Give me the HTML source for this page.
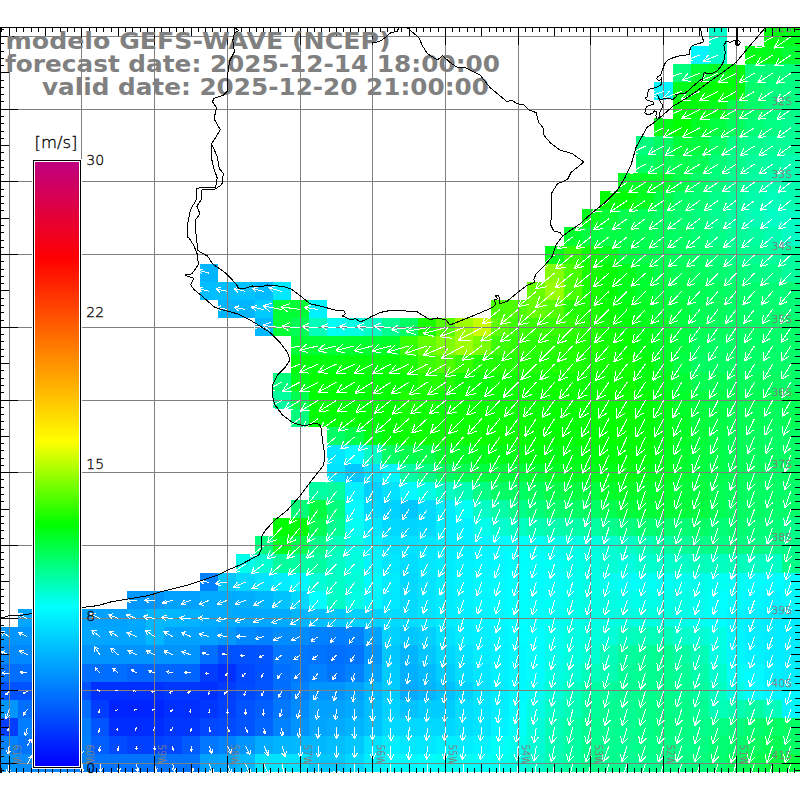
<!DOCTYPE html><html><head><meta charset="utf-8"><title>GEFS-WAVE</title><style>html,body{margin:0;padding:0;background:#fff}svg{display:block}</style></head><body><svg width="800" height="800" viewBox="0 0 800 800">
<rect width="800" height="800" fill="#fff"/>
<defs><clipPath id="fr"><rect x="0" y="28" width="800" height="744"/></clipPath>
<linearGradient id="cb" x1="0" y1="1" x2="0" y2="0">
<stop offset="0.0000" stop-color="rgb(0,0,255)"/>
<stop offset="0.2633" stop-color="rgb(0,255,255)"/>
<stop offset="0.4000" stop-color="rgb(0,255,0)"/>
<stop offset="0.5367" stop-color="rgb(255,255,0)"/>
<stop offset="0.8400" stop-color="rgb(255,0,0)"/>
<stop offset="1.0000" stop-color="rgb(192,0,128)"/>
</linearGradient></defs>
<g clip-path="url(#fr)" shape-rendering="crispEdges">
<rect x="709" y="27" width="18" height="19" fill="rgb(0,255,203)"/>
<rect x="764" y="27" width="18" height="19" fill="rgb(0,255,13)"/>
<rect x="782" y="27" width="18" height="19" fill="rgb(0,255,26)"/>
<rect x="691" y="46" width="18" height="18" fill="rgb(0,245,255)"/>
<rect x="709" y="46" width="18" height="18" fill="rgb(0,255,203)"/>
<rect x="745" y="46" width="19" height="18" fill="rgb(0,255,20)"/>
<rect x="764" y="46" width="18" height="18" fill="rgb(0,255,26)"/>
<rect x="782" y="46" width="18" height="18" fill="rgb(0,255,52)"/>
<rect x="673" y="64" width="18" height="18" fill="rgb(0,255,124)"/>
<rect x="691" y="64" width="18" height="18" fill="rgb(0,255,52)"/>
<rect x="709" y="64" width="18" height="18" fill="rgb(0,255,39)"/>
<rect x="727" y="64" width="18" height="18" fill="rgb(0,255,13)"/>
<rect x="745" y="64" width="19" height="18" fill="rgb(0,255,118)"/>
<rect x="764" y="64" width="18" height="18" fill="rgb(0,255,118)"/>
<rect x="782" y="64" width="18" height="18" fill="rgb(0,255,124)"/>
<rect x="654" y="82" width="19" height="18" fill="rgb(0,245,255)"/>
<rect x="673" y="82" width="18" height="18" fill="rgb(0,255,26)"/>
<rect x="691" y="82" width="18" height="18" fill="rgb(0,255,0)"/>
<rect x="709" y="82" width="18" height="18" fill="rgb(0,255,0)"/>
<rect x="727" y="82" width="18" height="18" fill="rgb(0,255,13)"/>
<rect x="745" y="82" width="19" height="18" fill="rgb(0,255,105)"/>
<rect x="764" y="82" width="18" height="18" fill="rgb(0,255,124)"/>
<rect x="782" y="82" width="18" height="18" fill="rgb(0,255,131)"/>
<rect x="673" y="100" width="18" height="18" fill="rgb(0,255,7)"/>
<rect x="691" y="100" width="18" height="18" fill="rgb(0,255,13)"/>
<rect x="709" y="100" width="18" height="18" fill="rgb(0,255,26)"/>
<rect x="727" y="100" width="18" height="18" fill="rgb(0,255,78)"/>
<rect x="745" y="100" width="19" height="18" fill="rgb(0,255,105)"/>
<rect x="764" y="100" width="18" height="18" fill="rgb(0,255,124)"/>
<rect x="782" y="100" width="18" height="18" fill="rgb(0,255,137)"/>
<rect x="654" y="118" width="19" height="18" fill="rgb(0,255,20)"/>
<rect x="673" y="118" width="18" height="18" fill="rgb(0,255,0)"/>
<rect x="691" y="118" width="18" height="18" fill="rgb(0,255,39)"/>
<rect x="709" y="118" width="18" height="18" fill="rgb(0,255,65)"/>
<rect x="727" y="118" width="18" height="18" fill="rgb(0,255,92)"/>
<rect x="745" y="118" width="19" height="18" fill="rgb(0,255,118)"/>
<rect x="764" y="118" width="18" height="18" fill="rgb(0,255,131)"/>
<rect x="782" y="118" width="18" height="18" fill="rgb(0,255,144)"/>
<rect x="636" y="136" width="18" height="19" fill="rgb(0,255,124)"/>
<rect x="654" y="136" width="19" height="19" fill="rgb(0,255,98)"/>
<rect x="673" y="136" width="18" height="19" fill="rgb(0,255,59)"/>
<rect x="691" y="136" width="18" height="19" fill="rgb(0,255,65)"/>
<rect x="709" y="136" width="18" height="19" fill="rgb(0,255,98)"/>
<rect x="727" y="136" width="18" height="19" fill="rgb(0,255,131)"/>
<rect x="745" y="136" width="19" height="19" fill="rgb(0,255,141)"/>
<rect x="764" y="136" width="18" height="19" fill="rgb(0,255,150)"/>
<rect x="782" y="136" width="18" height="19" fill="rgb(0,255,150)"/>
<rect x="636" y="155" width="18" height="18" fill="rgb(0,255,98)"/>
<rect x="654" y="155" width="19" height="18" fill="rgb(0,255,85)"/>
<rect x="673" y="155" width="18" height="18" fill="rgb(0,255,78)"/>
<rect x="691" y="155" width="18" height="18" fill="rgb(0,255,85)"/>
<rect x="709" y="155" width="18" height="18" fill="rgb(0,255,118)"/>
<rect x="727" y="155" width="18" height="18" fill="rgb(0,255,137)"/>
<rect x="745" y="155" width="19" height="18" fill="rgb(0,255,154)"/>
<rect x="764" y="155" width="18" height="18" fill="rgb(0,255,163)"/>
<rect x="782" y="155" width="18" height="18" fill="rgb(0,255,177)"/>
<rect x="618" y="173" width="18" height="18" fill="rgb(0,255,39)"/>
<rect x="636" y="173" width="18" height="18" fill="rgb(0,255,39)"/>
<rect x="654" y="173" width="19" height="18" fill="rgb(0,255,46)"/>
<rect x="673" y="173" width="18" height="18" fill="rgb(0,255,75)"/>
<rect x="691" y="173" width="18" height="18" fill="rgb(0,255,105)"/>
<rect x="709" y="173" width="18" height="18" fill="rgb(0,255,124)"/>
<rect x="727" y="173" width="18" height="18" fill="rgb(0,255,144)"/>
<rect x="745" y="173" width="19" height="18" fill="rgb(0,255,160)"/>
<rect x="764" y="173" width="18" height="18" fill="rgb(0,255,177)"/>
<rect x="782" y="173" width="18" height="18" fill="rgb(0,255,177)"/>
<rect x="600" y="191" width="18" height="18" fill="rgb(0,255,7)"/>
<rect x="618" y="191" width="18" height="18" fill="rgb(0,255,0)"/>
<rect x="636" y="191" width="18" height="18" fill="rgb(0,255,33)"/>
<rect x="654" y="191" width="19" height="18" fill="rgb(0,255,72)"/>
<rect x="673" y="191" width="18" height="18" fill="rgb(0,255,101)"/>
<rect x="691" y="191" width="18" height="18" fill="rgb(0,255,114)"/>
<rect x="709" y="191" width="18" height="18" fill="rgb(0,255,134)"/>
<rect x="727" y="191" width="18" height="18" fill="rgb(0,255,154)"/>
<rect x="745" y="191" width="19" height="18" fill="rgb(0,255,170)"/>
<rect x="764" y="191" width="18" height="18" fill="rgb(0,255,186)"/>
<rect x="782" y="191" width="18" height="18" fill="rgb(0,255,177)"/>
<rect x="582" y="209" width="18" height="18" fill="rgb(0,255,26)"/>
<rect x="600" y="209" width="18" height="18" fill="rgb(0,255,52)"/>
<rect x="618" y="209" width="18" height="18" fill="rgb(0,255,78)"/>
<rect x="636" y="209" width="18" height="18" fill="rgb(0,255,88)"/>
<rect x="654" y="209" width="19" height="18" fill="rgb(0,255,98)"/>
<rect x="673" y="209" width="18" height="18" fill="rgb(0,255,111)"/>
<rect x="691" y="209" width="18" height="18" fill="rgb(0,255,124)"/>
<rect x="709" y="209" width="18" height="18" fill="rgb(0,255,144)"/>
<rect x="727" y="209" width="18" height="18" fill="rgb(0,255,163)"/>
<rect x="745" y="209" width="19" height="18" fill="rgb(0,255,180)"/>
<rect x="764" y="209" width="18" height="18" fill="rgb(0,255,196)"/>
<rect x="782" y="209" width="18" height="18" fill="rgb(0,255,196)"/>
<rect x="564" y="227" width="18" height="19" fill="rgb(0,255,46)"/>
<rect x="582" y="227" width="18" height="19" fill="rgb(0,255,65)"/>
<rect x="600" y="227" width="18" height="19" fill="rgb(0,255,69)"/>
<rect x="618" y="227" width="18" height="19" fill="rgb(0,255,72)"/>
<rect x="636" y="227" width="18" height="19" fill="rgb(0,255,82)"/>
<rect x="654" y="227" width="19" height="19" fill="rgb(0,255,92)"/>
<rect x="673" y="227" width="18" height="19" fill="rgb(0,255,101)"/>
<rect x="691" y="227" width="18" height="19" fill="rgb(0,255,114)"/>
<rect x="709" y="227" width="18" height="19" fill="rgb(0,255,134)"/>
<rect x="727" y="227" width="18" height="19" fill="rgb(0,255,150)"/>
<rect x="745" y="227" width="19" height="19" fill="rgb(0,255,160)"/>
<rect x="764" y="227" width="18" height="19" fill="rgb(0,255,177)"/>
<rect x="782" y="227" width="18" height="19" fill="rgb(0,255,196)"/>
<rect x="545" y="246" width="19" height="18" fill="rgb(0,255,26)"/>
<rect x="564" y="246" width="18" height="18" fill="rgb(49,255,0)"/>
<rect x="582" y="246" width="18" height="18" fill="rgb(12,255,0)"/>
<rect x="600" y="246" width="18" height="18" fill="rgb(0,255,26)"/>
<rect x="618" y="246" width="18" height="18" fill="rgb(0,255,65)"/>
<rect x="636" y="246" width="18" height="18" fill="rgb(0,255,75)"/>
<rect x="654" y="246" width="19" height="18" fill="rgb(0,255,85)"/>
<rect x="673" y="246" width="18" height="18" fill="rgb(0,255,95)"/>
<rect x="691" y="246" width="18" height="18" fill="rgb(0,255,105)"/>
<rect x="709" y="246" width="18" height="18" fill="rgb(0,255,121)"/>
<rect x="727" y="246" width="18" height="18" fill="rgb(0,255,137)"/>
<rect x="745" y="246" width="19" height="18" fill="rgb(0,255,147)"/>
<rect x="764" y="246" width="18" height="18" fill="rgb(0,255,157)"/>
<rect x="782" y="246" width="18" height="18" fill="rgb(0,255,157)"/>
<rect x="200" y="264" width="18" height="18" fill="rgb(0,181,255)"/>
<rect x="545" y="264" width="19" height="18" fill="rgb(134,255,0)"/>
<rect x="564" y="264" width="18" height="18" fill="rgb(73,255,0)"/>
<rect x="582" y="264" width="18" height="18" fill="rgb(24,255,0)"/>
<rect x="600" y="264" width="18" height="18" fill="rgb(0,255,0)"/>
<rect x="618" y="264" width="18" height="18" fill="rgb(0,255,26)"/>
<rect x="636" y="264" width="18" height="18" fill="rgb(0,255,51)"/>
<rect x="654" y="264" width="19" height="18" fill="rgb(0,255,75)"/>
<rect x="673" y="264" width="18" height="18" fill="rgb(0,255,85)"/>
<rect x="691" y="264" width="18" height="18" fill="rgb(0,255,95)"/>
<rect x="709" y="264" width="18" height="18" fill="rgb(0,255,111)"/>
<rect x="727" y="264" width="18" height="18" fill="rgb(0,255,121)"/>
<rect x="745" y="264" width="19" height="18" fill="rgb(0,255,131)"/>
<rect x="764" y="264" width="18" height="18" fill="rgb(0,255,137)"/>
<rect x="782" y="264" width="18" height="18" fill="rgb(0,255,157)"/>
<rect x="200" y="282" width="18" height="18" fill="rgb(0,190,255)"/>
<rect x="218" y="282" width="18" height="18" fill="rgb(0,190,255)"/>
<rect x="236" y="282" width="19" height="18" fill="rgb(0,194,255)"/>
<rect x="255" y="282" width="18" height="18" fill="rgb(0,187,255)"/>
<rect x="273" y="282" width="18" height="18" fill="rgb(0,232,255)"/>
<rect x="527" y="282" width="18" height="18" fill="rgb(103,255,0)"/>
<rect x="545" y="282" width="19" height="18" fill="rgb(152,255,0)"/>
<rect x="564" y="282" width="18" height="18" fill="rgb(73,255,0)"/>
<rect x="582" y="282" width="18" height="18" fill="rgb(24,255,0)"/>
<rect x="600" y="282" width="18" height="18" fill="rgb(0,255,0)"/>
<rect x="618" y="282" width="18" height="18" fill="rgb(0,255,26)"/>
<rect x="636" y="282" width="18" height="18" fill="rgb(0,255,46)"/>
<rect x="654" y="282" width="19" height="18" fill="rgb(0,255,65)"/>
<rect x="673" y="282" width="18" height="18" fill="rgb(0,255,75)"/>
<rect x="691" y="282" width="18" height="18" fill="rgb(0,255,85)"/>
<rect x="709" y="282" width="18" height="18" fill="rgb(0,255,95)"/>
<rect x="727" y="282" width="18" height="18" fill="rgb(0,255,105)"/>
<rect x="745" y="282" width="19" height="18" fill="rgb(0,255,111)"/>
<rect x="764" y="282" width="18" height="18" fill="rgb(0,255,118)"/>
<rect x="782" y="282" width="18" height="18" fill="rgb(0,255,118)"/>
<rect x="218" y="300" width="18" height="18" fill="rgb(0,181,255)"/>
<rect x="236" y="300" width="19" height="18" fill="rgb(0,181,255)"/>
<rect x="255" y="300" width="18" height="18" fill="rgb(0,203,255)"/>
<rect x="273" y="300" width="18" height="18" fill="rgb(0,255,52)"/>
<rect x="291" y="300" width="18" height="18" fill="rgb(0,255,52)"/>
<rect x="309" y="300" width="18" height="18" fill="rgb(0,242,255)"/>
<rect x="491" y="300" width="18" height="18" fill="rgb(73,255,0)"/>
<rect x="509" y="300" width="18" height="18" fill="rgb(79,255,0)"/>
<rect x="527" y="300" width="18" height="18" fill="rgb(103,255,0)"/>
<rect x="545" y="300" width="19" height="18" fill="rgb(85,255,0)"/>
<rect x="564" y="300" width="18" height="18" fill="rgb(36,255,0)"/>
<rect x="582" y="300" width="18" height="18" fill="rgb(30,255,0)"/>
<rect x="600" y="300" width="18" height="18" fill="rgb(8,255,0)"/>
<rect x="618" y="300" width="18" height="18" fill="rgb(0,255,16)"/>
<rect x="636" y="300" width="18" height="18" fill="rgb(0,255,36)"/>
<rect x="654" y="300" width="19" height="18" fill="rgb(0,255,56)"/>
<rect x="673" y="300" width="18" height="18" fill="rgb(0,255,65)"/>
<rect x="691" y="300" width="18" height="18" fill="rgb(0,255,85)"/>
<rect x="709" y="300" width="18" height="18" fill="rgb(0,255,92)"/>
<rect x="727" y="300" width="18" height="18" fill="rgb(0,255,101)"/>
<rect x="745" y="300" width="19" height="18" fill="rgb(0,255,108)"/>
<rect x="764" y="300" width="18" height="18" fill="rgb(0,255,111)"/>
<rect x="782" y="300" width="18" height="18" fill="rgb(0,255,118)"/>
<rect x="255" y="318" width="18" height="18" fill="rgb(0,184,255)"/>
<rect x="273" y="318" width="18" height="18" fill="rgb(0,255,52)"/>
<rect x="291" y="318" width="18" height="18" fill="rgb(0,255,85)"/>
<rect x="309" y="318" width="18" height="18" fill="rgb(0,255,183)"/>
<rect x="327" y="318" width="18" height="18" fill="rgb(0,255,242)"/>
<rect x="345" y="318" width="19" height="18" fill="rgb(0,255,229)"/>
<rect x="364" y="318" width="18" height="18" fill="rgb(0,255,196)"/>
<rect x="382" y="318" width="18" height="18" fill="rgb(0,255,144)"/>
<rect x="400" y="318" width="18" height="18" fill="rgb(0,255,98)"/>
<rect x="418" y="318" width="18" height="18" fill="rgb(24,255,0)"/>
<rect x="436" y="318" width="19" height="18" fill="rgb(85,255,0)"/>
<rect x="455" y="318" width="18" height="18" fill="rgb(158,255,0)"/>
<rect x="473" y="318" width="18" height="18" fill="rgb(200,255,0)"/>
<rect x="491" y="318" width="18" height="18" fill="rgb(91,255,0)"/>
<rect x="509" y="318" width="18" height="18" fill="rgb(61,255,0)"/>
<rect x="527" y="318" width="18" height="18" fill="rgb(55,255,0)"/>
<rect x="545" y="318" width="19" height="18" fill="rgb(55,255,0)"/>
<rect x="564" y="318" width="18" height="18" fill="rgb(49,255,0)"/>
<rect x="582" y="318" width="18" height="18" fill="rgb(36,255,0)"/>
<rect x="600" y="318" width="18" height="18" fill="rgb(15,255,0)"/>
<rect x="618" y="318" width="18" height="18" fill="rgb(0,255,7)"/>
<rect x="636" y="318" width="18" height="18" fill="rgb(0,255,26)"/>
<rect x="654" y="318" width="19" height="18" fill="rgb(0,255,46)"/>
<rect x="673" y="318" width="18" height="18" fill="rgb(0,255,65)"/>
<rect x="691" y="318" width="18" height="18" fill="rgb(0,255,85)"/>
<rect x="709" y="318" width="18" height="18" fill="rgb(0,255,92)"/>
<rect x="727" y="318" width="18" height="18" fill="rgb(0,255,98)"/>
<rect x="745" y="318" width="19" height="18" fill="rgb(0,255,101)"/>
<rect x="764" y="318" width="18" height="18" fill="rgb(0,255,105)"/>
<rect x="782" y="318" width="18" height="18" fill="rgb(0,255,105)"/>
<rect x="291" y="336" width="18" height="19" fill="rgb(0,255,52)"/>
<rect x="309" y="336" width="18" height="19" fill="rgb(0,255,52)"/>
<rect x="327" y="336" width="18" height="19" fill="rgb(0,255,52)"/>
<rect x="345" y="336" width="19" height="19" fill="rgb(0,255,46)"/>
<rect x="364" y="336" width="18" height="19" fill="rgb(0,255,46)"/>
<rect x="382" y="336" width="18" height="19" fill="rgb(0,255,39)"/>
<rect x="400" y="336" width="18" height="19" fill="rgb(55,255,0)"/>
<rect x="418" y="336" width="18" height="19" fill="rgb(97,255,0)"/>
<rect x="436" y="336" width="19" height="19" fill="rgb(128,255,0)"/>
<rect x="455" y="336" width="18" height="19" fill="rgb(158,255,0)"/>
<rect x="473" y="336" width="18" height="19" fill="rgb(121,255,0)"/>
<rect x="491" y="336" width="18" height="19" fill="rgb(61,255,0)"/>
<rect x="509" y="336" width="18" height="19" fill="rgb(49,255,0)"/>
<rect x="527" y="336" width="18" height="19" fill="rgb(42,255,0)"/>
<rect x="545" y="336" width="19" height="19" fill="rgb(42,255,0)"/>
<rect x="564" y="336" width="18" height="19" fill="rgb(36,255,0)"/>
<rect x="582" y="336" width="18" height="19" fill="rgb(30,255,0)"/>
<rect x="600" y="336" width="18" height="19" fill="rgb(18,255,0)"/>
<rect x="618" y="336" width="18" height="19" fill="rgb(6,255,0)"/>
<rect x="636" y="336" width="18" height="19" fill="rgb(0,255,23)"/>
<rect x="654" y="336" width="19" height="19" fill="rgb(0,255,43)"/>
<rect x="673" y="336" width="18" height="19" fill="rgb(0,255,62)"/>
<rect x="691" y="336" width="18" height="19" fill="rgb(0,255,92)"/>
<rect x="709" y="336" width="18" height="19" fill="rgb(0,255,98)"/>
<rect x="727" y="336" width="18" height="19" fill="rgb(0,255,98)"/>
<rect x="745" y="336" width="19" height="19" fill="rgb(0,255,101)"/>
<rect x="764" y="336" width="18" height="19" fill="rgb(0,255,105)"/>
<rect x="782" y="336" width="18" height="19" fill="rgb(0,255,105)"/>
<rect x="291" y="355" width="18" height="18" fill="rgb(0,255,13)"/>
<rect x="309" y="355" width="18" height="18" fill="rgb(0,255,13)"/>
<rect x="327" y="355" width="18" height="18" fill="rgb(0,255,13)"/>
<rect x="345" y="355" width="19" height="18" fill="rgb(0,255,7)"/>
<rect x="364" y="355" width="18" height="18" fill="rgb(0,255,7)"/>
<rect x="382" y="355" width="18" height="18" fill="rgb(0,255,0)"/>
<rect x="400" y="355" width="18" height="18" fill="rgb(30,255,0)"/>
<rect x="418" y="355" width="18" height="18" fill="rgb(61,255,0)"/>
<rect x="436" y="355" width="19" height="18" fill="rgb(79,255,0)"/>
<rect x="455" y="355" width="18" height="18" fill="rgb(55,255,0)"/>
<rect x="473" y="355" width="18" height="18" fill="rgb(30,255,0)"/>
<rect x="491" y="355" width="18" height="18" fill="rgb(36,255,0)"/>
<rect x="509" y="355" width="18" height="18" fill="rgb(36,255,0)"/>
<rect x="527" y="355" width="18" height="18" fill="rgb(36,255,0)"/>
<rect x="545" y="355" width="19" height="18" fill="rgb(30,255,0)"/>
<rect x="564" y="355" width="18" height="18" fill="rgb(30,255,0)"/>
<rect x="582" y="355" width="18" height="18" fill="rgb(24,255,0)"/>
<rect x="600" y="355" width="18" height="18" fill="rgb(21,255,0)"/>
<rect x="618" y="355" width="18" height="18" fill="rgb(18,255,0)"/>
<rect x="636" y="355" width="18" height="18" fill="rgb(0,255,10)"/>
<rect x="654" y="355" width="19" height="18" fill="rgb(0,255,39)"/>
<rect x="673" y="355" width="18" height="18" fill="rgb(0,255,69)"/>
<rect x="691" y="355" width="18" height="18" fill="rgb(0,255,98)"/>
<rect x="709" y="355" width="18" height="18" fill="rgb(0,255,98)"/>
<rect x="727" y="355" width="18" height="18" fill="rgb(0,255,98)"/>
<rect x="745" y="355" width="19" height="18" fill="rgb(0,255,101)"/>
<rect x="764" y="355" width="18" height="18" fill="rgb(0,255,105)"/>
<rect x="782" y="355" width="18" height="18" fill="rgb(0,255,105)"/>
<rect x="273" y="373" width="18" height="18" fill="rgb(0,255,124)"/>
<rect x="291" y="373" width="18" height="18" fill="rgb(0,255,26)"/>
<rect x="309" y="373" width="18" height="18" fill="rgb(0,255,0)"/>
<rect x="327" y="373" width="18" height="18" fill="rgb(0,255,0)"/>
<rect x="345" y="373" width="19" height="18" fill="rgb(0,255,0)"/>
<rect x="364" y="373" width="18" height="18" fill="rgb(0,255,0)"/>
<rect x="382" y="373" width="18" height="18" fill="rgb(6,255,0)"/>
<rect x="400" y="373" width="18" height="18" fill="rgb(12,255,0)"/>
<rect x="418" y="373" width="18" height="18" fill="rgb(36,255,0)"/>
<rect x="436" y="373" width="19" height="18" fill="rgb(36,255,0)"/>
<rect x="455" y="373" width="18" height="18" fill="rgb(12,255,0)"/>
<rect x="473" y="373" width="18" height="18" fill="rgb(6,255,0)"/>
<rect x="491" y="373" width="18" height="18" fill="rgb(18,255,0)"/>
<rect x="509" y="373" width="18" height="18" fill="rgb(18,255,0)"/>
<rect x="527" y="373" width="18" height="18" fill="rgb(18,255,0)"/>
<rect x="545" y="373" width="19" height="18" fill="rgb(18,255,0)"/>
<rect x="564" y="373" width="18" height="18" fill="rgb(12,255,0)"/>
<rect x="582" y="373" width="18" height="18" fill="rgb(12,255,0)"/>
<rect x="600" y="373" width="18" height="18" fill="rgb(14,255,0)"/>
<rect x="618" y="373" width="18" height="18" fill="rgb(15,255,0)"/>
<rect x="636" y="373" width="18" height="18" fill="rgb(0,255,13)"/>
<rect x="654" y="373" width="19" height="18" fill="rgb(0,255,29)"/>
<rect x="673" y="373" width="18" height="18" fill="rgb(0,255,52)"/>
<rect x="691" y="373" width="18" height="18" fill="rgb(0,255,82)"/>
<rect x="709" y="373" width="18" height="18" fill="rgb(0,255,82)"/>
<rect x="727" y="373" width="18" height="18" fill="rgb(0,255,88)"/>
<rect x="745" y="373" width="19" height="18" fill="rgb(0,255,92)"/>
<rect x="764" y="373" width="18" height="18" fill="rgb(0,255,95)"/>
<rect x="782" y="373" width="18" height="18" fill="rgb(0,255,105)"/>
<rect x="273" y="391" width="18" height="18" fill="rgb(0,255,157)"/>
<rect x="291" y="391" width="18" height="18" fill="rgb(0,255,78)"/>
<rect x="309" y="391" width="18" height="18" fill="rgb(0,255,0)"/>
<rect x="327" y="391" width="18" height="18" fill="rgb(0,255,0)"/>
<rect x="345" y="391" width="19" height="18" fill="rgb(0,255,0)"/>
<rect x="364" y="391" width="18" height="18" fill="rgb(0,255,0)"/>
<rect x="382" y="391" width="18" height="18" fill="rgb(6,255,0)"/>
<rect x="400" y="391" width="18" height="18" fill="rgb(30,255,0)"/>
<rect x="418" y="391" width="18" height="18" fill="rgb(21,255,0)"/>
<rect x="436" y="391" width="19" height="18" fill="rgb(12,255,0)"/>
<rect x="455" y="391" width="18" height="18" fill="rgb(12,255,0)"/>
<rect x="473" y="391" width="18" height="18" fill="rgb(12,255,0)"/>
<rect x="491" y="391" width="18" height="18" fill="rgb(12,255,0)"/>
<rect x="509" y="391" width="18" height="18" fill="rgb(12,255,0)"/>
<rect x="527" y="391" width="18" height="18" fill="rgb(12,255,0)"/>
<rect x="545" y="391" width="19" height="18" fill="rgb(12,255,0)"/>
<rect x="564" y="391" width="18" height="18" fill="rgb(12,255,0)"/>
<rect x="582" y="391" width="18" height="18" fill="rgb(12,255,0)"/>
<rect x="600" y="391" width="18" height="18" fill="rgb(12,255,0)"/>
<rect x="618" y="391" width="18" height="18" fill="rgb(12,255,0)"/>
<rect x="636" y="391" width="18" height="18" fill="rgb(0,255,3)"/>
<rect x="654" y="391" width="19" height="18" fill="rgb(0,255,20)"/>
<rect x="673" y="391" width="18" height="18" fill="rgb(0,255,43)"/>
<rect x="691" y="391" width="18" height="18" fill="rgb(0,255,65)"/>
<rect x="709" y="391" width="18" height="18" fill="rgb(0,255,72)"/>
<rect x="727" y="391" width="18" height="18" fill="rgb(0,255,78)"/>
<rect x="745" y="391" width="19" height="18" fill="rgb(0,255,82)"/>
<rect x="764" y="391" width="18" height="18" fill="rgb(0,255,85)"/>
<rect x="782" y="391" width="18" height="18" fill="rgb(0,255,85)"/>
<rect x="291" y="409" width="18" height="18" fill="rgb(0,255,124)"/>
<rect x="309" y="409" width="18" height="18" fill="rgb(0,255,0)"/>
<rect x="327" y="409" width="18" height="18" fill="rgb(0,255,0)"/>
<rect x="345" y="409" width="19" height="18" fill="rgb(0,255,0)"/>
<rect x="364" y="409" width="18" height="18" fill="rgb(0,255,0)"/>
<rect x="382" y="409" width="18" height="18" fill="rgb(6,255,0)"/>
<rect x="400" y="409" width="18" height="18" fill="rgb(21,255,0)"/>
<rect x="418" y="409" width="18" height="18" fill="rgb(12,255,0)"/>
<rect x="436" y="409" width="19" height="18" fill="rgb(12,255,0)"/>
<rect x="455" y="409" width="18" height="18" fill="rgb(12,255,0)"/>
<rect x="473" y="409" width="18" height="18" fill="rgb(12,255,0)"/>
<rect x="491" y="409" width="18" height="18" fill="rgb(12,255,0)"/>
<rect x="509" y="409" width="18" height="18" fill="rgb(12,255,0)"/>
<rect x="527" y="409" width="18" height="18" fill="rgb(12,255,0)"/>
<rect x="545" y="409" width="19" height="18" fill="rgb(6,255,0)"/>
<rect x="564" y="409" width="18" height="18" fill="rgb(6,255,0)"/>
<rect x="582" y="409" width="18" height="18" fill="rgb(6,255,0)"/>
<rect x="600" y="409" width="18" height="18" fill="rgb(6,255,0)"/>
<rect x="618" y="409" width="18" height="18" fill="rgb(9,255,0)"/>
<rect x="636" y="409" width="18" height="18" fill="rgb(0,255,7)"/>
<rect x="654" y="409" width="19" height="18" fill="rgb(0,255,20)"/>
<rect x="673" y="409" width="18" height="18" fill="rgb(0,255,39)"/>
<rect x="691" y="409" width="18" height="18" fill="rgb(0,255,62)"/>
<rect x="709" y="409" width="18" height="18" fill="rgb(0,255,69)"/>
<rect x="727" y="409" width="18" height="18" fill="rgb(0,255,82)"/>
<rect x="745" y="409" width="19" height="18" fill="rgb(0,255,85)"/>
<rect x="764" y="409" width="18" height="18" fill="rgb(0,255,92)"/>
<rect x="782" y="409" width="18" height="18" fill="rgb(0,255,85)"/>
<rect x="327" y="427" width="18" height="18" fill="rgb(0,255,98)"/>
<rect x="345" y="427" width="19" height="18" fill="rgb(0,255,72)"/>
<rect x="364" y="427" width="18" height="18" fill="rgb(0,255,20)"/>
<rect x="382" y="427" width="18" height="18" fill="rgb(0,255,0)"/>
<rect x="400" y="427" width="18" height="18" fill="rgb(12,255,0)"/>
<rect x="418" y="427" width="18" height="18" fill="rgb(12,255,0)"/>
<rect x="436" y="427" width="19" height="18" fill="rgb(12,255,0)"/>
<rect x="455" y="427" width="18" height="18" fill="rgb(12,255,0)"/>
<rect x="473" y="427" width="18" height="18" fill="rgb(12,255,0)"/>
<rect x="491" y="427" width="18" height="18" fill="rgb(12,255,0)"/>
<rect x="509" y="427" width="18" height="18" fill="rgb(12,255,0)"/>
<rect x="527" y="427" width="18" height="18" fill="rgb(6,255,0)"/>
<rect x="545" y="427" width="19" height="18" fill="rgb(0,255,0)"/>
<rect x="564" y="427" width="18" height="18" fill="rgb(0,255,0)"/>
<rect x="582" y="427" width="18" height="18" fill="rgb(0,255,0)"/>
<rect x="600" y="427" width="18" height="18" fill="rgb(3,255,0)"/>
<rect x="618" y="427" width="18" height="18" fill="rgb(6,255,0)"/>
<rect x="636" y="427" width="18" height="18" fill="rgb(0,255,7)"/>
<rect x="654" y="427" width="19" height="18" fill="rgb(0,255,20)"/>
<rect x="673" y="427" width="18" height="18" fill="rgb(0,255,39)"/>
<rect x="691" y="427" width="18" height="18" fill="rgb(0,255,59)"/>
<rect x="709" y="427" width="18" height="18" fill="rgb(0,255,72)"/>
<rect x="727" y="427" width="18" height="18" fill="rgb(0,255,85)"/>
<rect x="745" y="427" width="19" height="18" fill="rgb(0,255,92)"/>
<rect x="764" y="427" width="18" height="18" fill="rgb(0,255,98)"/>
<rect x="782" y="427" width="18" height="18" fill="rgb(0,255,98)"/>
<rect x="327" y="445" width="18" height="19" fill="rgb(0,232,255)"/>
<rect x="345" y="445" width="19" height="19" fill="rgb(0,252,255)"/>
<rect x="364" y="445" width="18" height="19" fill="rgb(0,255,196)"/>
<rect x="382" y="445" width="18" height="19" fill="rgb(0,255,98)"/>
<rect x="400" y="445" width="18" height="19" fill="rgb(0,255,75)"/>
<rect x="418" y="445" width="18" height="19" fill="rgb(0,255,75)"/>
<rect x="436" y="445" width="19" height="19" fill="rgb(0,255,43)"/>
<rect x="455" y="445" width="18" height="19" fill="rgb(0,255,43)"/>
<rect x="473" y="445" width="18" height="19" fill="rgb(0,255,26)"/>
<rect x="491" y="445" width="18" height="19" fill="rgb(0,255,23)"/>
<rect x="509" y="445" width="18" height="19" fill="rgb(0,255,23)"/>
<rect x="527" y="445" width="18" height="19" fill="rgb(0,255,13)"/>
<rect x="545" y="445" width="19" height="19" fill="rgb(0,255,20)"/>
<rect x="564" y="445" width="18" height="19" fill="rgb(0,255,20)"/>
<rect x="582" y="445" width="18" height="19" fill="rgb(0,255,13)"/>
<rect x="600" y="445" width="18" height="19" fill="rgb(0,255,10)"/>
<rect x="618" y="445" width="18" height="19" fill="rgb(0,255,7)"/>
<rect x="636" y="445" width="18" height="19" fill="rgb(0,255,13)"/>
<rect x="654" y="445" width="19" height="19" fill="rgb(0,255,26)"/>
<rect x="673" y="445" width="18" height="19" fill="rgb(0,255,46)"/>
<rect x="691" y="445" width="18" height="19" fill="rgb(0,255,62)"/>
<rect x="709" y="445" width="18" height="19" fill="rgb(0,255,72)"/>
<rect x="727" y="445" width="18" height="19" fill="rgb(0,255,85)"/>
<rect x="745" y="445" width="19" height="19" fill="rgb(0,255,92)"/>
<rect x="764" y="445" width="18" height="19" fill="rgb(0,255,98)"/>
<rect x="782" y="445" width="18" height="19" fill="rgb(0,255,98)"/>
<rect x="327" y="464" width="18" height="18" fill="rgb(0,226,255)"/>
<rect x="345" y="464" width="19" height="18" fill="rgb(0,200,255)"/>
<rect x="364" y="464" width="18" height="18" fill="rgb(0,226,255)"/>
<rect x="382" y="464" width="18" height="18" fill="rgb(0,249,255)"/>
<rect x="400" y="464" width="18" height="18" fill="rgb(0,255,163)"/>
<rect x="418" y="464" width="18" height="18" fill="rgb(0,255,131)"/>
<rect x="436" y="464" width="19" height="18" fill="rgb(0,255,98)"/>
<rect x="455" y="464" width="18" height="18" fill="rgb(0,255,82)"/>
<rect x="473" y="464" width="18" height="18" fill="rgb(0,255,65)"/>
<rect x="491" y="464" width="18" height="18" fill="rgb(0,255,62)"/>
<rect x="509" y="464" width="18" height="18" fill="rgb(0,255,59)"/>
<rect x="527" y="464" width="18" height="18" fill="rgb(0,255,49)"/>
<rect x="545" y="464" width="19" height="18" fill="rgb(0,255,39)"/>
<rect x="564" y="464" width="18" height="18" fill="rgb(0,255,33)"/>
<rect x="582" y="464" width="18" height="18" fill="rgb(0,255,26)"/>
<rect x="600" y="464" width="18" height="18" fill="rgb(0,255,23)"/>
<rect x="618" y="464" width="18" height="18" fill="rgb(0,255,20)"/>
<rect x="636" y="464" width="18" height="18" fill="rgb(0,255,26)"/>
<rect x="654" y="464" width="19" height="18" fill="rgb(0,255,33)"/>
<rect x="673" y="464" width="18" height="18" fill="rgb(0,255,49)"/>
<rect x="691" y="464" width="18" height="18" fill="rgb(0,255,65)"/>
<rect x="709" y="464" width="18" height="18" fill="rgb(0,255,75)"/>
<rect x="727" y="464" width="18" height="18" fill="rgb(0,255,85)"/>
<rect x="745" y="464" width="19" height="18" fill="rgb(0,255,92)"/>
<rect x="764" y="464" width="18" height="18" fill="rgb(0,255,98)"/>
<rect x="782" y="464" width="18" height="18" fill="rgb(0,255,98)"/>
<rect x="309" y="482" width="18" height="18" fill="rgb(0,255,163)"/>
<rect x="327" y="482" width="18" height="18" fill="rgb(0,255,157)"/>
<rect x="345" y="482" width="19" height="18" fill="rgb(0,242,255)"/>
<rect x="364" y="482" width="18" height="18" fill="rgb(0,210,255)"/>
<rect x="382" y="482" width="18" height="18" fill="rgb(0,226,255)"/>
<rect x="400" y="482" width="18" height="18" fill="rgb(0,250,255)"/>
<rect x="418" y="482" width="18" height="18" fill="rgb(0,255,229)"/>
<rect x="436" y="482" width="19" height="18" fill="rgb(0,255,196)"/>
<rect x="455" y="482" width="18" height="18" fill="rgb(0,255,180)"/>
<rect x="473" y="482" width="18" height="18" fill="rgb(0,255,131)"/>
<rect x="491" y="482" width="18" height="18" fill="rgb(0,255,101)"/>
<rect x="509" y="482" width="18" height="18" fill="rgb(0,255,98)"/>
<rect x="527" y="482" width="18" height="18" fill="rgb(0,255,88)"/>
<rect x="545" y="482" width="19" height="18" fill="rgb(0,255,72)"/>
<rect x="564" y="482" width="18" height="18" fill="rgb(0,255,65)"/>
<rect x="582" y="482" width="18" height="18" fill="rgb(0,255,62)"/>
<rect x="600" y="482" width="18" height="18" fill="rgb(0,255,43)"/>
<rect x="618" y="482" width="18" height="18" fill="rgb(0,255,39)"/>
<rect x="636" y="482" width="18" height="18" fill="rgb(0,255,46)"/>
<rect x="654" y="482" width="19" height="18" fill="rgb(0,255,43)"/>
<rect x="673" y="482" width="18" height="18" fill="rgb(0,255,59)"/>
<rect x="691" y="482" width="18" height="18" fill="rgb(0,255,65)"/>
<rect x="709" y="482" width="18" height="18" fill="rgb(0,255,82)"/>
<rect x="727" y="482" width="18" height="18" fill="rgb(0,255,92)"/>
<rect x="745" y="482" width="19" height="18" fill="rgb(0,255,98)"/>
<rect x="764" y="482" width="18" height="18" fill="rgb(0,255,101)"/>
<rect x="782" y="482" width="18" height="18" fill="rgb(0,255,105)"/>
<rect x="291" y="500" width="18" height="18" fill="rgb(0,255,118)"/>
<rect x="309" y="500" width="18" height="18" fill="rgb(0,255,65)"/>
<rect x="327" y="500" width="18" height="18" fill="rgb(0,255,124)"/>
<rect x="345" y="500" width="19" height="18" fill="rgb(0,252,255)"/>
<rect x="364" y="500" width="18" height="18" fill="rgb(0,216,255)"/>
<rect x="382" y="500" width="18" height="18" fill="rgb(0,210,255)"/>
<rect x="400" y="500" width="18" height="18" fill="rgb(0,200,255)"/>
<rect x="418" y="500" width="18" height="18" fill="rgb(0,218,255)"/>
<rect x="436" y="500" width="19" height="18" fill="rgb(0,236,255)"/>
<rect x="455" y="500" width="18" height="18" fill="rgb(0,255,245)"/>
<rect x="473" y="500" width="18" height="18" fill="rgb(0,255,196)"/>
<rect x="491" y="500" width="18" height="18" fill="rgb(0,255,167)"/>
<rect x="509" y="500" width="18" height="18" fill="rgb(0,255,137)"/>
<rect x="527" y="500" width="18" height="18" fill="rgb(0,255,121)"/>
<rect x="545" y="500" width="19" height="18" fill="rgb(0,255,105)"/>
<rect x="564" y="500" width="18" height="18" fill="rgb(0,255,101)"/>
<rect x="582" y="500" width="18" height="18" fill="rgb(0,255,98)"/>
<rect x="600" y="500" width="18" height="18" fill="rgb(0,255,78)"/>
<rect x="618" y="500" width="18" height="18" fill="rgb(0,255,59)"/>
<rect x="636" y="500" width="18" height="18" fill="rgb(0,255,56)"/>
<rect x="654" y="500" width="19" height="18" fill="rgb(0,255,52)"/>
<rect x="673" y="500" width="18" height="18" fill="rgb(0,255,59)"/>
<rect x="691" y="500" width="18" height="18" fill="rgb(0,255,65)"/>
<rect x="709" y="500" width="18" height="18" fill="rgb(0,255,82)"/>
<rect x="727" y="500" width="18" height="18" fill="rgb(0,255,98)"/>
<rect x="745" y="500" width="19" height="18" fill="rgb(0,255,101)"/>
<rect x="764" y="500" width="18" height="18" fill="rgb(0,255,105)"/>
<rect x="782" y="500" width="18" height="18" fill="rgb(0,255,105)"/>
<rect x="273" y="518" width="18" height="18" fill="rgb(0,255,0)"/>
<rect x="291" y="518" width="18" height="18" fill="rgb(0,255,7)"/>
<rect x="309" y="518" width="18" height="18" fill="rgb(0,255,85)"/>
<rect x="327" y="518" width="18" height="18" fill="rgb(0,255,144)"/>
<rect x="345" y="518" width="19" height="18" fill="rgb(0,255,242)"/>
<rect x="364" y="518" width="18" height="18" fill="rgb(0,232,255)"/>
<rect x="382" y="518" width="18" height="18" fill="rgb(0,216,255)"/>
<rect x="400" y="518" width="18" height="18" fill="rgb(0,213,255)"/>
<rect x="418" y="518" width="18" height="18" fill="rgb(0,218,255)"/>
<rect x="436" y="518" width="19" height="18" fill="rgb(0,236,255)"/>
<rect x="455" y="518" width="18" height="18" fill="rgb(0,240,255)"/>
<rect x="473" y="518" width="18" height="18" fill="rgb(0,255,235)"/>
<rect x="491" y="518" width="18" height="18" fill="rgb(0,255,206)"/>
<rect x="509" y="518" width="18" height="18" fill="rgb(0,255,193)"/>
<rect x="527" y="518" width="18" height="18" fill="rgb(0,255,177)"/>
<rect x="545" y="518" width="19" height="18" fill="rgb(0,255,170)"/>
<rect x="564" y="518" width="18" height="18" fill="rgb(0,255,167)"/>
<rect x="582" y="518" width="18" height="18" fill="rgb(0,255,160)"/>
<rect x="600" y="518" width="18" height="18" fill="rgb(0,255,141)"/>
<rect x="618" y="518" width="18" height="18" fill="rgb(0,255,127)"/>
<rect x="636" y="518" width="18" height="18" fill="rgb(0,255,111)"/>
<rect x="654" y="518" width="19" height="18" fill="rgb(0,255,108)"/>
<rect x="673" y="518" width="18" height="18" fill="rgb(0,255,114)"/>
<rect x="691" y="518" width="18" height="18" fill="rgb(0,255,101)"/>
<rect x="709" y="518" width="18" height="18" fill="rgb(0,255,118)"/>
<rect x="727" y="518" width="18" height="18" fill="rgb(0,255,111)"/>
<rect x="745" y="518" width="19" height="18" fill="rgb(0,255,118)"/>
<rect x="764" y="518" width="18" height="18" fill="rgb(0,255,121)"/>
<rect x="782" y="518" width="18" height="18" fill="rgb(0,255,137)"/>
<rect x="255" y="536" width="18" height="18" fill="rgb(0,255,124)"/>
<rect x="273" y="536" width="18" height="18" fill="rgb(0,255,33)"/>
<rect x="291" y="536" width="18" height="18" fill="rgb(0,255,78)"/>
<rect x="309" y="536" width="18" height="18" fill="rgb(0,255,137)"/>
<rect x="327" y="536" width="18" height="18" fill="rgb(0,255,183)"/>
<rect x="345" y="536" width="19" height="18" fill="rgb(0,255,229)"/>
<rect x="364" y="536" width="18" height="18" fill="rgb(0,242,255)"/>
<rect x="382" y="536" width="18" height="18" fill="rgb(0,226,255)"/>
<rect x="400" y="536" width="18" height="18" fill="rgb(0,226,255)"/>
<rect x="418" y="536" width="18" height="18" fill="rgb(0,231,255)"/>
<rect x="436" y="536" width="19" height="18" fill="rgb(0,236,255)"/>
<rect x="455" y="536" width="18" height="18" fill="rgb(0,240,255)"/>
<rect x="473" y="536" width="18" height="18" fill="rgb(0,245,255)"/>
<rect x="491" y="536" width="18" height="18" fill="rgb(0,252,255)"/>
<rect x="509" y="536" width="18" height="18" fill="rgb(0,255,248)"/>
<rect x="527" y="536" width="18" height="18" fill="rgb(0,255,242)"/>
<rect x="545" y="536" width="19" height="18" fill="rgb(0,255,235)"/>
<rect x="564" y="536" width="18" height="18" fill="rgb(0,255,229)"/>
<rect x="582" y="536" width="18" height="18" fill="rgb(0,255,222)"/>
<rect x="600" y="536" width="18" height="18" fill="rgb(0,255,209)"/>
<rect x="618" y="536" width="18" height="18" fill="rgb(0,255,196)"/>
<rect x="636" y="536" width="18" height="18" fill="rgb(0,255,180)"/>
<rect x="654" y="536" width="19" height="18" fill="rgb(0,255,163)"/>
<rect x="673" y="536" width="18" height="18" fill="rgb(0,255,150)"/>
<rect x="691" y="536" width="18" height="18" fill="rgb(0,255,137)"/>
<rect x="709" y="536" width="18" height="18" fill="rgb(0,255,131)"/>
<rect x="727" y="536" width="18" height="18" fill="rgb(0,255,124)"/>
<rect x="745" y="536" width="19" height="18" fill="rgb(0,255,131)"/>
<rect x="764" y="536" width="18" height="18" fill="rgb(0,255,137)"/>
<rect x="782" y="536" width="18" height="18" fill="rgb(0,255,137)"/>
<rect x="236" y="554" width="19" height="19" fill="rgb(0,255,235)"/>
<rect x="255" y="554" width="18" height="19" fill="rgb(0,255,209)"/>
<rect x="273" y="554" width="18" height="19" fill="rgb(0,255,157)"/>
<rect x="291" y="554" width="18" height="19" fill="rgb(0,255,163)"/>
<rect x="309" y="554" width="18" height="19" fill="rgb(0,255,163)"/>
<rect x="327" y="554" width="18" height="19" fill="rgb(0,255,196)"/>
<rect x="345" y="554" width="19" height="19" fill="rgb(0,255,222)"/>
<rect x="364" y="554" width="18" height="19" fill="rgb(0,245,255)"/>
<rect x="382" y="554" width="18" height="19" fill="rgb(0,232,255)"/>
<rect x="400" y="554" width="18" height="19" fill="rgb(0,221,255)"/>
<rect x="418" y="554" width="18" height="19" fill="rgb(0,232,255)"/>
<rect x="436" y="554" width="19" height="19" fill="rgb(0,237,255)"/>
<rect x="455" y="554" width="18" height="19" fill="rgb(0,242,255)"/>
<rect x="473" y="554" width="18" height="19" fill="rgb(0,247,255)"/>
<rect x="491" y="554" width="18" height="19" fill="rgb(0,250,255)"/>
<rect x="509" y="554" width="18" height="19" fill="rgb(0,255,252)"/>
<rect x="527" y="554" width="18" height="19" fill="rgb(0,255,248)"/>
<rect x="545" y="554" width="19" height="19" fill="rgb(0,255,242)"/>
<rect x="564" y="554" width="18" height="19" fill="rgb(0,255,232)"/>
<rect x="582" y="554" width="18" height="19" fill="rgb(0,255,226)"/>
<rect x="600" y="554" width="18" height="19" fill="rgb(0,255,212)"/>
<rect x="618" y="554" width="18" height="19" fill="rgb(0,255,222)"/>
<rect x="636" y="554" width="18" height="19" fill="rgb(0,255,206)"/>
<rect x="654" y="554" width="19" height="19" fill="rgb(0,255,203)"/>
<rect x="673" y="554" width="18" height="19" fill="rgb(0,255,199)"/>
<rect x="691" y="554" width="18" height="19" fill="rgb(0,255,186)"/>
<rect x="709" y="554" width="18" height="19" fill="rgb(0,255,193)"/>
<rect x="727" y="554" width="18" height="19" fill="rgb(0,255,186)"/>
<rect x="745" y="554" width="19" height="19" fill="rgb(0,255,193)"/>
<rect x="764" y="554" width="18" height="19" fill="rgb(0,255,199)"/>
<rect x="782" y="554" width="18" height="19" fill="rgb(0,255,137)"/>
<rect x="200" y="573" width="18" height="18" fill="rgb(0,129,255)"/>
<rect x="218" y="573" width="18" height="18" fill="rgb(0,200,255)"/>
<rect x="236" y="573" width="19" height="18" fill="rgb(0,216,255)"/>
<rect x="255" y="573" width="18" height="18" fill="rgb(0,226,255)"/>
<rect x="273" y="573" width="18" height="18" fill="rgb(0,236,255)"/>
<rect x="291" y="573" width="18" height="18" fill="rgb(0,249,255)"/>
<rect x="309" y="573" width="18" height="18" fill="rgb(0,255,216)"/>
<rect x="327" y="573" width="18" height="18" fill="rgb(0,255,196)"/>
<rect x="345" y="573" width="19" height="18" fill="rgb(0,255,216)"/>
<rect x="364" y="573" width="18" height="18" fill="rgb(0,252,255)"/>
<rect x="382" y="573" width="18" height="18" fill="rgb(0,236,255)"/>
<rect x="400" y="573" width="18" height="18" fill="rgb(0,216,255)"/>
<rect x="418" y="573" width="18" height="18" fill="rgb(0,228,255)"/>
<rect x="436" y="573" width="19" height="18" fill="rgb(0,239,255)"/>
<rect x="455" y="573" width="18" height="18" fill="rgb(0,244,255)"/>
<rect x="473" y="573" width="18" height="18" fill="rgb(0,249,255)"/>
<rect x="491" y="573" width="18" height="18" fill="rgb(0,252,255)"/>
<rect x="509" y="573" width="18" height="18" fill="rgb(0,255,255)"/>
<rect x="527" y="573" width="18" height="18" fill="rgb(0,255,252)"/>
<rect x="545" y="573" width="19" height="18" fill="rgb(0,255,248)"/>
<rect x="564" y="573" width="18" height="18" fill="rgb(0,255,239)"/>
<rect x="582" y="573" width="18" height="18" fill="rgb(0,255,229)"/>
<rect x="600" y="573" width="18" height="18" fill="rgb(0,255,239)"/>
<rect x="618" y="573" width="18" height="18" fill="rgb(0,255,248)"/>
<rect x="636" y="573" width="18" height="18" fill="rgb(0,255,245)"/>
<rect x="654" y="573" width="19" height="18" fill="rgb(0,255,242)"/>
<rect x="673" y="573" width="18" height="18" fill="rgb(0,255,239)"/>
<rect x="691" y="573" width="18" height="18" fill="rgb(0,255,235)"/>
<rect x="709" y="573" width="18" height="18" fill="rgb(0,255,242)"/>
<rect x="727" y="573" width="18" height="18" fill="rgb(0,255,248)"/>
<rect x="745" y="573" width="19" height="18" fill="rgb(0,255,255)"/>
<rect x="764" y="573" width="18" height="18" fill="rgb(0,252,255)"/>
<rect x="782" y="573" width="18" height="18" fill="rgb(0,252,255)"/>
<rect x="127" y="591" width="19" height="18" fill="rgb(0,152,255)"/>
<rect x="146" y="591" width="18" height="18" fill="rgb(0,152,255)"/>
<rect x="164" y="591" width="18" height="18" fill="rgb(0,161,255)"/>
<rect x="182" y="591" width="18" height="18" fill="rgb(0,161,255)"/>
<rect x="200" y="591" width="18" height="18" fill="rgb(0,171,255)"/>
<rect x="218" y="591" width="18" height="18" fill="rgb(0,171,255)"/>
<rect x="236" y="591" width="19" height="18" fill="rgb(0,174,255)"/>
<rect x="255" y="591" width="18" height="18" fill="rgb(0,181,255)"/>
<rect x="273" y="591" width="18" height="18" fill="rgb(0,194,255)"/>
<rect x="291" y="591" width="18" height="18" fill="rgb(0,216,255)"/>
<rect x="309" y="591" width="18" height="18" fill="rgb(0,255,255)"/>
<rect x="327" y="591" width="18" height="18" fill="rgb(0,255,196)"/>
<rect x="345" y="591" width="19" height="18" fill="rgb(0,255,229)"/>
<rect x="364" y="591" width="18" height="18" fill="rgb(0,245,255)"/>
<rect x="382" y="591" width="18" height="18" fill="rgb(0,232,255)"/>
<rect x="400" y="591" width="18" height="18" fill="rgb(0,218,255)"/>
<rect x="418" y="591" width="18" height="18" fill="rgb(0,229,255)"/>
<rect x="436" y="591" width="19" height="18" fill="rgb(0,237,255)"/>
<rect x="455" y="591" width="18" height="18" fill="rgb(0,242,255)"/>
<rect x="473" y="591" width="18" height="18" fill="rgb(0,247,255)"/>
<rect x="491" y="591" width="18" height="18" fill="rgb(0,252,255)"/>
<rect x="509" y="591" width="18" height="18" fill="rgb(0,255,255)"/>
<rect x="527" y="591" width="18" height="18" fill="rgb(0,255,248)"/>
<rect x="545" y="591" width="19" height="18" fill="rgb(0,255,245)"/>
<rect x="564" y="591" width="18" height="18" fill="rgb(0,255,235)"/>
<rect x="582" y="591" width="18" height="18" fill="rgb(0,255,229)"/>
<rect x="600" y="591" width="18" height="18" fill="rgb(0,255,226)"/>
<rect x="618" y="591" width="18" height="18" fill="rgb(0,255,235)"/>
<rect x="636" y="591" width="18" height="18" fill="rgb(0,255,232)"/>
<rect x="654" y="591" width="19" height="18" fill="rgb(0,255,232)"/>
<rect x="673" y="591" width="18" height="18" fill="rgb(0,255,229)"/>
<rect x="691" y="591" width="18" height="18" fill="rgb(0,255,239)"/>
<rect x="709" y="591" width="18" height="18" fill="rgb(0,255,255)"/>
<rect x="727" y="591" width="18" height="18" fill="rgb(0,252,255)"/>
<rect x="745" y="591" width="19" height="18" fill="rgb(0,249,255)"/>
<rect x="764" y="591" width="18" height="18" fill="rgb(0,244,255)"/>
<rect x="782" y="591" width="18" height="18" fill="rgb(0,252,255)"/>
<rect x="18" y="609" width="19" height="18" fill="rgb(0,165,255)"/>
<rect x="37" y="609" width="18" height="18" fill="rgb(0,165,255)"/>
<rect x="55" y="609" width="18" height="18" fill="rgb(0,161,255)"/>
<rect x="73" y="609" width="18" height="18" fill="rgb(0,161,255)"/>
<rect x="91" y="609" width="18" height="18" fill="rgb(0,161,255)"/>
<rect x="109" y="609" width="18" height="18" fill="rgb(0,161,255)"/>
<rect x="127" y="609" width="19" height="18" fill="rgb(0,168,255)"/>
<rect x="146" y="609" width="18" height="18" fill="rgb(0,184,255)"/>
<rect x="164" y="609" width="18" height="18" fill="rgb(0,184,255)"/>
<rect x="182" y="609" width="18" height="18" fill="rgb(0,178,255)"/>
<rect x="200" y="609" width="18" height="18" fill="rgb(0,171,255)"/>
<rect x="218" y="609" width="18" height="18" fill="rgb(0,171,255)"/>
<rect x="236" y="609" width="19" height="18" fill="rgb(0,168,255)"/>
<rect x="255" y="609" width="18" height="18" fill="rgb(0,168,255)"/>
<rect x="273" y="609" width="18" height="18" fill="rgb(0,171,255)"/>
<rect x="291" y="609" width="18" height="18" fill="rgb(0,181,255)"/>
<rect x="309" y="609" width="18" height="18" fill="rgb(0,190,255)"/>
<rect x="327" y="609" width="18" height="18" fill="rgb(0,200,255)"/>
<rect x="345" y="609" width="19" height="18" fill="rgb(0,210,255)"/>
<rect x="364" y="609" width="18" height="18" fill="rgb(0,210,255)"/>
<rect x="382" y="609" width="18" height="18" fill="rgb(0,219,255)"/>
<rect x="400" y="609" width="18" height="18" fill="rgb(0,219,255)"/>
<rect x="418" y="609" width="18" height="18" fill="rgb(0,228,255)"/>
<rect x="436" y="609" width="19" height="18" fill="rgb(0,236,255)"/>
<rect x="455" y="609" width="18" height="18" fill="rgb(0,240,255)"/>
<rect x="473" y="609" width="18" height="18" fill="rgb(0,245,255)"/>
<rect x="491" y="609" width="18" height="18" fill="rgb(0,250,255)"/>
<rect x="509" y="609" width="18" height="18" fill="rgb(0,255,255)"/>
<rect x="527" y="609" width="18" height="18" fill="rgb(0,255,248)"/>
<rect x="545" y="609" width="19" height="18" fill="rgb(0,255,242)"/>
<rect x="564" y="609" width="18" height="18" fill="rgb(0,255,235)"/>
<rect x="582" y="609" width="18" height="18" fill="rgb(0,255,229)"/>
<rect x="600" y="609" width="18" height="18" fill="rgb(0,255,226)"/>
<rect x="618" y="609" width="18" height="18" fill="rgb(0,255,222)"/>
<rect x="636" y="609" width="18" height="18" fill="rgb(0,255,222)"/>
<rect x="654" y="609" width="19" height="18" fill="rgb(0,255,222)"/>
<rect x="673" y="609" width="18" height="18" fill="rgb(0,255,232)"/>
<rect x="691" y="609" width="18" height="18" fill="rgb(0,255,242)"/>
<rect x="709" y="609" width="18" height="18" fill="rgb(0,253,255)"/>
<rect x="727" y="609" width="18" height="18" fill="rgb(0,245,255)"/>
<rect x="745" y="609" width="19" height="18" fill="rgb(0,240,255)"/>
<rect x="764" y="609" width="18" height="18" fill="rgb(0,236,255)"/>
<rect x="782" y="609" width="18" height="18" fill="rgb(0,236,255)"/>
<rect x="0" y="627" width="18" height="18" fill="rgb(0,148,255)"/>
<rect x="18" y="627" width="19" height="18" fill="rgb(0,148,255)"/>
<rect x="37" y="627" width="18" height="18" fill="rgb(0,155,255)"/>
<rect x="55" y="627" width="18" height="18" fill="rgb(0,161,255)"/>
<rect x="73" y="627" width="18" height="18" fill="rgb(0,165,255)"/>
<rect x="91" y="627" width="18" height="18" fill="rgb(0,165,255)"/>
<rect x="109" y="627" width="18" height="18" fill="rgb(0,165,255)"/>
<rect x="127" y="627" width="19" height="18" fill="rgb(0,165,255)"/>
<rect x="146" y="627" width="18" height="18" fill="rgb(0,184,255)"/>
<rect x="164" y="627" width="18" height="18" fill="rgb(0,161,255)"/>
<rect x="182" y="627" width="18" height="18" fill="rgb(0,161,255)"/>
<rect x="200" y="627" width="18" height="18" fill="rgb(0,161,255)"/>
<rect x="218" y="627" width="18" height="18" fill="rgb(0,152,255)"/>
<rect x="236" y="627" width="19" height="18" fill="rgb(0,136,255)"/>
<rect x="255" y="627" width="18" height="18" fill="rgb(0,129,255)"/>
<rect x="273" y="627" width="18" height="18" fill="rgb(0,139,255)"/>
<rect x="291" y="627" width="18" height="18" fill="rgb(0,139,255)"/>
<rect x="309" y="627" width="18" height="18" fill="rgb(0,129,255)"/>
<rect x="327" y="627" width="18" height="18" fill="rgb(0,126,255)"/>
<rect x="345" y="627" width="19" height="18" fill="rgb(0,129,255)"/>
<rect x="364" y="627" width="18" height="18" fill="rgb(0,161,255)"/>
<rect x="382" y="627" width="18" height="18" fill="rgb(0,210,255)"/>
<rect x="400" y="627" width="18" height="18" fill="rgb(0,200,255)"/>
<rect x="418" y="627" width="18" height="18" fill="rgb(0,208,255)"/>
<rect x="436" y="627" width="19" height="18" fill="rgb(0,226,255)"/>
<rect x="455" y="627" width="18" height="18" fill="rgb(0,236,255)"/>
<rect x="473" y="627" width="18" height="18" fill="rgb(0,240,255)"/>
<rect x="491" y="627" width="18" height="18" fill="rgb(0,245,255)"/>
<rect x="509" y="627" width="18" height="18" fill="rgb(0,252,255)"/>
<rect x="527" y="627" width="18" height="18" fill="rgb(0,255,255)"/>
<rect x="545" y="627" width="19" height="18" fill="rgb(0,255,239)"/>
<rect x="564" y="627" width="18" height="18" fill="rgb(0,255,226)"/>
<rect x="582" y="627" width="18" height="18" fill="rgb(0,255,219)"/>
<rect x="600" y="627" width="18" height="18" fill="rgb(0,255,216)"/>
<rect x="618" y="627" width="18" height="18" fill="rgb(0,255,190)"/>
<rect x="636" y="627" width="18" height="18" fill="rgb(0,255,183)"/>
<rect x="654" y="627" width="19" height="18" fill="rgb(0,255,183)"/>
<rect x="673" y="627" width="18" height="18" fill="rgb(0,255,203)"/>
<rect x="691" y="627" width="18" height="18" fill="rgb(0,255,212)"/>
<rect x="709" y="627" width="18" height="18" fill="rgb(0,255,229)"/>
<rect x="727" y="627" width="18" height="18" fill="rgb(0,247,255)"/>
<rect x="745" y="627" width="19" height="18" fill="rgb(0,240,255)"/>
<rect x="764" y="627" width="18" height="18" fill="rgb(0,236,255)"/>
<rect x="782" y="627" width="18" height="18" fill="rgb(0,236,255)"/>
<rect x="0" y="645" width="18" height="19" fill="rgb(0,136,255)"/>
<rect x="18" y="645" width="19" height="19" fill="rgb(0,136,255)"/>
<rect x="37" y="645" width="18" height="19" fill="rgb(0,142,255)"/>
<rect x="55" y="645" width="18" height="19" fill="rgb(0,145,255)"/>
<rect x="73" y="645" width="18" height="19" fill="rgb(0,148,255)"/>
<rect x="91" y="645" width="18" height="19" fill="rgb(0,148,255)"/>
<rect x="109" y="645" width="18" height="19" fill="rgb(0,148,255)"/>
<rect x="127" y="645" width="19" height="19" fill="rgb(0,148,255)"/>
<rect x="146" y="645" width="18" height="19" fill="rgb(0,148,255)"/>
<rect x="164" y="645" width="18" height="19" fill="rgb(0,148,255)"/>
<rect x="182" y="645" width="18" height="19" fill="rgb(0,148,255)"/>
<rect x="200" y="645" width="18" height="19" fill="rgb(0,110,255)"/>
<rect x="218" y="645" width="18" height="19" fill="rgb(0,81,255)"/>
<rect x="236" y="645" width="19" height="19" fill="rgb(0,81,255)"/>
<rect x="255" y="645" width="18" height="19" fill="rgb(0,84,255)"/>
<rect x="273" y="645" width="18" height="19" fill="rgb(0,119,255)"/>
<rect x="291" y="645" width="18" height="19" fill="rgb(0,119,255)"/>
<rect x="309" y="645" width="18" height="19" fill="rgb(0,116,255)"/>
<rect x="327" y="645" width="18" height="19" fill="rgb(0,110,255)"/>
<rect x="345" y="645" width="19" height="19" fill="rgb(0,116,255)"/>
<rect x="364" y="645" width="18" height="19" fill="rgb(0,148,255)"/>
<rect x="382" y="645" width="18" height="19" fill="rgb(0,200,255)"/>
<rect x="400" y="645" width="18" height="19" fill="rgb(0,181,255)"/>
<rect x="418" y="645" width="18" height="19" fill="rgb(0,199,255)"/>
<rect x="436" y="645" width="19" height="19" fill="rgb(0,216,255)"/>
<rect x="455" y="645" width="18" height="19" fill="rgb(0,226,255)"/>
<rect x="473" y="645" width="18" height="19" fill="rgb(0,236,255)"/>
<rect x="491" y="645" width="18" height="19" fill="rgb(0,242,255)"/>
<rect x="509" y="645" width="18" height="19" fill="rgb(0,249,255)"/>
<rect x="527" y="645" width="18" height="19" fill="rgb(0,255,252)"/>
<rect x="545" y="645" width="19" height="19" fill="rgb(0,255,235)"/>
<rect x="564" y="645" width="18" height="19" fill="rgb(0,255,222)"/>
<rect x="582" y="645" width="18" height="19" fill="rgb(0,255,209)"/>
<rect x="600" y="645" width="18" height="19" fill="rgb(0,255,183)"/>
<rect x="618" y="645" width="18" height="19" fill="rgb(0,255,157)"/>
<rect x="636" y="645" width="18" height="19" fill="rgb(0,255,150)"/>
<rect x="654" y="645" width="19" height="19" fill="rgb(0,255,144)"/>
<rect x="673" y="645" width="18" height="19" fill="rgb(0,255,163)"/>
<rect x="691" y="645" width="18" height="19" fill="rgb(0,255,183)"/>
<rect x="709" y="645" width="18" height="19" fill="rgb(0,255,226)"/>
<rect x="727" y="645" width="18" height="19" fill="rgb(0,249,255)"/>
<rect x="745" y="645" width="19" height="19" fill="rgb(0,242,255)"/>
<rect x="764" y="645" width="18" height="19" fill="rgb(0,236,255)"/>
<rect x="782" y="645" width="18" height="19" fill="rgb(0,236,255)"/>
<rect x="0" y="664" width="18" height="18" fill="rgb(0,110,255)"/>
<rect x="18" y="664" width="19" height="18" fill="rgb(0,110,255)"/>
<rect x="37" y="664" width="18" height="18" fill="rgb(0,110,255)"/>
<rect x="55" y="664" width="18" height="18" fill="rgb(0,110,255)"/>
<rect x="73" y="664" width="18" height="18" fill="rgb(0,110,255)"/>
<rect x="91" y="664" width="18" height="18" fill="rgb(0,110,255)"/>
<rect x="109" y="664" width="18" height="18" fill="rgb(0,110,255)"/>
<rect x="127" y="664" width="19" height="18" fill="rgb(0,100,255)"/>
<rect x="146" y="664" width="18" height="18" fill="rgb(0,100,255)"/>
<rect x="164" y="664" width="18" height="18" fill="rgb(0,100,255)"/>
<rect x="182" y="664" width="18" height="18" fill="rgb(0,100,255)"/>
<rect x="200" y="664" width="18" height="18" fill="rgb(0,61,255)"/>
<rect x="218" y="664" width="18" height="18" fill="rgb(0,48,255)"/>
<rect x="236" y="664" width="19" height="18" fill="rgb(0,71,255)"/>
<rect x="255" y="664" width="18" height="18" fill="rgb(0,81,255)"/>
<rect x="273" y="664" width="18" height="18" fill="rgb(0,110,255)"/>
<rect x="291" y="664" width="18" height="18" fill="rgb(0,119,255)"/>
<rect x="309" y="664" width="18" height="18" fill="rgb(0,129,255)"/>
<rect x="327" y="664" width="18" height="18" fill="rgb(0,116,255)"/>
<rect x="345" y="664" width="19" height="18" fill="rgb(0,129,255)"/>
<rect x="364" y="664" width="18" height="18" fill="rgb(0,161,255)"/>
<rect x="382" y="664" width="18" height="18" fill="rgb(0,203,255)"/>
<rect x="400" y="664" width="18" height="18" fill="rgb(0,176,255)"/>
<rect x="418" y="664" width="18" height="18" fill="rgb(0,187,255)"/>
<rect x="436" y="664" width="19" height="18" fill="rgb(0,205,255)"/>
<rect x="455" y="664" width="18" height="18" fill="rgb(0,221,255)"/>
<rect x="473" y="664" width="18" height="18" fill="rgb(0,231,255)"/>
<rect x="491" y="664" width="18" height="18" fill="rgb(0,242,255)"/>
<rect x="509" y="664" width="18" height="18" fill="rgb(0,249,255)"/>
<rect x="527" y="664" width="18" height="18" fill="rgb(0,255,252)"/>
<rect x="545" y="664" width="19" height="18" fill="rgb(0,255,226)"/>
<rect x="564" y="664" width="18" height="18" fill="rgb(0,255,212)"/>
<rect x="582" y="664" width="18" height="18" fill="rgb(0,255,186)"/>
<rect x="600" y="664" width="18" height="18" fill="rgb(0,255,177)"/>
<rect x="618" y="664" width="18" height="18" fill="rgb(0,255,150)"/>
<rect x="636" y="664" width="18" height="18" fill="rgb(0,255,144)"/>
<rect x="654" y="664" width="19" height="18" fill="rgb(0,255,141)"/>
<rect x="673" y="664" width="18" height="18" fill="rgb(0,255,150)"/>
<rect x="691" y="664" width="18" height="18" fill="rgb(0,255,170)"/>
<rect x="709" y="664" width="18" height="18" fill="rgb(0,255,206)"/>
<rect x="727" y="664" width="18" height="18" fill="rgb(0,255,248)"/>
<rect x="745" y="664" width="19" height="18" fill="rgb(0,252,255)"/>
<rect x="764" y="664" width="18" height="18" fill="rgb(0,240,255)"/>
<rect x="782" y="664" width="18" height="18" fill="rgb(0,236,255)"/>
<rect x="0" y="682" width="18" height="18" fill="rgb(0,81,255)"/>
<rect x="18" y="682" width="19" height="18" fill="rgb(0,81,255)"/>
<rect x="37" y="682" width="18" height="18" fill="rgb(0,81,255)"/>
<rect x="55" y="682" width="18" height="18" fill="rgb(0,81,255)"/>
<rect x="73" y="682" width="18" height="18" fill="rgb(0,81,255)"/>
<rect x="91" y="682" width="18" height="18" fill="rgb(0,48,255)"/>
<rect x="109" y="682" width="18" height="18" fill="rgb(0,48,255)"/>
<rect x="127" y="682" width="19" height="18" fill="rgb(0,48,255)"/>
<rect x="146" y="682" width="18" height="18" fill="rgb(0,48,255)"/>
<rect x="164" y="682" width="18" height="18" fill="rgb(0,55,255)"/>
<rect x="182" y="682" width="18" height="18" fill="rgb(0,55,255)"/>
<rect x="200" y="682" width="18" height="18" fill="rgb(0,48,255)"/>
<rect x="218" y="682" width="18" height="18" fill="rgb(0,61,255)"/>
<rect x="236" y="682" width="19" height="18" fill="rgb(0,74,255)"/>
<rect x="255" y="682" width="18" height="18" fill="rgb(0,84,255)"/>
<rect x="273" y="682" width="18" height="18" fill="rgb(0,110,255)"/>
<rect x="291" y="682" width="18" height="18" fill="rgb(0,129,255)"/>
<rect x="309" y="682" width="18" height="18" fill="rgb(0,148,255)"/>
<rect x="327" y="682" width="18" height="18" fill="rgb(0,148,255)"/>
<rect x="345" y="682" width="19" height="18" fill="rgb(0,161,255)"/>
<rect x="364" y="682" width="18" height="18" fill="rgb(0,184,255)"/>
<rect x="382" y="682" width="18" height="18" fill="rgb(0,203,255)"/>
<rect x="400" y="682" width="18" height="18" fill="rgb(0,171,255)"/>
<rect x="418" y="682" width="18" height="18" fill="rgb(0,182,255)"/>
<rect x="436" y="682" width="19" height="18" fill="rgb(0,194,255)"/>
<rect x="455" y="682" width="18" height="18" fill="rgb(0,210,255)"/>
<rect x="473" y="682" width="18" height="18" fill="rgb(0,226,255)"/>
<rect x="491" y="682" width="18" height="18" fill="rgb(0,237,255)"/>
<rect x="509" y="682" width="18" height="18" fill="rgb(0,249,255)"/>
<rect x="527" y="682" width="18" height="18" fill="rgb(0,255,242)"/>
<rect x="545" y="682" width="19" height="18" fill="rgb(0,255,216)"/>
<rect x="564" y="682" width="18" height="18" fill="rgb(0,255,190)"/>
<rect x="582" y="682" width="18" height="18" fill="rgb(0,255,163)"/>
<rect x="600" y="682" width="18" height="18" fill="rgb(0,255,154)"/>
<rect x="618" y="682" width="18" height="18" fill="rgb(0,255,144)"/>
<rect x="636" y="682" width="18" height="18" fill="rgb(0,255,141)"/>
<rect x="654" y="682" width="19" height="18" fill="rgb(0,255,137)"/>
<rect x="673" y="682" width="18" height="18" fill="rgb(0,255,147)"/>
<rect x="691" y="682" width="18" height="18" fill="rgb(0,255,157)"/>
<rect x="709" y="682" width="18" height="18" fill="rgb(0,255,193)"/>
<rect x="727" y="682" width="18" height="18" fill="rgb(0,255,229)"/>
<rect x="745" y="682" width="19" height="18" fill="rgb(0,255,252)"/>
<rect x="764" y="682" width="18" height="18" fill="rgb(0,245,255)"/>
<rect x="782" y="682" width="18" height="18" fill="rgb(0,245,255)"/>
<rect x="0" y="700" width="18" height="18" fill="rgb(0,148,255)"/>
<rect x="18" y="700" width="19" height="18" fill="rgb(0,110,255)"/>
<rect x="37" y="700" width="18" height="18" fill="rgb(0,110,255)"/>
<rect x="55" y="700" width="18" height="18" fill="rgb(0,110,255)"/>
<rect x="73" y="700" width="18" height="18" fill="rgb(0,110,255)"/>
<rect x="91" y="700" width="18" height="18" fill="rgb(0,61,255)"/>
<rect x="109" y="700" width="18" height="18" fill="rgb(0,36,255)"/>
<rect x="127" y="700" width="19" height="18" fill="rgb(0,36,255)"/>
<rect x="146" y="700" width="18" height="18" fill="rgb(0,36,255)"/>
<rect x="164" y="700" width="18" height="18" fill="rgb(0,48,255)"/>
<rect x="182" y="700" width="18" height="18" fill="rgb(0,48,255)"/>
<rect x="200" y="700" width="18" height="18" fill="rgb(0,55,255)"/>
<rect x="218" y="700" width="18" height="18" fill="rgb(0,65,255)"/>
<rect x="236" y="700" width="19" height="18" fill="rgb(0,81,255)"/>
<rect x="255" y="700" width="18" height="18" fill="rgb(0,94,255)"/>
<rect x="273" y="700" width="18" height="18" fill="rgb(0,119,255)"/>
<rect x="291" y="700" width="18" height="18" fill="rgb(0,139,255)"/>
<rect x="309" y="700" width="18" height="18" fill="rgb(0,161,255)"/>
<rect x="327" y="700" width="18" height="18" fill="rgb(0,161,255)"/>
<rect x="345" y="700" width="19" height="18" fill="rgb(0,171,255)"/>
<rect x="364" y="700" width="18" height="18" fill="rgb(0,190,255)"/>
<rect x="382" y="700" width="18" height="18" fill="rgb(0,210,255)"/>
<rect x="400" y="700" width="18" height="18" fill="rgb(0,194,255)"/>
<rect x="418" y="700" width="18" height="18" fill="rgb(0,205,255)"/>
<rect x="436" y="700" width="19" height="18" fill="rgb(0,205,255)"/>
<rect x="455" y="700" width="18" height="18" fill="rgb(0,221,255)"/>
<rect x="473" y="700" width="18" height="18" fill="rgb(0,228,255)"/>
<rect x="491" y="700" width="18" height="18" fill="rgb(0,239,255)"/>
<rect x="509" y="700" width="18" height="18" fill="rgb(0,253,255)"/>
<rect x="527" y="700" width="18" height="18" fill="rgb(0,255,226)"/>
<rect x="545" y="700" width="19" height="18" fill="rgb(0,255,199)"/>
<rect x="564" y="700" width="18" height="18" fill="rgb(0,255,180)"/>
<rect x="582" y="700" width="18" height="18" fill="rgb(0,255,154)"/>
<rect x="600" y="700" width="18" height="18" fill="rgb(0,255,144)"/>
<rect x="618" y="700" width="18" height="18" fill="rgb(0,255,144)"/>
<rect x="636" y="700" width="18" height="18" fill="rgb(0,255,134)"/>
<rect x="654" y="700" width="19" height="18" fill="rgb(0,255,131)"/>
<rect x="673" y="700" width="18" height="18" fill="rgb(0,255,137)"/>
<rect x="691" y="700" width="18" height="18" fill="rgb(0,255,147)"/>
<rect x="709" y="700" width="18" height="18" fill="rgb(0,255,183)"/>
<rect x="727" y="700" width="18" height="18" fill="rgb(0,255,177)"/>
<rect x="745" y="700" width="19" height="18" fill="rgb(0,255,163)"/>
<rect x="764" y="700" width="18" height="18" fill="rgb(0,255,186)"/>
<rect x="782" y="700" width="18" height="18" fill="rgb(0,245,255)"/>
<rect x="0" y="718" width="18" height="18" fill="rgb(0,61,255)"/>
<rect x="18" y="718" width="19" height="18" fill="rgb(0,126,255)"/>
<rect x="37" y="718" width="18" height="18" fill="rgb(0,126,255)"/>
<rect x="55" y="718" width="18" height="18" fill="rgb(0,126,255)"/>
<rect x="73" y="718" width="18" height="18" fill="rgb(0,126,255)"/>
<rect x="91" y="718" width="18" height="18" fill="rgb(0,84,255)"/>
<rect x="109" y="718" width="18" height="18" fill="rgb(0,45,255)"/>
<rect x="127" y="718" width="19" height="18" fill="rgb(0,45,255)"/>
<rect x="146" y="718" width="18" height="18" fill="rgb(0,45,255)"/>
<rect x="164" y="718" width="18" height="18" fill="rgb(0,55,255)"/>
<rect x="182" y="718" width="18" height="18" fill="rgb(0,55,255)"/>
<rect x="200" y="718" width="18" height="18" fill="rgb(0,71,255)"/>
<rect x="218" y="718" width="18" height="18" fill="rgb(0,74,255)"/>
<rect x="236" y="718" width="19" height="18" fill="rgb(0,84,255)"/>
<rect x="255" y="718" width="18" height="18" fill="rgb(0,100,255)"/>
<rect x="273" y="718" width="18" height="18" fill="rgb(0,129,255)"/>
<rect x="291" y="718" width="18" height="18" fill="rgb(0,148,255)"/>
<rect x="309" y="718" width="18" height="18" fill="rgb(0,165,255)"/>
<rect x="327" y="718" width="18" height="18" fill="rgb(0,171,255)"/>
<rect x="345" y="718" width="19" height="18" fill="rgb(0,181,255)"/>
<rect x="364" y="718" width="18" height="18" fill="rgb(0,194,255)"/>
<rect x="382" y="718" width="18" height="18" fill="rgb(0,216,255)"/>
<rect x="400" y="718" width="18" height="18" fill="rgb(0,216,255)"/>
<rect x="418" y="718" width="18" height="18" fill="rgb(0,216,255)"/>
<rect x="436" y="718" width="19" height="18" fill="rgb(0,216,255)"/>
<rect x="455" y="718" width="18" height="18" fill="rgb(0,223,255)"/>
<rect x="473" y="718" width="18" height="18" fill="rgb(0,229,255)"/>
<rect x="491" y="718" width="18" height="18" fill="rgb(0,244,255)"/>
<rect x="509" y="718" width="18" height="18" fill="rgb(0,255,248)"/>
<rect x="527" y="718" width="18" height="18" fill="rgb(0,255,216)"/>
<rect x="545" y="718" width="19" height="18" fill="rgb(0,255,183)"/>
<rect x="564" y="718" width="18" height="18" fill="rgb(0,255,163)"/>
<rect x="582" y="718" width="18" height="18" fill="rgb(0,255,144)"/>
<rect x="600" y="718" width="18" height="18" fill="rgb(0,255,144)"/>
<rect x="618" y="718" width="18" height="18" fill="rgb(0,255,144)"/>
<rect x="636" y="718" width="18" height="18" fill="rgb(0,255,134)"/>
<rect x="654" y="718" width="19" height="18" fill="rgb(0,255,124)"/>
<rect x="673" y="718" width="18" height="18" fill="rgb(0,255,131)"/>
<rect x="691" y="718" width="18" height="18" fill="rgb(0,255,137)"/>
<rect x="709" y="718" width="18" height="18" fill="rgb(0,255,131)"/>
<rect x="727" y="718" width="18" height="18" fill="rgb(0,255,124)"/>
<rect x="745" y="718" width="19" height="18" fill="rgb(0,255,111)"/>
<rect x="764" y="718" width="18" height="18" fill="rgb(0,255,98)"/>
<rect x="782" y="718" width="18" height="18" fill="rgb(0,255,98)"/>
<rect x="0" y="736" width="18" height="18" fill="rgb(0,129,255)"/>
<rect x="18" y="736" width="19" height="18" fill="rgb(0,116,255)"/>
<rect x="37" y="736" width="18" height="18" fill="rgb(0,123,255)"/>
<rect x="55" y="736" width="18" height="18" fill="rgb(0,126,255)"/>
<rect x="73" y="736" width="18" height="18" fill="rgb(0,129,255)"/>
<rect x="91" y="736" width="18" height="18" fill="rgb(0,94,255)"/>
<rect x="109" y="736" width="18" height="18" fill="rgb(0,74,255)"/>
<rect x="127" y="736" width="19" height="18" fill="rgb(0,65,255)"/>
<rect x="146" y="736" width="18" height="18" fill="rgb(0,65,255)"/>
<rect x="164" y="736" width="18" height="18" fill="rgb(0,71,255)"/>
<rect x="182" y="736" width="18" height="18" fill="rgb(0,90,255)"/>
<rect x="200" y="736" width="18" height="18" fill="rgb(0,119,255)"/>
<rect x="218" y="736" width="18" height="18" fill="rgb(0,129,255)"/>
<rect x="236" y="736" width="19" height="18" fill="rgb(0,148,255)"/>
<rect x="255" y="736" width="18" height="18" fill="rgb(0,171,255)"/>
<rect x="273" y="736" width="18" height="18" fill="rgb(0,181,255)"/>
<rect x="291" y="736" width="18" height="18" fill="rgb(0,184,255)"/>
<rect x="309" y="736" width="18" height="18" fill="rgb(0,184,255)"/>
<rect x="327" y="736" width="18" height="18" fill="rgb(0,190,255)"/>
<rect x="345" y="736" width="19" height="18" fill="rgb(0,200,255)"/>
<rect x="364" y="736" width="18" height="18" fill="rgb(0,226,255)"/>
<rect x="382" y="736" width="18" height="18" fill="rgb(0,239,255)"/>
<rect x="400" y="736" width="18" height="18" fill="rgb(0,232,255)"/>
<rect x="418" y="736" width="18" height="18" fill="rgb(0,232,255)"/>
<rect x="436" y="736" width="19" height="18" fill="rgb(0,239,255)"/>
<rect x="455" y="736" width="18" height="18" fill="rgb(0,237,255)"/>
<rect x="473" y="736" width="18" height="18" fill="rgb(0,244,255)"/>
<rect x="491" y="736" width="18" height="18" fill="rgb(0,255,248)"/>
<rect x="509" y="736" width="18" height="18" fill="rgb(0,255,239)"/>
<rect x="527" y="736" width="18" height="18" fill="rgb(0,255,212)"/>
<rect x="545" y="736" width="19" height="18" fill="rgb(0,255,180)"/>
<rect x="564" y="736" width="18" height="18" fill="rgb(0,255,160)"/>
<rect x="582" y="736" width="18" height="18" fill="rgb(0,255,141)"/>
<rect x="600" y="736" width="18" height="18" fill="rgb(0,255,144)"/>
<rect x="618" y="736" width="18" height="18" fill="rgb(0,255,144)"/>
<rect x="636" y="736" width="18" height="18" fill="rgb(0,255,134)"/>
<rect x="654" y="736" width="19" height="18" fill="rgb(0,255,131)"/>
<rect x="673" y="736" width="18" height="18" fill="rgb(0,255,137)"/>
<rect x="691" y="736" width="18" height="18" fill="rgb(0,255,131)"/>
<rect x="709" y="736" width="18" height="18" fill="rgb(0,255,114)"/>
<rect x="727" y="736" width="18" height="18" fill="rgb(0,255,108)"/>
<rect x="745" y="736" width="19" height="18" fill="rgb(0,255,95)"/>
<rect x="764" y="736" width="18" height="18" fill="rgb(0,255,82)"/>
<rect x="782" y="736" width="18" height="18" fill="rgb(0,255,98)"/>
<rect x="0" y="754" width="18" height="19" fill="rgb(0,148,255)"/>
<rect x="18" y="754" width="19" height="19" fill="rgb(0,139,255)"/>
<rect x="37" y="754" width="18" height="19" fill="rgb(0,136,255)"/>
<rect x="55" y="754" width="18" height="19" fill="rgb(0,132,255)"/>
<rect x="73" y="754" width="18" height="19" fill="rgb(0,129,255)"/>
<rect x="91" y="754" width="18" height="19" fill="rgb(0,116,255)"/>
<rect x="109" y="754" width="18" height="19" fill="rgb(0,116,255)"/>
<rect x="127" y="754" width="19" height="19" fill="rgb(0,116,255)"/>
<rect x="146" y="754" width="18" height="19" fill="rgb(0,116,255)"/>
<rect x="164" y="754" width="18" height="19" fill="rgb(0,116,255)"/>
<rect x="182" y="754" width="18" height="19" fill="rgb(0,116,255)"/>
<rect x="200" y="754" width="18" height="19" fill="rgb(0,161,255)"/>
<rect x="218" y="754" width="18" height="19" fill="rgb(0,165,255)"/>
<rect x="236" y="754" width="19" height="19" fill="rgb(0,184,255)"/>
<rect x="255" y="754" width="18" height="19" fill="rgb(0,226,255)"/>
<rect x="273" y="754" width="18" height="19" fill="rgb(0,229,255)"/>
<rect x="291" y="754" width="18" height="19" fill="rgb(0,226,255)"/>
<rect x="309" y="754" width="18" height="19" fill="rgb(0,200,255)"/>
<rect x="327" y="754" width="18" height="19" fill="rgb(0,200,255)"/>
<rect x="345" y="754" width="19" height="19" fill="rgb(0,216,255)"/>
<rect x="364" y="754" width="18" height="19" fill="rgb(0,236,255)"/>
<rect x="382" y="754" width="18" height="19" fill="rgb(0,249,255)"/>
<rect x="400" y="754" width="18" height="19" fill="rgb(0,249,255)"/>
<rect x="418" y="754" width="18" height="19" fill="rgb(0,255,255)"/>
<rect x="436" y="754" width="19" height="19" fill="rgb(0,255,242)"/>
<rect x="455" y="754" width="18" height="19" fill="rgb(0,255,245)"/>
<rect x="473" y="754" width="18" height="19" fill="rgb(0,255,248)"/>
<rect x="491" y="754" width="18" height="19" fill="rgb(0,255,239)"/>
<rect x="509" y="754" width="18" height="19" fill="rgb(0,255,229)"/>
<rect x="527" y="754" width="18" height="19" fill="rgb(0,255,203)"/>
<rect x="545" y="754" width="19" height="19" fill="rgb(0,255,177)"/>
<rect x="564" y="754" width="18" height="19" fill="rgb(0,255,157)"/>
<rect x="582" y="754" width="18" height="19" fill="rgb(0,255,137)"/>
<rect x="600" y="754" width="18" height="19" fill="rgb(0,255,141)"/>
<rect x="618" y="754" width="18" height="19" fill="rgb(0,255,144)"/>
<rect x="636" y="754" width="18" height="19" fill="rgb(0,255,141)"/>
<rect x="654" y="754" width="19" height="19" fill="rgb(0,255,137)"/>
<rect x="673" y="754" width="18" height="19" fill="rgb(0,255,131)"/>
<rect x="691" y="754" width="18" height="19" fill="rgb(0,255,124)"/>
<rect x="709" y="754" width="18" height="19" fill="rgb(0,255,108)"/>
<rect x="727" y="754" width="18" height="19" fill="rgb(0,255,92)"/>
<rect x="745" y="754" width="19" height="19" fill="rgb(0,255,78)"/>
<rect x="764" y="754" width="18" height="19" fill="rgb(0,255,65)"/>
<rect x="782" y="754" width="18" height="19" fill="rgb(0,255,65)"/>
</g>
<g stroke="#808080" stroke-width="1" shape-rendering="crispEdges">
<line x1="9.5" y1="28" x2="9.5" y2="772"/>
<line x1="81.5" y1="28" x2="81.5" y2="772"/>
<line x1="154.5" y1="28" x2="154.5" y2="772"/>
<line x1="227.5" y1="28" x2="227.5" y2="772"/>
<line x1="300.5" y1="28" x2="300.5" y2="772"/>
<line x1="372.5" y1="28" x2="372.5" y2="772"/>
<line x1="445.5" y1="28" x2="445.5" y2="772"/>
<line x1="518.5" y1="28" x2="518.5" y2="772"/>
<line x1="590.5" y1="28" x2="590.5" y2="772"/>
<line x1="663.5" y1="28" x2="663.5" y2="772"/>
<line x1="736.5" y1="28" x2="736.5" y2="772"/>
<line x1="0" y1="36.5" x2="800" y2="36.5"/>
<line x1="0" y1="109.5" x2="800" y2="109.5"/>
<line x1="0" y1="181.5" x2="800" y2="181.5"/>
<line x1="0" y1="254.5" x2="800" y2="254.5"/>
<line x1="0" y1="327.5" x2="800" y2="327.5"/>
<line x1="0" y1="400.5" x2="800" y2="400.5"/>
<line x1="0" y1="472.5" x2="800" y2="472.5"/>
<line x1="0" y1="545.5" x2="800" y2="545.5"/>
<line x1="0" y1="618.5" x2="800" y2="618.5"/>
<line x1="0" y1="690.5" x2="800" y2="690.5"/>
<line x1="0" y1="763.5" x2="800" y2="763.5"/>
</g>
<path clip-path="url(#fr)" d="M718.1 36.9 L703.1 42.3 M703.1 42.3 L710.7 43.4 M703.1 42.3 L708.2 36.7 M772.6 36.9 L755.0 47.3 M755.0 47.3 L764.8 46.9 M755.0 47.3 L760.1 38.9 M790.8 36.9 L774.1 48.1 M774.1 48.1 L783.7 47.1 M774.1 48.1 L778.7 39.6 M699.9 55.1 L686.3 59.9 M686.3 59.9 L693.1 60.9 M686.3 59.9 L691.0 54.8 M718.1 55.1 L703.4 61.1 M703.4 61.1 L710.9 61.8 M703.4 61.1 L708.2 55.2 M754.4 55.1 L736.7 64.9 M736.7 64.9 L746.4 64.7 M736.7 64.9 L742.0 56.7 M772.6 55.1 L755.6 65.8 M755.6 65.8 L765.2 65.1 M755.6 65.8 L760.4 57.4 M790.8 55.1 L774.8 66.0 M774.8 66.0 L784.0 65.0 M774.8 66.0 L779.1 57.8 M681.7 73.2 L665.2 78.8 M665.2 78.8 L673.4 80.2 M665.2 78.8 L670.9 72.7 M699.9 73.2 L681.9 80.4 M681.9 80.4 L691.2 81.4 M681.9 80.4 L687.9 73.3 M718.1 73.2 L700.1 81.4 M700.1 81.4 L709.6 82.0 M700.1 81.4 L705.9 73.9 M736.2 73.2 L718.0 82.6 M718.0 82.6 L727.9 82.7 M718.0 82.6 L723.7 74.5 M754.4 73.2 L739.3 82.2 M739.3 82.2 L747.7 81.8 M739.3 82.2 L743.7 75.0 M772.6 73.2 L757.8 82.8 M757.8 82.8 L766.2 82.1 M757.8 82.8 L761.9 75.4 M790.8 73.2 L776.4 83.2 M776.4 83.2 L784.7 82.2 M776.4 83.2 L780.3 75.7 M663.6 91.4 L649.8 95.9 M649.8 95.9 L656.6 97.1 M649.8 95.9 L654.6 90.9 M681.7 91.4 L663.0 98.6 M663.0 98.6 L672.5 99.8 M663.0 98.6 L669.3 91.3 M699.9 91.4 L680.9 99.9 M680.9 99.9 L690.8 100.6 M680.9 99.9 L687.0 92.0 M718.1 91.4 L699.4 100.7 M699.4 100.7 L709.4 101.0 M699.4 100.7 L705.2 92.6 M736.2 91.4 L718.4 101.3 M718.4 101.3 L728.2 101.2 M718.4 101.3 L723.7 93.1 M754.4 91.4 L739.1 100.6 M739.1 100.6 L747.7 100.2 M739.1 100.6 L743.5 93.3 M772.6 91.4 L757.9 100.9 M757.9 100.9 L766.3 100.2 M757.9 100.9 L762.0 93.6 M790.8 91.4 L776.6 101.4 M776.6 101.4 L784.8 100.4 M776.6 101.4 L780.3 94.0 M681.7 109.6 L663.0 118.2 M663.0 118.2 L672.9 118.8 M663.0 118.2 L669.0 110.4 M699.9 109.6 L681.5 118.5 M681.5 118.5 L691.3 118.9 M681.5 118.5 L687.3 110.6 M718.1 109.6 L700.3 119.0 M700.3 119.0 L710.0 119.0 M700.3 119.0 L705.7 111.0 M736.2 109.6 L720.2 118.9 M720.2 118.9 L729.1 118.6 M720.2 118.9 L724.9 111.3 M754.4 109.6 L739.2 118.9 M739.2 118.9 L747.8 118.4 M739.2 118.9 L743.5 111.5 M772.6 109.6 L758.0 119.2 M758.0 119.2 L766.4 118.4 M758.0 119.2 L762.0 111.9 M790.8 109.6 L776.8 119.6 M776.8 119.6 L785.0 118.5 M776.8 119.6 L780.5 112.2 M663.6 127.8 L645.3 136.5 M645.3 136.5 L655.0 136.9 M645.3 136.5 L651.0 128.7 M681.7 127.8 L663.2 137.3 M663.2 137.3 L673.2 137.4 M663.2 137.3 L668.9 129.1 M699.9 127.8 L682.5 137.0 M682.5 137.0 L691.9 137.0 M682.5 137.0 L687.8 129.1 M718.1 127.8 L701.5 137.0 M701.5 137.0 L710.6 136.8 M701.5 137.0 L706.5 129.4 M736.2 127.8 L720.7 137.2 M720.7 137.2 L729.4 136.7 M720.7 137.2 L725.2 129.7 M754.4 127.8 L739.6 137.2 M739.6 137.2 L748.0 136.6 M739.6 137.2 L743.7 129.9 M772.6 127.8 L758.2 137.5 M758.2 137.5 L766.5 136.6 M758.2 137.5 L762.1 130.1 M790.8 127.8 L777.0 137.8 M777.0 137.8 L785.1 136.7 M777.0 137.8 L780.6 130.4 M645.4 146.0 L629.8 153.9 M629.8 153.9 L638.2 154.0 M629.8 153.9 L634.6 147.0 M663.6 146.0 L647.8 154.6 M647.8 154.6 L656.4 154.5 M647.8 154.6 L652.5 147.4 M681.7 146.0 L665.0 155.3 M665.0 155.3 L674.2 155.1 M665.0 155.3 L670.0 147.5 M699.9 146.0 L683.4 155.3 M683.4 155.3 L692.5 155.1 M683.4 155.3 L688.3 147.6 M718.1 146.0 L702.6 155.1 M702.6 155.1 L711.2 154.7 M702.6 155.1 L707.1 147.7 M736.2 146.0 L721.6 155.2 M721.6 155.2 L729.9 154.6 M721.6 155.2 L725.7 148.0 M754.4 146.0 L740.1 155.4 M740.1 155.4 L748.3 154.6 M740.1 155.4 L744.1 148.2 M772.6 146.0 L758.7 155.6 M758.7 155.6 L766.7 154.6 M758.7 155.6 L762.4 148.4 M790.8 146.0 L777.2 156.0 M777.2 156.0 L785.2 154.8 M777.2 156.0 L780.7 148.7 M645.4 164.1 L629.8 173.1 M629.8 173.1 L638.4 172.8 M629.8 173.1 L634.4 165.8 M663.6 164.1 L647.7 173.5 M647.7 173.5 L656.5 173.1 M647.7 173.5 L652.3 165.9 M681.7 164.1 L665.8 173.7 M665.8 173.7 L674.7 173.2 M665.8 173.7 L670.4 166.0 M699.9 164.1 L684.2 173.7 M684.2 173.7 L693.0 173.2 M684.2 173.7 L688.7 166.1 M718.1 164.1 L703.1 173.5 M703.1 173.5 L711.6 172.9 M703.1 173.5 L707.4 166.1 M736.2 164.1 L721.9 173.6 M721.9 173.6 L730.1 172.8 M721.9 173.6 L725.8 166.3 M754.4 164.1 L740.5 173.7 M740.5 173.7 L748.6 172.8 M740.5 173.7 L744.3 166.5 M772.6 164.1 L759.1 173.9 M759.1 173.9 L767.0 172.8 M759.1 173.9 L762.6 166.7 M790.8 164.1 L777.7 174.0 M777.7 174.0 L785.4 172.8 M777.7 174.0 L781.0 166.9 M627.2 182.3 L610.6 192.9 M610.6 192.9 L620.0 192.2 M610.6 192.9 L615.2 184.7 M645.4 182.3 L628.7 192.8 M628.7 192.8 L638.1 192.1 M628.7 192.8 L633.4 184.6 M663.6 182.3 L647.1 192.7 M647.1 192.7 L656.4 192.0 M647.1 192.7 L651.7 184.6 M681.7 182.3 L666.0 192.4 M666.0 192.4 L675.0 191.7 M666.0 192.4 L670.4 184.6 M699.9 182.3 L685.0 192.1 M685.0 192.1 L693.5 191.3 M685.0 192.1 L689.1 184.6 M718.1 182.3 L703.6 192.0 M703.6 192.0 L711.9 191.2 M703.6 192.0 L707.5 184.6 M736.2 182.3 L722.2 192.0 M722.2 192.0 L730.3 191.0 M722.2 192.0 L726.0 184.7 M754.4 182.3 L740.8 192.0 M740.8 192.0 L748.8 191.0 M740.8 192.0 L744.4 184.8 M772.6 182.3 L759.4 192.1 M759.4 192.1 L767.2 190.9 M759.4 192.1 L762.8 185.0 M790.8 182.3 L777.8 192.4 M777.8 192.4 L785.6 191.0 M777.8 192.4 L781.0 185.2 M609.0 200.5 L592.2 212.4 M592.2 212.4 L602.0 211.2 M592.2 212.4 L596.6 203.6 M627.2 200.5 L609.9 212.1 M609.9 212.1 L619.9 211.1 M609.9 212.1 L614.6 203.3 M645.4 200.5 L628.9 211.7 M628.9 211.7 L638.4 210.6 M628.9 211.7 L633.4 203.2 M663.6 200.5 L648.1 211.1 M648.1 211.1 L657.0 210.1 M648.1 211.1 L652.2 203.1 M681.7 200.5 L667.0 210.7 M667.0 210.7 L675.5 209.7 M667.0 210.7 L670.9 203.0 M699.9 200.5 L685.5 210.7 M685.5 210.7 L693.9 209.6 M685.5 210.7 L689.3 203.1 M718.1 200.5 L704.1 210.6 M704.1 210.6 L712.3 209.4 M704.1 210.6 L707.7 203.1 M736.2 200.5 L722.7 210.5 M722.7 210.5 L730.7 209.3 M722.7 210.5 L726.2 203.2 M754.4 200.5 L741.2 210.4 M741.2 210.4 L749.0 209.2 M741.2 210.4 L744.6 203.2 M772.6 200.5 L759.8 210.4 M759.8 210.4 L767.4 209.1 M759.8 210.4 L763.0 203.3 M790.8 200.5 L778.0 210.8 M778.0 210.8 L785.8 209.3 M778.0 210.8 L781.1 203.6 M590.9 218.7 L575.0 231.0 M575.0 231.0 L584.5 229.3 M575.0 231.0 L578.9 222.2 M609.0 218.7 L593.4 230.0 M593.4 230.0 L602.6 228.7 M593.4 230.0 L597.5 221.7 M627.2 218.7 L612.2 229.6 M612.2 229.6 L621.0 228.3 M612.2 229.6 L616.1 221.6 M645.4 218.7 L630.7 229.5 M630.7 229.5 L639.3 228.2 M630.7 229.5 L634.5 221.6 M663.6 218.7 L649.1 229.4 M649.1 229.4 L657.6 228.1 M649.1 229.4 L652.8 221.6 M681.7 218.7 L667.5 229.3 M667.5 229.3 L675.9 228.0 M667.5 229.3 L671.1 221.6 M699.9 218.7 L685.9 229.2 M685.9 229.2 L694.2 227.9 M685.9 229.2 L689.5 221.6 M718.1 218.7 L704.5 229.1 M704.5 229.1 L712.6 227.7 M704.5 229.1 L707.9 221.6 M736.2 218.7 L723.1 229.0 M723.1 229.0 L731.0 227.5 M723.1 229.0 L726.4 221.6 M754.4 218.7 L741.7 228.9 M741.7 228.9 L749.4 227.4 M741.7 228.9 L744.8 221.7 M772.6 218.7 L760.2 228.8 M760.2 228.8 L767.8 227.3 M760.2 228.8 L763.2 221.7 M790.8 218.7 L778.5 228.9 M778.5 228.9 L786.0 227.3 M778.5 228.9 L781.4 221.8 M572.7 236.8 L557.3 248.9 M557.3 248.9 L566.6 247.2 M557.3 248.9 L561.1 240.3 M590.9 236.8 L576.1 248.7 M576.1 248.7 L585.0 247.0 M576.1 248.7 L579.7 240.3 M609.0 236.8 L594.1 248.3 M594.1 248.3 L603.0 246.8 M594.1 248.3 L597.8 240.1 M627.2 236.8 L612.4 248.3 M612.4 248.3 L621.2 246.8 M612.4 248.3 L616.1 240.1 M645.4 236.8 L630.8 248.2 M630.8 248.2 L639.5 246.6 M630.8 248.2 L634.4 240.1 M663.6 236.8 L649.3 248.1 M649.3 248.1 L657.9 246.5 M649.3 248.1 L652.8 240.1 M681.7 236.8 L667.8 248.1 M667.8 248.1 L676.2 246.5 M667.8 248.1 L671.1 240.2 M699.9 236.8 L686.3 248.1 M686.3 248.1 L694.6 246.4 M686.3 248.1 L689.5 240.3 M718.1 236.8 L704.9 248.0 M704.9 248.0 L713.0 246.2 M704.9 248.0 L708.0 240.3 M736.2 236.8 L723.3 247.7 M723.3 247.7 L731.2 246.0 M723.3 247.7 L726.3 240.2 M754.4 236.8 L741.7 247.7 M741.7 247.7 L749.5 245.9 M741.7 247.7 L744.6 240.2 M772.6 236.8 L760.2 247.6 M760.2 247.6 L767.9 245.8 M760.2 247.6 L763.0 240.2 M790.8 236.8 L778.8 247.4 M778.8 247.4 L786.3 245.6 M778.8 247.4 L781.5 240.2 M554.5 255.0 L538.8 267.5 M538.8 267.5 L548.2 265.7 M538.8 267.5 L542.6 258.6 M572.7 255.0 L555.5 269.1 M555.5 269.1 L565.9 267.0 M555.5 269.1 L559.6 259.3 M590.9 255.0 L574.4 268.5 M574.4 268.5 L584.4 266.4 M574.4 268.5 L578.4 259.1 M609.0 255.0 L593.4 267.6 M593.4 267.6 L602.9 265.8 M593.4 267.6 L597.2 258.8 M627.2 255.0 L612.6 267.1 M612.6 267.1 L621.5 265.3 M612.6 267.1 L616.1 258.7 M645.4 255.0 L631.1 267.1 M631.1 267.1 L639.9 265.2 M631.1 267.1 L634.4 258.7 M663.6 255.0 L649.6 267.0 M649.6 267.0 L658.2 265.1 M649.6 267.0 L652.8 258.8 M681.7 255.0 L668.2 267.0 M668.2 267.0 L676.6 265.0 M668.2 267.0 L671.2 258.8 M699.9 255.0 L686.7 267.1 M686.7 267.1 L695.0 264.9 M686.7 267.1 L689.6 259.0 M718.1 255.0 L705.3 267.0 M705.3 267.0 L713.4 264.8 M705.3 267.0 L708.0 259.1 M736.2 255.0 L723.7 266.8 M723.7 266.8 L731.7 264.6 M723.7 266.8 L726.4 259.0 M754.4 255.0 L742.0 266.6 M742.0 266.6 L749.9 264.5 M742.0 266.6 L744.7 258.9 M772.6 255.0 L760.3 266.5 M760.3 266.5 L768.1 264.4 M760.3 266.5 L762.9 258.8 M790.8 255.0 L778.5 266.5 M778.5 266.5 L786.3 264.4 M778.5 266.5 L781.1 258.8 M209.2 273.2 L198.0 270.2 M198.0 270.2 L202.1 274.0 M198.0 270.2 L203.4 268.9 M554.5 273.2 L535.5 288.9 M535.5 288.9 L547.1 286.5 M535.5 288.9 L540.0 278.0 M572.7 273.2 L555.2 288.0 M555.2 288.0 L565.9 285.7 M555.2 288.0 L559.2 277.8 M590.9 273.2 L574.3 287.1 M574.3 287.1 L584.4 284.9 M574.3 287.1 L578.2 277.4 M609.0 273.2 L593.3 286.8 M593.3 286.8 L603.0 284.6 M593.3 286.8 L596.9 277.5 M627.2 273.2 L612.3 286.7 M612.3 286.7 L621.7 284.3 M612.3 286.7 L615.6 277.6 M645.4 273.2 L631.2 286.3 M631.2 286.3 L640.1 284.0 M631.2 286.3 L634.2 277.6 M663.6 273.2 L650.0 286.0 M650.0 286.0 L658.6 283.6 M650.0 286.0 L652.8 277.5 M681.7 273.2 L668.5 285.9 M668.5 285.9 L677.0 283.5 M668.5 285.9 L671.2 277.6 M699.9 273.2 L687.2 286.0 M687.2 286.0 L695.5 283.5 M687.2 286.0 L689.7 277.7 M718.1 273.2 L705.9 286.0 M705.9 286.0 L713.9 283.3 M705.9 286.0 L708.1 277.8 M736.2 273.2 L724.2 285.9 M724.2 285.9 L732.1 283.2 M724.2 285.9 L726.4 277.8 M754.4 273.2 L742.5 285.7 M742.5 285.7 L750.4 283.1 M742.5 285.7 L744.7 277.7 M772.6 273.2 L760.7 285.6 M760.7 285.6 L768.5 283.0 M760.7 285.6 L762.9 277.7 M790.8 273.2 L779.2 285.4 M779.2 285.4 L786.9 282.8 M779.2 285.4 L781.4 277.6 M209.2 291.4 L197.6 288.2 M197.6 288.2 L201.8 292.2 M197.6 288.2 L203.2 287.0 M227.4 291.4 L215.7 288.7 M215.7 288.7 L220.0 292.4 M215.7 288.7 L221.2 287.2 M245.5 291.4 L233.7 288.5 M233.7 288.5 L238.1 292.4 M233.7 288.5 L239.4 287.1 M263.7 291.4 L252.2 288.4 M252.2 288.4 L256.4 292.3 M252.2 288.4 L257.7 287.1 M281.9 291.4 L268.5 287.8 M268.5 287.8 L273.3 292.3 M268.5 287.8 L275.0 286.3 M536.3 291.4 L518.0 306.6 M518.0 306.6 L529.2 304.3 M518.0 306.6 L522.3 296.0 M554.5 291.4 L535.4 307.8 M535.4 307.8 L547.2 305.1 M535.4 307.8 L539.8 296.5 M572.7 291.4 L555.3 306.4 M555.3 306.4 L566.1 303.9 M555.3 306.4 L559.3 296.1 M590.9 291.4 L574.5 305.5 M574.5 305.5 L584.7 303.2 M574.5 305.5 L578.3 295.8 M609.0 291.4 L593.8 305.6 M593.8 305.6 L603.4 303.0 M593.8 305.6 L597.0 296.1 M627.2 291.4 L612.8 305.4 M612.8 305.4 L622.1 302.7 M612.8 305.4 L615.8 296.2 M645.4 291.4 L631.6 305.2 M631.6 305.2 L640.6 302.4 M631.6 305.2 L634.3 296.3 M663.6 291.4 L650.4 305.0 M650.4 305.0 L659.0 302.2 M650.4 305.0 L652.9 296.2 M681.7 291.4 L668.9 304.9 M668.9 304.9 L677.4 302.1 M668.9 304.9 L671.3 296.3 M699.9 291.4 L687.6 305.0 M687.6 305.0 L695.9 302.0 M687.6 305.0 L689.7 296.4 M718.1 291.4 L706.3 305.1 M706.3 305.1 L714.4 301.9 M706.3 305.1 L708.2 296.6 M736.2 291.4 L724.7 305.0 M724.7 305.0 L732.6 301.8 M724.7 305.0 L726.5 296.6 M754.4 291.4 L742.9 304.8 M742.9 304.8 L750.8 301.7 M742.9 304.8 L744.8 296.5 M772.6 291.4 L761.2 304.8 M761.2 304.8 L769.1 301.6 M761.2 304.8 L763.0 296.5 M790.8 291.4 L779.5 304.8 M779.5 304.8 L787.3 301.7 M779.5 304.8 L781.2 296.6 M227.4 309.5 L216.0 307.5 M216.0 307.5 L220.3 310.9 M216.0 307.5 L221.2 305.8 M245.5 309.5 L234.2 307.3 M234.2 307.3 L238.5 310.8 M234.2 307.3 L239.5 305.7 M263.7 309.5 L251.4 306.9 M251.4 306.9 L256.0 310.8 M251.4 306.9 L257.2 305.3 M281.9 309.5 L262.9 305.8 M262.9 305.8 L270.1 311.7 M262.9 305.8 L271.8 303.1 M300.1 309.5 L280.9 306.8 M280.9 306.8 L288.4 312.3 M280.9 306.8 L289.6 303.7 M318.2 309.5 L304.1 307.2 M304.1 307.2 L309.6 311.4 M304.1 307.2 L310.6 305.0 M500.0 309.5 L482.1 324.0 M482.1 324.0 L492.9 321.9 M482.1 324.0 L486.4 313.8 M518.2 309.5 L500.4 324.4 M500.4 324.4 L511.3 322.1 M500.4 324.4 L504.6 314.1 M536.3 309.5 L518.3 325.2 M518.3 325.2 L529.5 322.6 M518.3 325.2 L522.4 314.5 M554.5 309.5 L537.2 325.1 M537.2 325.1 L548.0 322.4 M537.2 325.1 L541.0 314.6 M572.7 309.5 L556.1 323.9 M556.1 323.9 L566.4 321.6 M556.1 323.9 L559.9 314.1 M590.9 309.5 L575.2 324.6 M575.2 324.6 L585.2 321.8 M575.2 324.6 L578.4 314.7 M609.0 309.5 L594.1 324.4 M594.1 324.4 L603.8 321.5 M594.1 324.4 L597.1 314.8 M627.2 309.5 L613.1 324.3 M613.1 324.3 L622.4 321.2 M613.1 324.3 L615.8 314.8 M645.4 309.5 L632.0 324.2 M632.0 324.2 L641.0 321.0 M632.0 324.2 L634.4 315.0 M663.6 309.5 L650.8 323.9 M650.8 323.9 L659.4 320.7 M650.8 323.9 L653.0 314.9 M681.7 309.5 L669.4 323.9 M669.4 323.9 L677.9 320.6 M669.4 323.9 L671.4 315.1 M699.9 309.5 L688.3 323.8 M688.3 323.8 L696.4 320.3 M688.3 323.8 L690.0 315.1 M718.1 309.5 L706.9 323.9 M706.9 323.9 L714.9 320.3 M706.9 323.9 L708.4 315.3 M736.2 309.5 L725.4 323.8 M725.4 323.8 L733.2 320.2 M725.4 323.8 L726.8 315.3 M754.4 309.5 L743.7 323.7 M743.7 323.7 L751.4 320.1 M743.7 323.7 L745.0 315.3 M772.6 309.5 L762.0 323.7 M762.0 323.7 L769.7 320.1 M762.0 323.7 L763.3 315.3 M790.8 309.5 L780.3 323.7 M780.3 323.7 L787.9 320.0 M780.3 323.7 L781.6 315.3 M263.7 327.7 L252.2 325.7 M252.2 325.7 L256.6 329.1 M252.2 325.7 L257.5 323.9 M281.9 327.7 L262.7 325.3 M262.7 325.3 L270.3 330.7 M262.7 325.3 L271.4 322.0 M300.1 327.7 L281.7 326.4 M281.7 326.4 L289.2 331.1 M281.7 326.4 L289.8 322.8 M318.2 327.7 L302.0 326.5 M302.0 326.5 L308.6 330.6 M302.0 326.5 L309.2 323.3 M336.4 327.7 L321.4 326.4 M321.4 326.4 L327.4 330.4 M321.4 326.4 L328.0 323.6 M354.6 327.7 L339.3 326.3 M339.3 326.3 L345.4 330.3 M339.3 326.3 L346.1 323.5 M372.8 327.7 L356.8 326.1 M356.8 326.1 L363.2 330.4 M356.8 326.1 L363.9 323.2 M390.9 327.7 L373.9 325.9 M373.9 325.9 L380.7 330.5 M373.9 325.9 L381.5 322.8 M409.1 327.7 L391.2 329.6 M391.2 329.6 L399.2 332.8 M391.2 329.6 L398.4 324.8 M427.3 327.7 L406.0 331.5 M406.0 331.5 L415.9 334.7 M406.0 331.5 L414.2 325.1 M445.5 327.7 L422.9 333.7 M422.9 333.7 L433.8 336.3 M422.9 333.7 L431.1 326.1 M463.6 327.7 L439.9 336.8 M439.9 336.8 L452.0 338.3 M439.9 336.8 L447.9 327.6 M481.8 327.7 L458.4 340.1 M458.4 340.1 L471.1 340.1 M458.4 340.1 L465.5 329.6 M500.0 327.7 L480.7 341.2 M480.7 341.2 L491.9 339.8 M480.7 341.2 L485.9 331.1 M518.2 327.7 L500.4 341.7 M500.4 341.7 L511.1 339.8 M500.4 341.7 L504.8 331.8 M536.3 327.7 L519.5 342.6 M519.5 342.6 L530.0 340.1 M519.5 342.6 L523.3 332.5 M554.5 327.7 L538.1 343.0 M538.1 343.0 L548.5 340.2 M538.1 343.0 L541.6 332.8 M572.7 327.7 L557.2 343.7 M557.2 343.7 L567.4 340.4 M557.2 343.7 L560.1 333.4 M590.9 327.7 L575.6 343.5 M575.6 343.5 L585.6 340.2 M575.6 343.5 L578.5 333.4 M609.0 327.7 L594.5 343.3 M594.5 343.3 L604.2 340.0 M594.5 343.3 L597.1 333.4 M627.2 327.7 L613.5 343.1 M613.5 343.1 L622.8 339.7 M613.5 343.1 L615.8 333.5 M645.4 327.7 L632.4 343.0 M632.4 343.0 L641.3 339.5 M632.4 343.0 L634.4 333.6 M663.6 327.7 L651.3 342.9 M651.3 342.9 L659.9 339.2 M651.3 342.9 L653.1 333.7 M681.7 327.7 L670.1 342.7 M670.1 342.7 L678.4 338.9 M670.1 342.7 L671.7 333.7 M699.9 327.7 L689.0 342.5 M689.0 342.5 L696.9 338.7 M689.0 342.5 L690.3 333.7 M718.1 327.7 L707.6 342.6 M707.6 342.6 L715.4 338.6 M707.6 342.6 L708.7 333.9 M736.2 327.7 L726.2 342.6 M726.2 342.6 L733.8 338.6 M726.2 342.6 L727.1 334.0 M754.4 327.7 L744.5 342.6 M744.5 342.6 L752.1 338.5 M744.5 342.6 L745.3 334.1 M772.6 327.7 L762.8 342.6 M762.8 342.6 L770.3 338.5 M762.8 342.6 L763.6 334.1 M790.8 327.7 L781.0 342.7 M781.0 342.7 L788.5 338.5 M781.0 342.7 L781.8 334.1 M300.1 345.9 L281.2 350.2 M281.2 350.2 L290.2 352.6 M281.2 350.2 L288.2 344.1 M318.2 345.9 L299.4 350.4 M299.4 350.4 L308.4 352.7 M299.4 350.4 L306.4 344.2 M336.4 345.9 L317.6 350.5 M317.6 350.5 L326.6 352.8 M317.6 350.5 L324.5 344.3 M354.6 345.9 L335.7 350.7 M335.7 350.7 L344.8 352.9 M335.7 350.7 L342.6 344.4 M372.8 345.9 L353.9 350.8 M353.9 350.8 L363.0 353.0 M353.9 350.8 L360.8 344.5 M390.9 345.9 L371.9 351.0 M371.9 351.0 L381.1 353.1 M371.9 351.0 L378.8 344.5 M409.1 345.9 L387.5 352.1 M387.5 352.1 L398.1 354.3 M387.5 352.1 L395.3 344.6 M427.3 345.9 L404.9 353.6 M404.9 353.6 L416.1 355.4 M404.9 353.6 L412.7 345.3 M445.5 345.9 L422.9 355.5 M422.9 355.5 L434.6 356.5 M422.9 355.5 L430.3 346.3 M463.6 345.9 L441.4 358.2 M441.4 358.2 L453.6 358.0 M441.4 358.2 L448.1 348.0 M481.8 345.9 L462.1 360.2 M462.1 360.2 L473.7 358.6 M462.1 360.2 L467.2 349.7 M500.0 345.9 L482.6 360.4 M482.6 360.4 L493.3 358.2 M482.6 360.4 L486.7 350.3 M518.2 345.9 L501.6 360.8 M501.6 360.8 L512.0 358.2 M501.6 360.8 L505.2 350.7 M536.3 345.9 L520.4 361.2 M520.4 361.2 L530.6 358.3 M520.4 361.2 L523.7 351.1 M554.5 345.9 L538.9 361.5 M538.9 361.5 L549.0 358.4 M538.9 361.5 L542.0 351.4 M572.7 345.9 L557.4 361.7 M557.4 361.7 L567.4 358.4 M557.4 361.7 L560.3 351.5 M590.9 345.9 L576.0 361.8 M576.0 361.8 L585.9 358.4 M576.0 361.8 L578.7 351.7 M609.0 345.9 L595.0 362.0 M595.0 362.0 L604.6 358.4 M595.0 362.0 L597.3 352.0 M627.2 345.9 L613.8 362.1 M613.8 362.1 L623.1 358.2 M613.8 362.1 L615.8 352.2 M645.4 345.9 L632.9 361.8 M632.9 361.8 L641.8 357.8 M632.9 361.8 L634.6 352.2 M663.6 345.9 L651.9 361.7 M651.9 361.7 L660.4 357.6 M651.9 361.7 L653.3 352.4 M681.7 345.9 L670.8 361.5 M670.8 361.5 L678.9 357.3 M670.8 361.5 L671.9 352.4 M699.9 345.9 L689.8 361.0 M689.8 361.0 L697.5 356.9 M689.8 361.0 L690.7 352.3 M718.1 345.9 L708.4 361.0 M708.4 361.0 L715.9 356.8 M708.4 361.0 L709.1 352.4 M736.2 345.9 L726.6 361.1 M726.6 361.1 L734.1 356.8 M726.6 361.1 L727.3 352.5 M754.4 345.9 L744.8 361.0 M744.8 361.0 L752.3 356.8 M744.8 361.0 L745.5 352.4 M772.6 345.9 L763.0 361.0 M763.0 361.0 L770.5 356.7 M763.0 361.0 L763.7 352.4 M790.8 345.9 L781.3 361.0 M781.3 361.0 L788.7 356.7 M781.3 361.0 L781.9 352.5 M300.1 364.1 L281.2 372.0 M281.2 372.0 L291.0 372.9 M281.2 372.0 L287.4 364.4 M318.2 364.1 L299.5 372.4 M299.5 372.4 L309.3 373.1 M299.5 372.4 L305.6 364.6 M336.4 364.1 L317.9 372.7 M317.9 372.7 L327.7 373.2 M317.9 372.7 L323.8 364.9 M354.6 364.1 L336.0 373.1 M336.0 373.1 L345.9 373.4 M336.0 373.1 L341.8 365.1 M372.8 364.1 L354.3 373.4 M354.3 373.4 L364.3 373.6 M354.3 373.4 L360.0 365.3 M390.9 364.1 L372.5 373.8 M372.5 373.8 L382.5 373.8 M372.5 373.8 L378.1 365.5 M409.1 364.1 L389.4 373.3 M389.4 373.3 L399.8 373.8 M389.4 373.3 L395.7 364.9 M427.3 364.1 L407.3 374.7 M407.3 374.7 L418.2 374.7 M407.3 374.7 L413.4 365.7 M445.5 364.1 L425.6 376.0 M425.6 376.0 L436.7 375.4 M425.6 376.0 L431.3 366.4 M463.6 364.1 L445.0 376.6 M445.0 376.6 L455.7 375.5 M445.0 376.6 L450.1 367.1 M481.8 364.1 L464.9 377.8 M464.9 377.8 L475.1 375.8 M464.9 377.8 L469.0 368.1 M500.0 364.1 L483.7 378.7 M483.7 378.7 L493.9 376.2 M483.7 378.7 L487.3 368.8 M518.2 364.1 L502.2 379.2 M502.2 379.2 L512.4 376.3 M502.2 379.2 L505.6 369.2 M536.3 364.1 L520.8 379.6 M520.8 379.6 L530.9 376.5 M520.8 379.6 L523.9 369.5 M554.5 364.1 L539.7 380.0 M539.7 380.0 L549.5 376.6 M539.7 380.0 L542.4 369.9 M572.7 364.1 L558.7 380.7 M558.7 380.7 L568.4 376.8 M558.7 380.7 L560.9 370.5 M590.9 364.1 L577.0 380.6 M577.0 380.6 L586.6 376.7 M577.0 380.6 L579.1 370.5 M609.0 364.1 L595.5 380.8 M595.5 380.8 L605.0 376.7 M595.5 380.8 L597.5 370.6 M627.2 364.1 L614.2 381.1 M614.2 381.1 L623.6 376.8 M614.2 381.1 L615.9 371.0 M645.4 364.1 L633.5 380.8 M633.5 380.8 L642.3 376.4 M633.5 380.8 L634.7 371.0 M663.6 364.1 L652.6 380.5 M652.6 380.5 L661.0 376.0 M652.6 380.5 L653.6 371.0 M681.7 364.1 L671.6 380.0 M671.6 380.0 L679.5 375.5 M671.6 380.0 L672.3 370.9 M699.9 364.1 L690.6 379.5 M690.6 379.5 L698.0 375.0 M690.6 379.5 L691.1 370.8 M718.1 364.1 L709.0 379.6 M709.0 379.6 L716.3 375.0 M709.0 379.6 L709.3 370.9 M736.2 364.1 L727.1 379.5 M727.1 379.5 L734.5 375.0 M727.1 379.5 L727.5 370.9 M754.4 364.1 L745.2 379.4 M745.2 379.4 L752.6 375.0 M745.2 379.4 L745.7 370.8 M772.6 364.1 L763.4 379.4 M763.4 379.4 L770.7 374.9 M763.4 379.4 L763.8 370.8 M790.8 364.1 L781.6 379.4 M781.6 379.4 L788.9 374.9 M781.6 379.4 L782.0 370.8 M281.9 382.2 L266.3 390.2 M266.3 390.2 L274.7 390.3 M266.3 390.2 L271.1 383.3 M300.1 382.2 L282.2 391.3 M282.2 391.3 L291.8 391.5 M282.2 391.3 L287.7 383.4 M318.2 382.2 L299.8 391.9 M299.8 391.9 L309.8 392.0 M299.8 391.9 L305.4 383.6 M336.4 382.2 L318.2 392.3 M318.2 392.3 L328.2 392.2 M318.2 392.3 L323.6 383.9 M354.6 382.2 L336.6 392.8 M336.6 392.8 L346.6 392.3 M336.6 392.8 L341.8 384.2 M372.8 382.2 L355.0 393.2 M355.0 393.2 L365.0 392.5 M355.0 393.2 L360.1 384.5 M390.9 382.2 L373.3 393.7 M373.3 393.7 L383.3 392.8 M373.3 393.7 L378.2 384.9 M409.1 382.2 L391.1 393.5 M391.1 393.5 L401.3 392.8 M391.1 393.5 L396.2 384.6 M427.3 382.2 L409.1 394.5 M409.1 394.5 L419.6 393.4 M409.1 394.5 L414.0 385.2 M445.5 382.2 L427.5 394.8 M427.5 394.8 L437.9 393.5 M427.5 394.8 L432.3 385.4 M463.6 382.2 L446.2 394.4 M446.2 394.4 L456.4 393.2 M446.2 394.4 L450.9 385.3 M481.8 382.2 L465.7 395.7 M465.7 395.7 L475.6 393.6 M465.7 395.7 L469.5 386.4 M500.0 382.2 L484.3 396.8 M484.3 396.8 L494.2 394.2 M484.3 396.8 L487.7 387.1 M518.2 382.2 L503.1 397.5 M503.1 397.5 L512.9 394.4 M503.1 397.5 L506.1 387.6 M536.3 382.2 L522.0 398.1 M522.0 398.1 L531.7 394.6 M522.0 398.1 L524.5 388.2 M554.5 382.2 L540.7 398.6 M540.7 398.6 L550.3 394.8 M540.7 398.6 L542.9 388.6 M572.7 382.2 L559.6 398.9 M559.6 398.9 L568.9 394.8 M559.6 398.9 L561.4 388.9 M590.9 382.2 L577.8 398.9 M577.8 398.9 L587.1 394.8 M577.8 398.9 L579.6 388.9 M609.0 382.2 L596.8 399.6 M596.8 399.6 L605.9 395.0 M596.8 399.6 L598.1 389.5 M627.2 382.2 L615.1 399.8 M615.1 399.8 L624.2 395.1 M615.1 399.8 L616.3 389.6 M645.4 382.2 L634.3 399.4 M634.3 399.4 L642.9 394.6 M634.3 399.4 L635.1 389.6 M663.6 382.2 L653.3 399.4 M653.3 399.4 L661.5 394.4 M653.3 399.4 L653.8 389.8 M681.7 382.2 L672.1 399.0 M672.1 399.0 L680.0 394.1 M672.1 399.0 L672.4 389.7 M699.9 382.2 L691.1 398.5 M691.1 398.5 L698.5 393.6 M691.1 398.5 L691.2 389.6 M718.1 382.2 L709.2 398.4 M709.2 398.4 L716.6 393.6 M709.2 398.4 L709.3 389.6 M736.2 382.2 L727.4 398.2 M727.4 398.2 L734.8 393.4 M727.4 398.2 L727.5 389.4 M754.4 382.2 L745.5 398.1 M745.5 398.1 L752.9 393.4 M745.5 398.1 L745.7 389.4 M772.6 382.2 L763.7 398.0 M763.7 398.0 L771.0 393.3 M763.7 398.0 L763.9 389.3 M790.8 382.2 L782.0 397.8 M782.0 397.8 L789.2 393.2 M782.0 397.8 L782.2 389.2 M281.9 400.4 L267.0 408.3 M267.0 408.3 L275.1 408.3 M267.0 408.3 L271.5 401.6 M300.1 400.4 L284.1 410.0 M284.1 410.0 L293.0 409.5 M284.1 410.0 L288.7 402.3 M318.2 400.4 L300.4 411.1 M300.4 411.1 L310.4 410.6 M300.4 411.1 L305.5 402.6 M336.4 400.4 L318.8 411.5 M318.8 411.5 L328.8 410.8 M318.8 411.5 L323.7 402.9 M354.6 400.4 L337.2 412.0 M337.2 412.0 L347.2 411.0 M337.2 412.0 L342.0 403.1 M372.8 400.4 L355.7 412.4 M355.7 412.4 L365.6 411.1 M355.7 412.4 L360.2 403.4 M390.9 400.4 L374.4 413.3 M374.4 413.3 L384.3 411.6 M374.4 413.3 L378.5 404.1 M409.1 400.4 L392.2 414.1 M392.2 414.1 L402.4 412.1 M392.2 414.1 L396.3 404.5 M427.3 400.4 L410.6 413.9 M410.6 413.9 L420.7 412.0 M410.6 413.9 L414.6 404.4 M445.5 400.4 L429.1 413.9 M429.1 413.9 L439.1 411.9 M429.1 413.9 L433.0 404.5 M463.6 400.4 L447.4 414.0 M447.4 414.0 L457.3 411.9 M447.4 414.0 L451.2 404.6 M481.8 400.4 L466.6 415.2 M466.6 415.2 L476.4 412.4 M466.6 415.2 L469.7 405.5 M500.0 400.4 L485.5 415.9 M485.5 415.9 L495.1 412.6 M485.5 415.9 L488.1 406.1 M518.2 400.4 L504.4 416.6 M504.4 416.6 L513.9 412.8 M504.4 416.6 L506.6 406.6 M536.3 400.4 L523.4 417.2 M523.4 417.2 L532.7 413.0 M523.4 417.2 L525.1 407.2 M554.5 400.4 L542.1 417.6 M542.1 417.6 L551.3 413.1 M542.1 417.6 L543.5 407.5 M572.7 400.4 L560.8 418.0 M560.8 418.0 L569.8 413.2 M560.8 418.0 L561.9 407.9 M590.9 400.4 L579.6 418.4 M579.6 418.4 L588.4 413.3 M579.6 418.4 L580.3 408.2 M609.0 400.4 L598.1 418.6 M598.1 418.6 L606.8 413.3 M598.1 418.6 L598.6 408.4 M627.2 400.4 L616.3 418.6 M616.3 418.6 L625.0 413.3 M616.3 418.6 L616.8 408.4 M645.4 400.4 L635.0 418.3 M635.0 418.3 L643.4 413.1 M635.0 418.3 L635.3 408.4 M663.6 400.4 L653.9 418.2 M653.9 418.2 L662.0 412.9 M653.9 418.2 L654.0 408.5 M681.7 400.4 L672.8 417.9 M672.8 417.9 L680.5 412.5 M672.8 417.9 L672.6 408.4 M699.9 400.4 L691.4 417.3 M691.4 417.3 L698.8 412.1 M691.4 417.3 L691.2 408.2 M718.1 400.4 L709.5 417.1 M709.5 417.1 L716.9 411.9 M709.5 417.1 L709.4 408.1 M736.2 400.4 L727.7 416.9 M727.7 416.9 L735.1 411.8 M727.7 416.9 L727.6 408.0 M754.4 400.4 L745.9 416.8 M745.9 416.8 L753.2 411.8 M745.9 416.8 L745.8 407.9 M772.6 400.4 L764.0 416.7 M764.0 416.7 L771.3 411.7 M764.0 416.7 L764.0 407.8 M790.8 400.4 L782.1 416.6 M782.1 416.6 L789.5 411.7 M782.1 416.6 L782.1 407.8 M300.1 418.6 L285.7 428.6 M285.7 428.6 L294.1 427.6 M285.7 428.6 L289.5 421.1 M318.2 418.6 L301.2 430.5 M301.2 430.5 L311.1 429.3 M301.2 430.5 L305.7 421.6 M336.4 418.6 L319.5 430.7 M319.5 430.7 L329.4 429.4 M319.5 430.7 L323.9 421.8 M354.6 418.6 L337.9 431.1 M337.9 431.1 L347.8 429.6 M337.9 431.1 L342.2 422.1 M372.8 418.6 L356.7 431.9 M356.7 431.9 L366.5 429.9 M356.7 431.9 L360.5 422.6 M390.9 418.6 L375.3 432.6 M375.3 432.6 L385.1 430.2 M375.3 432.6 L378.7 423.2 M409.1 418.6 L393.1 433.0 M393.1 433.0 L403.1 430.5 M393.1 433.0 L396.6 423.3 M427.3 418.6 L411.8 433.0 M411.8 433.0 L421.6 430.4 M411.8 433.0 L415.1 423.4 M445.5 418.6 L430.2 433.3 M430.2 433.3 L440.0 430.5 M430.2 433.3 L433.3 423.6 M463.6 418.6 L448.6 433.6 M448.6 433.6 L458.4 430.6 M448.6 433.6 L451.6 423.8 M481.8 418.6 L467.7 434.5 M467.7 434.5 L477.3 430.9 M467.7 434.5 L470.1 424.6 M500.0 418.6 L486.6 435.1 M486.6 435.1 L496.0 431.1 M486.6 435.1 L488.6 425.1 M518.2 418.6 L505.7 435.7 M505.7 435.7 L514.8 431.3 M505.7 435.7 L507.1 425.7 M536.3 418.6 L524.8 436.4 M524.8 436.4 L533.7 431.4 M524.8 436.4 L525.7 426.2 M554.5 418.6 L543.6 436.5 M543.6 436.5 L552.2 431.4 M543.6 436.5 L544.2 426.5 M572.7 418.6 L562.3 436.8 M562.3 436.8 L570.8 431.5 M562.3 436.8 L562.6 426.8 M590.9 418.6 L581.0 437.1 M581.0 437.1 L589.3 431.5 M581.0 437.1 L581.0 427.0 M609.0 418.6 L599.2 437.2 M599.2 437.2 L607.6 431.5 M599.2 437.2 L599.2 427.1 M627.2 418.6 L617.4 437.3 M617.4 437.3 L625.8 431.6 M617.4 437.3 L617.4 427.2 M645.4 418.6 L636.0 437.0 M636.0 437.0 L644.1 431.3 M636.0 437.0 L635.8 427.1 M663.6 418.6 L654.8 436.8 M654.8 436.8 L662.6 431.1 M654.8 436.8 L654.4 427.1 M681.7 418.6 L673.4 436.4 M673.4 436.4 L681.0 430.7 M673.4 436.4 L672.9 427.0 M699.9 418.6 L691.8 435.8 M691.8 435.8 L699.1 430.3 M691.8 435.8 L691.4 426.7 M718.1 418.6 L710.0 435.6 M710.0 435.6 L717.3 430.2 M710.0 435.6 L709.6 426.6 M736.2 418.6 L728.3 435.3 M728.3 435.3 L735.5 430.0 M728.3 435.3 L727.9 426.4 M754.4 418.6 L746.6 435.2 M746.6 435.2 L753.7 429.9 M746.6 435.2 L746.2 426.4 M772.6 418.6 L765.0 435.1 M765.0 435.1 L771.9 429.8 M765.0 435.1 L764.5 426.4 M790.8 418.6 L783.2 435.3 M783.2 435.3 L790.2 429.9 M783.2 435.3 L782.6 426.5 M336.4 436.8 L322.4 448.1 M322.4 448.1 L330.9 446.4 M322.4 448.1 L325.8 440.1 M354.6 436.8 L340.5 449.2 M340.5 449.2 L349.3 447.1 M340.5 449.2 L343.7 440.7 M372.8 436.8 L358.2 450.9 M358.2 450.9 L367.6 448.2 M358.2 450.9 L361.2 441.6 M390.9 436.8 L377.0 452.3 M377.0 452.3 L386.4 448.8 M377.0 452.3 L379.4 442.6 M409.1 436.8 L394.9 452.5 M394.9 452.5 L404.4 449.0 M394.9 452.5 L397.3 442.6 M427.3 436.8 L412.9 452.4 M412.9 452.4 L422.5 449.0 M412.9 452.4 L415.5 442.5 M445.5 436.8 L431.5 452.8 M431.5 452.8 L441.0 449.1 M431.5 452.8 L433.8 442.8 M463.6 436.8 L450.0 453.0 M450.0 453.0 L459.4 449.2 M450.0 453.0 L452.1 443.0 M481.8 436.8 L468.9 453.6 M468.9 453.6 L478.2 449.4 M468.9 453.6 L470.6 443.5 M500.0 436.8 L488.0 454.2 M488.0 454.2 L497.0 449.5 M488.0 454.2 L489.1 444.1 M518.2 436.8 L506.7 454.6 M506.7 454.6 L515.6 449.6 M506.7 454.6 L507.5 444.4 M536.3 436.8 L525.5 454.8 M525.5 454.8 L534.1 449.6 M525.5 454.8 L526.0 444.7 M554.5 436.8 L544.6 455.1 M544.6 455.1 L552.9 449.5 M544.6 455.1 L544.6 445.1 M572.7 436.8 L563.2 455.3 M563.2 455.3 L571.4 449.6 M563.2 455.3 L563.0 445.3 M590.9 436.8 L581.8 455.5 M581.8 455.5 L589.9 449.6 M581.8 455.5 L581.4 445.6 M609.0 436.8 L599.8 455.6 M599.8 455.6 L608.0 449.7 M599.8 455.6 L599.5 445.5 M627.2 436.8 L618.3 455.8 M618.3 455.8 L626.4 449.7 M618.3 455.8 L617.8 445.7 M645.4 436.8 L637.0 455.6 M637.0 455.6 L644.8 449.5 M637.0 455.6 L636.3 445.7 M663.6 436.8 L655.6 455.4 M655.6 455.4 L663.2 449.3 M655.6 455.4 L654.8 445.7 M681.7 436.8 L674.1 454.9 M674.1 454.9 L681.4 448.9 M674.1 454.9 L673.2 445.5 M699.9 436.8 L692.6 454.4 M692.6 454.4 L699.7 448.6 M692.6 454.4 L691.7 445.3 M718.1 436.8 L711.0 454.1 M711.0 454.1 L717.9 448.4 M711.0 454.1 L710.1 445.2 M736.2 436.8 L729.4 453.8 M729.4 453.8 L736.2 448.1 M729.4 453.8 L728.5 445.0 M754.4 436.8 L747.7 453.7 M747.7 453.7 L754.4 448.0 M747.7 453.7 L746.8 445.0 M772.6 436.8 L766.1 453.5 M766.1 453.5 L772.6 447.9 M766.1 453.5 L765.1 444.9 M790.8 436.8 L784.3 453.6 M784.3 453.6 L790.8 447.9 M784.3 453.6 L783.3 445.0 M336.4 454.9 L325.8 463.8 M325.8 463.8 L332.3 462.5 M325.8 463.8 L328.3 457.7 M354.6 454.9 L344.0 465.1 M344.0 465.1 L350.8 463.2 M344.0 465.1 L346.2 458.4 M372.8 454.9 L362.2 467.0 M362.2 467.0 L369.4 464.3 M362.2 467.0 L364.0 459.5 M390.9 454.9 L380.1 469.3 M380.1 469.3 L387.9 465.6 M380.1 469.3 L381.4 460.8 M409.1 454.9 L397.8 469.8 M397.8 469.8 L405.9 466.0 M397.8 469.8 L399.2 460.9 M427.3 454.9 L415.9 469.7 M415.9 469.7 L424.0 466.0 M415.9 469.7 L417.4 460.9 M445.5 454.9 L433.9 470.8 M433.9 470.8 L442.4 466.7 M433.9 470.8 L435.2 461.5 M463.6 454.9 L452.5 471.0 M452.5 471.0 L460.8 466.7 M452.5 471.0 L453.6 461.7 M481.8 454.9 L470.7 471.7 M470.7 471.7 L479.2 467.1 M470.7 471.7 L471.6 462.1 M500.0 454.9 L489.9 472.4 M489.9 472.4 L498.1 467.3 M489.9 472.4 L490.2 462.7 M518.2 454.9 L508.2 472.5 M508.2 472.5 L516.4 467.3 M508.2 472.5 L508.5 462.8 M536.3 454.9 L526.4 472.8 M526.4 472.8 L534.6 467.5 M526.4 472.8 L526.6 463.0 M554.5 454.9 L545.1 472.9 M545.1 472.9 L553.1 467.4 M545.1 472.9 L545.0 463.1 M572.7 454.9 L564.3 473.4 M564.3 473.4 L572.0 467.5 M564.3 473.4 L563.7 463.7 M590.9 454.9 L582.3 473.5 M582.3 473.5 L590.1 467.6 M582.3 473.5 L581.7 463.7 M609.0 454.9 L600.5 473.7 M600.5 473.7 L608.4 467.6 M600.5 473.7 L599.9 463.8 M627.2 454.9 L618.8 473.8 M618.8 473.8 L626.6 467.7 M618.8 473.8 L618.1 463.9 M645.4 454.9 L637.4 473.8 M637.4 473.8 L645.0 467.6 M637.4 473.8 L636.5 464.0 M663.6 454.9 L656.2 473.6 M656.2 473.6 L663.5 467.4 M656.2 473.6 L655.1 464.0 M681.7 454.9 L674.5 473.1 M674.5 473.1 L681.7 467.0 M674.5 473.1 L673.5 463.8 M699.9 454.9 L693.0 472.7 M693.0 472.7 L699.9 466.7 M693.0 472.7 L691.9 463.6 M718.1 454.9 L711.4 472.4 M711.4 472.4 L718.1 466.5 M711.4 472.4 L710.3 463.5 M736.2 454.9 L729.7 472.1 M729.7 472.1 L736.4 466.3 M729.7 472.1 L728.6 463.4 M754.4 454.9 L748.1 472.0 M748.1 472.0 L754.6 466.2 M748.1 472.0 L746.9 463.3 M772.6 454.9 L766.3 471.8 M766.3 471.8 L772.8 466.1 M766.3 471.8 L765.2 463.2 M790.8 454.9 L784.5 471.8 M784.5 471.8 L790.9 466.1 M784.5 471.8 L783.3 463.2 M336.4 473.1 L326.3 482.2 M326.3 482.2 L332.6 480.6 M326.3 482.2 L328.5 476.1 M354.6 473.1 L346.3 482.3 M346.3 482.3 L351.9 480.3 M346.3 482.3 L347.7 476.5 M372.8 473.1 L363.9 483.4 M363.9 483.4 L370.0 481.0 M363.9 483.4 L365.3 477.0 M390.9 473.1 L382.8 485.2 M382.8 485.2 L389.0 481.9 M382.8 485.2 L383.5 478.2 M409.1 473.1 L399.7 486.8 M399.7 486.8 L406.8 483.1 M399.7 486.8 L400.6 478.9 M427.3 473.1 L417.3 487.3 M417.3 487.3 L424.7 483.5 M417.3 487.3 L418.3 479.0 M445.5 473.1 L435.4 488.0 M435.4 488.0 L443.0 484.0 M435.4 488.0 L436.3 479.4 M463.6 473.1 L453.9 488.8 M453.9 488.8 L461.6 484.3 M453.9 488.8 L454.5 480.0 M481.8 473.1 L472.3 489.5 M472.3 489.5 L480.0 484.7 M472.3 489.5 L472.6 480.4 M500.0 473.1 L491.0 489.9 M491.0 489.9 L498.6 484.8 M491.0 489.9 L491.0 480.8 M518.2 473.1 L509.8 490.3 M509.8 490.3 L517.2 484.9 M509.8 490.3 L509.4 481.1 M536.3 473.1 L528.4 490.8 M528.4 490.8 L535.8 485.1 M528.4 490.8 L527.8 481.5 M554.5 473.1 L546.4 491.1 M546.4 491.1 L553.9 485.3 M546.4 491.1 L545.8 481.6 M572.7 473.1 L565.1 491.5 M565.1 491.5 L572.4 485.4 M565.1 491.5 L564.1 482.0 M590.9 473.1 L583.3 491.7 M583.3 491.7 L590.7 485.5 M583.3 491.7 L582.3 482.1 M609.0 473.1 L601.5 491.8 M601.5 491.8 L608.9 485.6 M601.5 491.8 L600.5 482.2 M627.2 473.1 L619.8 492.0 M619.8 492.0 L627.2 485.6 M619.8 492.0 L618.7 482.3 M645.4 473.1 L637.9 491.7 M637.9 491.7 L645.3 485.5 M637.9 491.7 L636.9 482.2 M663.6 473.1 L656.7 491.8 M656.7 491.8 L663.8 485.4 M656.7 491.8 L655.4 482.3 M681.7 473.1 L674.9 491.3 M674.9 491.3 L681.9 485.1 M674.9 491.3 L673.7 482.1 M699.9 473.1 L693.4 490.9 M693.4 490.9 L700.1 484.8 M693.4 490.9 L692.1 481.9 M718.1 473.1 L711.7 490.7 M711.7 490.7 L718.4 484.6 M711.7 490.7 L710.5 481.8 M736.2 473.1 L730.0 490.4 M730.0 490.4 L736.5 484.5 M730.0 490.4 L728.8 481.6 M754.4 473.1 L748.2 490.2 M748.2 490.2 L754.7 484.4 M748.2 490.2 L747.0 481.6 M772.6 473.1 L766.5 490.0 M766.5 490.0 L772.9 484.2 M766.5 490.0 L765.2 481.5 M790.8 473.1 L784.6 490.0 M784.6 490.0 L791.0 484.2 M784.6 490.0 L783.4 481.5 M318.2 491.3 L307.5 504.1 M307.5 504.1 L314.9 501.1 M307.5 504.1 L309.2 496.2 M336.4 491.3 L326.5 504.9 M326.5 504.9 L333.8 501.3 M326.5 504.9 L327.6 496.9 M354.6 491.3 L346.8 503.3 M346.8 503.3 L352.8 499.9 M346.8 503.3 L347.4 496.4 M372.8 491.3 L366.7 502.6 M366.7 502.6 L371.8 499.2 M366.7 502.6 L366.7 496.5 M390.9 491.3 L384.2 503.1 M384.2 503.1 L389.7 499.6 M384.2 503.1 L384.4 496.6 M409.1 491.3 L401.3 503.6 M401.3 503.6 L407.4 500.2 M401.3 503.6 L401.8 496.6 M427.3 491.3 L418.5 503.9 M418.5 503.9 L425.0 500.5 M418.5 503.9 L419.4 496.5 M445.5 491.3 L436.3 504.4 M436.3 504.4 L443.1 500.9 M436.3 504.4 L437.2 496.8 M463.6 491.3 L455.3 505.4 M455.3 505.4 L462.0 501.3 M455.3 505.4 L455.7 497.5 M481.8 491.3 L474.2 506.9 M474.2 506.9 L480.9 502.0 M474.2 506.9 L473.9 498.5 M500.0 491.3 L492.5 507.6 M492.5 507.6 L499.3 502.4 M492.5 507.6 L492.0 499.0 M518.2 491.3 L511.0 507.8 M511.0 507.8 L517.7 502.4 M511.0 507.8 L510.3 499.2 M536.3 491.3 L529.4 508.2 M529.4 508.2 L536.1 502.6 M529.4 508.2 L528.5 499.5 M554.5 491.3 L547.8 508.8 M547.8 508.8 L554.6 502.9 M547.8 508.8 L546.7 499.9 M572.7 491.3 L565.9 509.0 M565.9 509.0 L572.8 503.0 M565.9 509.0 L564.8 500.0 M590.9 491.3 L584.0 509.1 M584.0 509.1 L590.9 503.1 M584.0 509.1 L582.9 500.0 M609.0 491.3 L602.3 509.7 M602.3 509.7 L609.3 503.4 M602.3 509.7 L601.0 500.4 M627.2 491.3 L620.8 509.9 M620.8 509.9 L627.7 503.5 M620.8 509.9 L619.3 500.6 M645.4 491.3 L639.0 509.7 M639.0 509.7 L645.9 503.3 M639.0 509.7 L637.5 500.5 M663.6 491.3 L657.1 509.8 M657.1 509.8 L664.0 503.4 M657.1 509.8 L655.7 500.5 M681.7 491.3 L675.4 509.3 M675.4 509.3 L682.2 503.1 M675.4 509.3 L674.0 500.3 M699.9 491.3 L693.6 509.2 M693.6 509.2 L700.3 503.0 M693.6 509.2 L692.3 500.2 M718.1 491.3 L711.9 508.7 M711.9 508.7 L718.5 502.7 M711.9 508.7 L710.6 499.9 M736.2 491.3 L730.2 508.4 M730.2 508.4 L736.6 502.5 M730.2 508.4 L728.9 499.8 M754.4 491.3 L748.4 508.2 M748.4 508.2 L754.8 502.4 M748.4 508.2 L747.1 499.7 M772.6 491.3 L766.6 508.2 M766.6 508.2 L773.0 502.4 M766.6 508.2 L765.3 499.7 M790.8 491.3 L784.8 508.1 M784.8 508.1 L791.1 502.3 M784.8 508.1 L783.5 499.6 M300.1 509.4 L289.5 523.5 M289.5 523.5 L297.1 519.9 M289.5 523.5 L290.8 515.2 M318.2 509.4 L307.4 525.0 M307.4 525.0 L315.5 520.8 M307.4 525.0 L308.5 515.9 M336.4 509.4 L326.5 523.8 M326.5 523.8 L333.9 520.0 M326.5 523.8 L327.5 515.5 M354.6 509.4 L346.8 521.9 M346.8 521.9 L352.9 518.4 M346.8 521.9 L347.3 514.9 M372.8 509.4 L365.9 520.7 M365.9 520.7 L371.3 517.5 M365.9 520.7 L366.3 514.4 M390.9 509.4 L383.6 520.0 M383.6 520.0 L389.1 517.2 M383.6 520.0 L384.3 513.9 M409.1 509.4 L402.2 519.7 M402.2 519.7 L407.4 516.9 M402.2 519.7 L402.8 513.8 M427.3 509.4 L419.3 520.0 M419.3 520.0 L425.1 517.3 M419.3 520.0 L420.3 513.7 M445.5 509.4 L437.9 521.2 M437.9 521.2 L443.7 517.9 M437.9 521.2 L438.4 514.5 M463.6 509.4 L456.4 522.6 M456.4 522.6 L462.4 518.7 M456.4 522.6 L456.5 515.4 M481.8 509.4 L475.1 524.0 M475.1 524.0 L481.2 519.3 M475.1 524.0 L474.7 516.3 M500.0 509.4 L493.3 524.7 M493.3 524.7 L499.6 519.7 M493.3 524.7 L492.7 516.7 M518.2 509.4 L511.6 525.4 M511.6 525.4 L518.0 520.1 M511.6 525.4 L510.8 517.2 M536.3 509.4 L530.0 525.8 M530.0 525.8 L536.4 520.3 M530.0 525.8 L529.0 517.4 M554.5 509.4 L548.3 526.2 M548.3 526.2 L554.7 520.5 M548.3 526.2 L547.2 517.7 M572.7 509.4 L566.7 526.4 M566.7 526.4 L573.1 520.5 M566.7 526.4 L565.4 517.9 M590.9 509.4 L585.0 526.5 M585.0 526.5 L591.3 520.6 M585.0 526.5 L583.6 517.9 M609.0 509.4 L603.0 527.0 M603.0 527.0 L609.5 520.9 M603.0 527.0 L601.6 518.2 M627.2 509.4 L621.1 527.6 M621.1 527.6 L627.7 521.3 M621.1 527.6 L619.6 518.5 M645.4 509.4 L639.0 527.6 M639.0 527.6 L645.8 521.3 M639.0 527.6 L637.6 518.5 M663.6 509.4 L657.2 527.7 M657.2 527.7 L664.0 521.4 M657.2 527.7 L655.8 518.5 M681.7 509.4 L675.4 527.5 M675.4 527.5 L682.1 521.3 M675.4 527.5 L674.0 518.4 M699.9 509.4 L693.7 527.4 M693.7 527.4 L700.4 521.2 M693.7 527.4 L692.3 518.4 M718.1 509.4 L712.1 526.9 M712.1 526.9 L718.6 520.9 M712.1 526.9 L710.7 518.2 M736.2 509.4 L730.4 526.5 M730.4 526.5 L736.7 520.6 M730.4 526.5 L729.1 517.9 M754.4 509.4 L748.6 526.4 M748.6 526.4 L754.9 520.5 M748.6 526.4 L747.2 517.9 M772.6 509.4 L766.8 526.3 M766.8 526.3 L773.1 520.5 M766.8 526.3 L765.4 517.9 M790.8 509.4 L785.0 526.3 M785.0 526.3 L791.2 520.5 M785.0 526.3 L783.6 517.9 M281.9 527.6 L267.5 542.7 M267.5 542.7 L277.0 539.6 M267.5 542.7 L270.2 533.1 M300.1 527.6 L286.9 543.5 M286.9 543.5 L296.1 539.8 M286.9 543.5 L288.9 533.8 M318.2 527.6 L307.0 542.2 M307.0 542.2 L315.1 538.5 M307.0 542.2 L308.5 533.5 M336.4 527.6 L326.1 541.3 M326.1 541.3 L333.6 537.8 M326.1 541.3 L327.4 533.2 M354.6 527.6 L344.5 538.9 M344.5 538.9 L351.3 536.4 M344.5 538.9 L346.3 531.9 M372.8 527.6 L363.3 537.8 M363.3 537.8 L369.6 535.6 M363.3 537.8 L365.0 531.3 M390.9 527.6 L382.0 537.2 M382.0 537.2 L387.9 535.2 M382.0 537.2 L383.6 531.1 M409.1 527.6 L401.2 537.9 M401.2 537.9 L406.9 535.3 M401.2 537.9 L402.2 531.8 M427.3 527.6 L420.1 538.7 M420.1 538.7 L425.6 535.6 M420.1 538.7 L420.6 532.4 M445.5 527.6 L438.2 539.6 M438.2 539.6 L444.0 536.2 M438.2 539.6 L438.6 532.9 M463.6 527.6 L457.2 540.3 M457.2 540.3 L462.8 536.4 M457.2 540.3 L457.1 533.5 M481.8 527.6 L475.8 541.6 M475.8 541.6 L481.5 537.0 M475.8 541.6 L475.2 534.3 M500.0 527.6 L494.0 542.3 M494.0 542.3 L499.8 537.4 M494.0 542.3 L493.2 534.7 M518.2 527.6 L512.4 542.6 M512.4 542.6 L518.2 537.6 M512.4 542.6 L511.4 535.0 M536.3 527.6 L530.7 543.0 M530.7 543.0 L536.5 537.8 M530.7 543.0 L529.6 535.2 M554.5 527.6 L549.0 543.2 M549.0 543.2 L554.8 537.9 M549.0 543.2 L547.8 535.4 M572.7 527.6 L567.4 543.4 M567.4 543.4 L573.2 537.9 M567.4 543.4 L566.1 535.5 M590.9 527.6 L585.7 543.6 M585.7 543.6 L591.5 538.0 M585.7 543.6 L584.3 535.6 M609.0 527.6 L603.6 543.9 M603.6 543.9 L609.6 538.2 M603.6 543.9 L602.3 535.8 M627.2 527.6 L621.7 544.1 M621.7 544.1 L627.7 538.4 M621.7 544.1 L620.3 535.9 M645.4 527.6 L639.6 544.4 M639.6 544.4 L645.8 538.6 M639.6 544.4 L638.3 536.0 M663.6 527.6 L657.6 544.4 M657.6 544.4 L663.9 538.6 M657.6 544.4 L656.4 536.0 M681.7 527.6 L675.8 544.3 M675.8 544.3 L682.1 538.6 M675.8 544.3 L674.6 535.9 M699.9 527.6 L694.0 544.6 M694.0 544.6 L700.3 538.7 M694.0 544.6 L692.7 536.1 M718.1 527.6 L712.5 544.3 M712.5 544.3 L718.6 538.5 M712.5 544.3 L711.1 536.0 M736.2 527.6 L730.7 544.5 M730.7 544.5 L736.8 538.6 M730.7 544.5 L729.2 536.1 M754.4 527.6 L748.9 544.3 M748.9 544.3 L755.0 538.5 M748.9 544.3 L747.5 536.0 M772.6 527.6 L767.0 544.3 M767.0 544.3 L773.1 538.5 M767.0 544.3 L765.7 536.0 M790.8 527.6 L785.3 543.9 M785.3 543.9 L791.3 538.3 M785.3 543.9 L784.0 535.8 M263.7 545.8 L250.0 556.6 M250.0 556.6 L258.2 555.1 M250.0 556.6 L253.4 548.9 M281.9 545.8 L266.9 558.9 M266.9 558.9 L276.2 556.7 M266.9 558.9 L270.3 549.9 M300.1 545.8 L286.7 558.7 M286.7 558.7 L295.3 556.2 M286.7 558.7 L289.4 550.2 M318.2 545.8 L306.5 558.4 M306.5 558.4 L314.3 555.7 M306.5 558.4 L308.6 550.4 M336.4 545.8 L324.9 557.4 M324.9 557.4 L332.4 555.0 M324.9 557.4 L327.2 549.9 M354.6 545.8 L343.2 556.1 M343.2 556.1 L350.3 554.3 M343.2 556.1 L345.7 549.1 M372.8 545.8 L363.0 556.3 M363.0 556.3 L369.5 554.0 M363.0 556.3 L364.8 549.6 M390.9 545.8 L382.6 556.5 M382.6 556.5 L388.5 553.8 M382.6 556.5 L383.7 550.1 M409.1 545.8 L402.1 557.4 M402.1 557.4 L407.7 554.1 M402.1 557.4 L402.4 550.9 M427.3 545.8 L420.6 557.9 M420.6 557.9 L426.2 554.3 M420.6 557.9 L420.7 551.3 M445.5 545.8 L438.6 558.0 M438.6 558.0 L444.3 554.4 M438.6 558.0 L438.8 551.3 M463.6 545.8 L457.6 558.7 M457.6 558.7 L463.1 554.6 M457.6 558.7 L457.3 551.9 M481.8 545.8 L476.4 559.2 M476.4 559.2 L481.7 554.7 M476.4 559.2 L475.7 552.3 M500.0 545.8 L494.7 559.5 M494.7 559.5 L500.0 554.9 M494.7 559.5 L493.8 552.5 M518.2 545.8 L513.1 559.9 M513.1 559.9 L518.4 555.1 M513.1 559.9 L512.1 552.8 M536.3 545.8 L531.4 560.1 M531.4 560.1 L536.7 555.1 M531.4 560.1 L530.3 552.9 M554.5 545.8 L549.7 560.2 M549.7 560.2 L555.0 555.2 M549.7 560.2 L548.5 553.0 M572.7 545.8 L568.0 560.4 M568.0 560.4 L573.3 555.3 M568.0 560.4 L566.7 553.2 M590.9 545.8 L586.3 560.6 M586.3 560.6 L591.6 555.4 M586.3 560.6 L584.9 553.3 M609.0 545.8 L604.2 560.8 M604.2 560.8 L609.6 555.5 M604.2 560.8 L602.9 553.3 M627.2 545.8 L622.2 561.0 M622.2 561.0 L627.8 555.7 M622.2 561.0 L620.9 553.4 M645.4 545.8 L640.1 561.3 M640.1 561.3 L645.8 555.9 M640.1 561.3 L638.9 553.5 M663.6 545.8 L658.0 561.5 M658.0 561.5 L663.9 556.1 M658.0 561.5 L656.8 553.6 M681.7 545.8 L676.0 561.8 M676.0 561.8 L682.0 556.3 M676.0 561.8 L674.8 553.7 M699.9 545.8 L694.2 562.0 M694.2 562.0 L700.2 556.4 M694.2 562.0 L692.9 553.9 M718.1 545.8 L712.5 562.2 M712.5 562.2 L718.5 556.5 M712.5 562.2 L711.1 554.0 M736.2 545.8 L730.8 562.4 M730.8 562.4 L736.8 556.6 M730.8 562.4 L729.4 554.1 M754.4 545.8 L749.1 562.3 M749.1 562.3 L755.1 556.5 M749.1 562.3 L747.6 554.1 M772.6 545.8 L767.3 562.2 M767.3 562.2 L773.2 556.4 M767.3 562.2 L765.9 554.0 M790.8 545.8 L785.5 562.2 M785.5 562.2 L791.4 556.4 M785.5 562.2 L784.0 554.0 M245.5 564.0 L232.9 572.5 M232.9 572.5 L240.2 571.7 M232.9 572.5 L236.3 566.1 M263.7 564.0 L251.2 573.6 M251.2 573.6 L258.7 572.3 M251.2 573.6 L254.3 566.7 M281.9 564.0 L269.4 575.2 M269.4 575.2 L277.2 573.3 M269.4 575.2 L272.1 567.6 M300.1 564.0 L287.9 575.4 M287.9 575.4 L295.7 573.3 M287.9 575.4 L290.5 567.8 M318.2 564.0 L306.1 575.4 M306.1 575.4 L313.8 573.3 M306.1 575.4 L308.7 567.8 M336.4 564.0 L325.1 575.3 M325.1 575.3 L332.4 573.1 M325.1 575.3 L327.3 567.9 M354.6 564.0 L343.9 575.2 M343.9 575.2 L350.9 572.8 M343.9 575.2 L345.9 568.0 M372.8 564.0 L363.9 575.3 M363.9 575.3 L370.2 572.5 M363.9 575.3 L365.1 568.5 M390.9 564.0 L383.4 575.6 M383.4 575.6 L389.2 572.4 M383.4 575.6 L384.0 569.0 M409.1 564.0 L403.6 576.1 M403.6 576.1 L408.6 572.2 M403.6 576.1 L403.2 569.7 M427.3 564.0 L421.5 576.6 M421.5 576.6 L426.8 572.5 M421.5 576.6 L421.1 569.9 M445.5 564.0 L439.0 576.5 M439.0 576.5 L444.6 572.6 M439.0 576.5 L438.9 569.7 M463.6 564.0 L458.0 577.1 M458.0 577.1 L463.4 572.8 M458.0 577.1 L457.4 570.3 M481.8 564.0 L476.7 577.5 M476.7 577.5 L481.9 572.9 M476.7 577.5 L475.8 570.6 M500.0 564.0 L495.0 577.7 M495.0 577.7 L500.2 573.0 M495.0 577.7 L494.0 570.8 M518.2 564.0 L513.4 578.1 M513.4 578.1 L518.6 573.2 M513.4 578.1 L512.2 571.0 M536.3 564.0 L531.7 578.2 M531.7 578.2 L536.9 573.2 M531.7 578.2 L530.5 571.1 M554.5 564.0 L550.0 578.4 M550.0 578.4 L555.2 573.3 M550.0 578.4 L548.7 571.3 M572.7 564.0 L568.3 578.6 M568.3 578.6 L573.4 573.4 M568.3 578.6 L566.8 571.4 M590.9 564.0 L586.6 578.8 M586.6 578.8 L591.7 573.5 M586.6 578.8 L585.1 571.6 M609.0 564.0 L604.3 578.9 M604.3 578.9 L609.7 573.7 M604.3 578.9 L602.9 571.5 M627.2 564.0 L622.4 578.7 M622.4 578.7 L627.8 573.5 M622.4 578.7 L621.1 571.4 M645.4 564.0 L640.4 579.0 M640.4 579.0 L645.9 573.7 M640.4 579.0 L639.1 571.5 M663.6 564.0 L658.4 579.0 M658.4 579.0 L663.9 573.8 M658.4 579.0 L657.2 571.5 M681.7 564.0 L676.4 579.0 M676.4 579.0 L682.0 573.8 M676.4 579.0 L675.2 571.4 M699.9 564.0 L694.4 579.2 M694.4 579.2 L700.2 574.0 M694.4 579.2 L693.3 571.5 M718.1 564.0 L712.8 579.2 M712.8 579.2 L718.5 573.9 M712.8 579.2 L711.6 571.5 M736.2 564.0 L731.1 579.3 M731.1 579.3 L736.7 574.0 M731.1 579.3 L729.8 571.7 M754.4 564.0 L749.5 579.3 M749.5 579.3 L755.0 573.9 M749.5 579.3 L748.1 571.7 M772.6 564.0 L767.8 579.2 M767.8 579.2 L773.3 573.8 M767.8 579.2 L766.4 571.7 M790.8 564.0 L785.6 580.4 M785.6 580.4 L791.5 574.6 M785.6 580.4 L784.1 572.3 M209.2 582.1 L200.4 581.7 M200.4 581.7 L204.0 583.9 M200.4 581.7 L204.2 579.9 M227.4 582.1 L215.0 583.7 M215.0 583.7 L220.6 585.8 M215.0 583.7 L219.9 580.2 M245.5 582.1 L233.3 587.1 M233.3 587.1 L239.6 587.7 M233.3 587.1 L237.4 582.2 M263.7 582.1 L251.9 588.8 M251.9 588.8 L258.4 588.7 M251.9 588.8 L255.4 583.3 M281.9 582.1 L271.0 591.0 M271.0 591.0 L277.6 589.7 M271.0 591.0 L273.6 584.8 M300.1 582.1 L289.5 592.1 M289.5 592.1 L296.2 590.3 M289.5 592.1 L291.7 585.5 M318.2 582.1 L307.6 593.6 M307.6 593.6 L314.7 591.1 M307.6 593.6 L309.5 586.3 M336.4 582.1 L326.1 594.4 M326.1 594.4 L333.2 591.5 M326.1 594.4 L327.7 586.9 M354.6 582.1 L345.8 595.1 M345.8 595.1 L352.5 591.6 M345.8 595.1 L346.6 587.6 M372.8 582.1 L365.0 594.6 M365.0 594.6 L371.1 591.1 M365.0 594.6 L365.5 587.6 M390.9 582.1 L383.8 594.2 M383.8 594.2 L389.5 590.7 M383.8 594.2 L384.1 587.5 M409.1 582.1 L405.0 594.6 M405.0 594.6 L409.6 590.3 M405.0 594.6 L403.9 588.4 M427.3 582.1 L422.5 594.9 M422.5 594.9 L427.4 590.6 M422.5 594.9 L421.6 588.4 M445.5 582.1 L439.9 595.2 M439.9 595.2 L445.2 590.9 M439.9 595.2 L439.3 588.4 M463.6 582.1 L458.4 595.5 M458.4 595.5 L463.6 591.0 M458.4 595.5 L457.6 588.7 M481.8 582.1 L477.0 595.9 M477.0 595.9 L482.1 591.2 M477.0 595.9 L475.9 589.0 M500.0 582.1 L495.3 596.1 M495.3 596.1 L500.4 591.2 M495.3 596.1 L494.1 589.1 M518.2 582.1 L513.7 596.3 M513.7 596.3 L518.8 591.3 M513.7 596.3 L512.4 589.3 M536.3 582.1 L532.0 596.4 M532.0 596.4 L537.0 591.3 M532.0 596.4 L530.6 589.4 M554.5 582.1 L550.3 596.5 M550.3 596.5 L555.3 591.4 M550.3 596.5 L548.8 589.5 M572.7 582.1 L568.6 596.7 M568.6 596.7 L573.6 591.5 M568.6 596.7 L567.0 589.6 M590.9 582.1 L586.9 597.0 M586.9 597.0 L591.9 591.6 M586.9 597.0 L585.2 589.8 M609.0 582.1 L604.6 596.6 M604.6 596.6 L609.7 591.5 M604.6 596.6 L603.2 589.5 M627.2 582.1 L622.7 596.4 M622.7 596.4 L627.8 591.4 M622.7 596.4 L621.4 589.3 M645.4 582.1 L640.7 596.4 M640.7 596.4 L645.9 591.4 M640.7 596.4 L639.5 589.3 M663.6 582.1 L658.7 596.4 M658.7 596.4 L664.0 591.5 M658.7 596.4 L657.5 589.3 M681.7 582.1 L676.7 596.4 M676.7 596.4 L682.0 591.5 M676.7 596.4 L675.6 589.3 M699.9 582.1 L694.7 596.5 M694.7 596.5 L700.1 591.6 M694.7 596.5 L693.7 589.2 M718.1 582.1 L713.1 596.4 M713.1 596.4 L718.4 591.5 M713.1 596.4 L712.0 589.2 M736.2 582.1 L731.4 596.3 M731.4 596.3 L736.7 591.4 M731.4 596.3 L730.3 589.2 M754.4 582.1 L749.8 596.2 M749.8 596.2 L754.9 591.3 M749.8 596.2 L748.6 589.2 M772.6 582.1 L768.2 596.2 M768.2 596.2 L773.2 591.2 M768.2 596.2 L766.9 589.2 M790.8 582.1 L786.5 596.2 M786.5 596.2 L791.5 591.2 M786.5 596.2 L785.1 589.3 M136.5 600.3 L126.2 600.3 M126.2 600.3 L130.6 602.6 M126.2 600.3 L130.6 598.0 M154.7 600.3 L144.4 600.3 M144.4 600.3 L148.7 602.6 M144.4 600.3 L148.7 598.0 M172.8 600.3 L162.5 603.1 M162.5 603.1 L167.5 604.2 M162.5 603.1 L166.3 599.6 M191.0 600.3 L181.0 604.0 M181.0 604.0 L186.0 604.7 M181.0 604.0 L184.4 600.2 M209.2 600.3 L199.0 604.8 M199.0 604.8 L204.3 605.2 M199.0 604.8 L202.3 600.6 M227.4 600.3 L217.0 604.3 M217.0 604.3 L222.3 605.0 M217.0 604.3 L220.5 600.3 M245.5 600.3 L235.0 604.3 M235.0 604.3 L240.3 605.0 M235.0 604.3 L238.6 600.2 M263.7 600.3 L253.5 605.7 M253.5 605.7 L259.0 605.7 M253.5 605.7 L256.6 601.2 M281.9 600.3 L272.1 607.5 M272.1 607.5 L277.8 606.6 M272.1 607.5 L274.6 602.2 M300.1 600.3 L290.4 609.2 M290.4 609.2 L296.5 607.6 M290.4 609.2 L292.5 603.3 M318.2 600.3 L308.7 611.7 M308.7 611.7 L315.3 609.0 M308.7 611.7 L310.2 604.7 M336.4 600.3 L326.8 613.2 M326.8 613.2 L333.8 609.9 M326.8 613.2 L328.0 605.6 M354.6 600.3 L346.5 613.4 M346.5 613.4 L352.9 609.7 M346.5 613.4 L347.0 606.0 M372.8 600.3 L365.6 612.9 M365.6 612.9 L371.5 609.2 M365.6 612.9 L365.8 605.9 M390.9 600.3 L384.5 612.6 M384.5 612.6 L390.0 608.9 M384.5 612.6 L384.5 606.0 M409.1 600.3 L404.8 612.8 M404.8 612.8 L409.4 608.5 M404.8 612.8 L403.8 606.6 M427.3 600.3 L423.0 613.4 M423.0 613.4 L427.7 608.8 M423.0 613.4 L421.9 606.9 M445.5 600.3 L440.9 613.6 M440.9 613.6 L445.8 609.0 M440.9 613.6 L439.8 607.0 M463.6 600.3 L458.9 613.8 M458.9 613.8 L463.9 609.2 M458.9 613.8 L457.9 607.0 M481.8 600.3 L477.3 614.1 M477.3 614.1 L482.3 609.3 M477.3 614.1 L476.1 607.3 M500.0 600.3 L495.6 614.4 M495.6 614.4 L500.6 609.4 M495.6 614.4 L494.3 607.4 M518.2 600.3 L514.0 614.5 M514.0 614.5 L518.9 609.5 M514.0 614.5 L512.5 607.6 M536.3 600.3 L532.2 614.7 M532.2 614.7 L537.2 609.5 M532.2 614.7 L530.7 607.7 M554.5 600.3 L550.5 614.8 M550.5 614.8 L555.5 609.6 M550.5 614.8 L548.9 607.8 M572.7 600.3 L568.7 615.0 M568.7 615.0 L573.7 609.7 M568.7 615.0 L567.1 607.9 M590.9 600.3 L586.9 615.2 M586.9 615.2 L591.9 609.8 M586.9 615.2 L585.2 608.0 M609.0 600.3 L604.4 615.0 M604.4 615.0 L609.7 609.8 M604.4 615.0 L603.1 607.8 M627.2 600.3 L622.5 614.8 M622.5 614.8 L627.8 609.7 M622.5 614.8 L621.2 607.6 M645.4 600.3 L640.5 614.8 M640.5 614.8 L645.8 609.8 M640.5 614.8 L639.3 607.6 M663.6 600.3 L658.5 614.8 M658.5 614.8 L663.9 609.8 M658.5 614.8 L657.4 607.5 M681.7 600.3 L676.6 614.8 M676.6 614.8 L682.0 609.8 M676.6 614.8 L675.5 607.5 M699.9 600.3 L694.7 614.6 M694.7 614.6 L700.1 609.7 M694.7 614.6 L693.7 607.4 M718.1 600.3 L713.1 614.3 M713.1 614.3 L718.4 609.5 M713.1 614.3 L712.1 607.3 M736.2 600.3 L731.4 614.2 M731.4 614.2 L736.6 609.4 M731.4 614.2 L730.3 607.2 M754.4 600.3 L749.8 614.1 M749.8 614.1 L754.9 609.3 M749.8 614.1 L748.6 607.2 M772.6 600.3 L768.2 614.0 M768.2 614.0 L773.1 609.2 M768.2 614.0 L767.0 607.2 M790.8 600.3 L786.4 614.4 M786.4 614.4 L791.4 609.4 M786.4 614.4 L785.1 607.4 M27.4 618.5 L17.6 613.9 M17.6 613.9 L20.7 618.1 M17.6 613.9 L22.8 613.7 M45.6 618.5 L35.8 613.9 M35.8 613.9 L38.9 618.1 M35.8 613.9 L41.0 613.7 M63.8 618.5 L54.1 614.0 M54.1 614.0 L57.2 618.1 M54.1 614.0 L59.2 613.7 M82.0 618.5 L72.3 614.0 M72.3 614.0 L75.4 618.1 M72.3 614.0 L77.4 613.7 M100.1 618.5 L90.4 614.0 M90.4 614.0 L93.5 618.1 M90.4 614.0 L95.6 613.7 M118.3 618.5 L108.4 614.4 M108.4 614.4 L111.7 618.4 M108.4 614.4 L113.5 613.9 M136.5 618.5 L126.2 614.7 M126.2 614.7 L129.7 618.7 M126.2 614.7 L131.4 614.0 M154.7 618.5 L143.1 616.5 M143.1 616.5 L147.6 619.9 M143.1 616.5 L148.5 614.7 M172.8 618.5 L161.2 617.2 M161.2 617.2 L165.8 620.4 M161.2 617.2 L166.4 615.1 M191.0 618.5 L179.6 617.9 M179.6 617.9 L184.3 620.7 M179.6 617.9 L184.6 615.6 M209.2 618.5 L198.1 617.7 M198.1 617.7 L202.6 620.6 M198.1 617.7 L203.0 615.6 M227.4 618.5 L216.4 620.4 M216.4 620.4 L221.5 622.1 M216.4 620.4 L220.6 617.1 M245.5 618.5 L235.0 621.7 M235.0 621.7 L240.2 622.7 M235.0 621.7 L238.8 617.9 M263.7 618.5 L253.3 622.0 M253.3 622.0 L258.5 622.8 M253.3 622.0 L256.9 618.1 M281.9 618.5 L271.7 622.9 M271.7 622.9 L277.0 623.3 M271.7 622.9 L275.0 618.7 M300.1 618.5 L290.1 624.4 M290.1 624.4 L295.6 624.1 M290.1 624.4 L293.0 619.6 M318.2 618.5 L309.0 626.2 M309.0 626.2 L314.7 625.0 M309.0 626.2 L311.2 620.9 M336.4 618.5 L327.5 627.2 M327.5 627.2 L333.3 625.5 M327.5 627.2 L329.3 621.5 M354.6 618.5 L346.1 628.2 M346.1 628.2 L351.9 626.0 M346.1 628.2 L347.5 622.2 M372.8 618.5 L365.8 629.3 M365.8 629.3 L371.1 626.3 M365.8 629.3 L366.3 623.1 M390.9 618.5 L384.5 630.1 M384.5 630.1 L389.8 626.6 M384.5 630.1 L384.6 623.7 M409.1 618.5 L404.6 631.0 M404.6 631.0 L409.3 626.7 M404.6 631.0 L403.7 624.7 M427.3 618.5 L422.8 631.4 M422.8 631.4 L427.6 626.9 M422.8 631.4 L421.8 624.9 M445.5 618.5 L441.0 631.8 M441.0 631.8 L445.9 627.2 M441.0 631.8 L439.9 625.2 M463.6 618.5 L459.3 632.1 M459.3 632.1 L464.2 627.3 M459.3 632.1 L458.1 625.4 M481.8 618.5 L477.6 632.3 M477.6 632.3 L482.5 627.4 M477.6 632.3 L476.3 625.5 M500.0 618.5 L495.9 632.6 M495.9 632.6 L500.8 627.5 M495.9 632.6 L494.5 625.7 M518.2 618.5 L514.1 632.8 M514.1 632.8 L519.0 627.6 M514.1 632.8 L512.6 625.8 M536.3 618.5 L532.3 632.9 M532.3 632.9 L537.3 627.7 M532.3 632.9 L530.8 625.9 M554.5 618.5 L550.5 633.1 M550.5 633.1 L555.5 627.8 M550.5 633.1 L548.9 626.0 M572.7 618.5 L568.7 633.2 M568.7 633.2 L573.7 627.9 M568.7 633.2 L567.1 626.1 M590.9 618.5 L586.9 633.3 M586.9 633.3 L591.9 627.9 M586.9 633.3 L585.2 626.2 M609.0 618.5 L604.3 633.2 M604.3 633.2 L609.6 628.0 M604.3 633.2 L603.0 625.9 M627.2 618.5 L622.3 633.2 M622.3 633.2 L627.7 628.1 M622.3 633.2 L621.1 625.9 M645.4 618.5 L640.4 633.2 M640.4 633.2 L645.8 628.1 M640.4 633.2 L639.2 625.8 M663.6 618.5 L658.5 633.1 M658.5 633.1 L663.9 628.1 M658.5 633.1 L657.3 625.8 M681.7 618.5 L676.6 632.9 M676.6 632.9 L682.0 628.0 M676.6 632.9 L675.5 625.6 M699.9 618.5 L694.7 632.7 M694.7 632.7 L700.1 627.8 M694.7 632.7 L693.7 625.5 M718.1 618.5 L713.1 632.4 M713.1 632.4 L718.4 627.6 M713.1 632.4 L712.1 625.4 M736.2 618.5 L731.5 632.1 M731.5 632.1 L736.6 627.4 M731.5 632.1 L730.4 625.3 M754.4 618.5 L749.8 632.0 M749.8 632.0 L754.8 627.3 M749.8 632.0 L748.7 625.2 M772.6 618.5 L768.2 631.8 M768.2 631.8 L773.1 627.2 M768.2 631.8 L767.1 625.2 M790.8 618.5 L786.5 631.8 M786.5 631.8 L791.3 627.1 M786.5 631.8 L785.3 625.2 M9.2 636.7 L0.6 631.5 M0.6 631.5 L3.1 635.6 M0.6 631.5 L5.4 631.7 M27.4 636.7 L18.4 632.1 M18.4 632.1 L21.2 636.1 M18.4 632.1 L23.2 632.0 M45.6 636.7 L36.9 631.0 M36.9 631.0 L39.3 635.4 M36.9 631.0 L41.9 631.4 M63.8 636.7 L55.5 629.9 M55.5 629.9 L57.5 634.6 M55.5 629.9 L60.6 630.9 M82.0 636.7 L73.4 630.0 M73.4 630.0 L75.5 634.7 M73.4 630.0 L78.6 630.9 M100.1 636.7 L91.5 630.2 M91.5 630.2 L93.7 634.9 M91.5 630.2 L96.6 631.0 M118.3 636.7 L109.0 631.1 M109.0 631.1 L111.7 635.6 M109.0 631.1 L114.2 631.4 M136.5 636.7 L126.6 632.2 M126.6 632.2 L129.8 636.3 M126.6 632.2 L131.8 631.9 M154.7 636.7 L145.1 630.0 M145.1 630.0 L147.6 635.0 M145.1 630.0 L150.6 630.7 M172.8 636.7 L163.6 631.3 M163.6 631.3 L166.3 635.7 M163.6 631.3 L168.7 631.5 M191.0 636.7 L181.3 632.2 M181.3 632.2 L184.4 636.3 M181.3 632.2 L186.4 631.9 M209.2 636.7 L198.9 633.7 M198.9 633.7 L202.6 637.3 M198.9 633.7 L203.9 632.7 M227.4 636.7 L217.2 635.2 M217.2 635.2 L221.2 638.1 M217.2 635.2 L221.8 633.6 M245.5 636.7 L236.3 636.7 M236.3 636.7 L240.2 638.7 M236.3 636.7 L240.2 634.6 M263.7 636.7 L255.2 638.8 M255.2 638.8 L259.3 639.8 M255.2 638.8 L258.3 636.0 M281.9 636.7 L273.1 640.1 M273.1 640.1 L277.6 640.6 M273.1 640.1 L276.0 636.7 M300.1 636.7 L291.4 640.4 M291.4 640.4 L295.9 640.7 M291.4 640.4 L294.2 636.8 M318.2 636.7 L310.9 641.5 M310.9 641.5 L315.1 641.1 M310.9 641.5 L312.9 637.8 M336.4 636.7 L330.1 642.4 M330.1 642.4 L334.0 641.4 M330.1 642.4 L331.5 638.5 M354.6 636.7 L348.9 643.3 M348.9 643.3 L352.8 641.8 M348.9 643.3 L349.8 639.2 M372.8 636.7 L366.9 645.6 M366.9 645.6 L371.4 643.1 M366.9 645.6 L367.4 640.5 M390.9 636.7 L386.2 648.6 M386.2 648.6 L390.9 644.6 M386.2 648.6 L385.5 642.5 M409.1 636.7 L405.1 648.4 M405.1 648.4 L409.4 644.3 M405.1 648.4 L404.1 642.5 M427.3 636.7 L423.9 649.0 M423.9 649.0 L428.1 644.5 M423.9 649.0 L422.5 643.0 M445.5 636.7 L442.0 649.8 M442.0 649.8 L446.4 645.0 M442.0 649.8 L440.5 643.5 M463.6 636.7 L460.2 650.3 M460.2 650.3 L464.7 645.3 M460.2 650.3 L458.6 643.7 M481.8 636.7 L477.9 650.4 M477.9 650.4 L482.6 645.4 M477.9 650.4 L476.5 643.7 M500.0 636.7 L496.0 650.6 M496.0 650.6 L500.8 645.6 M496.0 650.6 L494.6 643.8 M518.2 636.7 L514.4 650.9 M514.4 650.9 L519.2 645.7 M514.4 650.9 L512.8 644.0 M536.3 636.7 L532.6 651.0 M532.6 651.0 L537.4 645.8 M532.6 651.0 L530.9 644.1 M554.5 636.7 L550.7 651.4 M550.7 651.4 L555.6 646.0 M550.7 651.4 L549.0 644.3 M572.7 636.7 L568.9 651.6 M568.9 651.6 L573.9 646.1 M568.9 651.6 L567.1 644.4 M590.9 636.7 L586.6 651.6 M586.6 651.6 L591.8 646.3 M586.6 651.6 L585.0 644.3 M609.0 636.7 L604.2 651.5 M604.2 651.5 L609.6 646.3 M604.2 651.5 L602.9 644.1 M627.2 636.7 L622.1 652.0 M622.1 652.0 L627.7 646.7 M622.1 652.0 L620.8 644.4 M645.4 636.7 L640.1 652.1 M640.1 652.1 L645.8 646.7 M640.1 652.1 L638.9 644.4 M663.6 636.7 L658.2 652.1 M658.2 652.1 L663.9 646.7 M658.2 652.1 L657.0 644.3 M681.7 636.7 L676.4 651.6 M676.4 651.6 L682.0 646.5 M676.4 651.6 L675.3 644.1 M699.9 636.7 L694.5 651.4 M694.5 651.4 L700.1 646.4 M694.5 651.4 L693.5 644.0 M718.1 636.7 L712.9 651.1 M712.9 651.1 L718.4 646.2 M712.9 651.1 L711.8 643.8 M736.2 636.7 L731.5 650.4 M731.5 650.4 L736.6 645.6 M731.5 650.4 L730.4 643.5 M754.4 636.7 L749.8 650.1 M749.8 650.1 L754.8 645.5 M749.8 650.1 L748.7 643.4 M772.6 636.7 L768.2 650.0 M768.2 650.0 L773.0 645.3 M768.2 650.0 L767.1 643.3 M790.8 636.7 L786.4 650.0 M786.4 650.0 L791.3 645.3 M786.4 650.0 L785.3 643.4 M9.2 654.9 L0.7 651.4 M0.7 651.4 L3.6 654.8 M0.7 651.4 L5.1 650.9 M27.4 654.9 L19.3 650.5 M19.3 650.5 L21.8 654.2 M19.3 650.5 L23.8 650.5 M45.6 654.9 L37.7 649.3 M37.7 649.3 L39.8 653.5 M37.7 649.3 L42.3 649.9 M63.8 654.9 L56.3 648.3 M56.3 648.3 L58.0 652.8 M56.3 648.3 L61.0 649.4 M82.0 654.9 L75.1 647.4 M75.1 647.4 L76.3 652.1 M75.1 647.4 L79.7 649.0 M100.1 654.9 L94.2 646.7 M94.2 646.7 L94.9 651.5 M94.2 646.7 L98.5 648.8 M118.3 654.9 L110.7 648.2 M110.7 648.2 L112.4 652.7 M110.7 648.2 L115.4 649.3 M136.5 654.9 L127.6 650.0 M127.6 650.0 L130.3 654.0 M127.6 650.0 L132.5 650.0 M154.7 654.9 L145.8 650.0 M145.8 650.0 L148.4 654.1 M145.8 650.0 L150.6 650.1 M172.8 654.9 L163.6 650.7 M163.6 650.7 L166.6 654.5 M163.6 650.7 L168.5 650.4 M191.0 654.9 L181.5 651.4 M181.5 651.4 L184.8 655.0 M181.5 651.4 L186.3 650.7 M209.2 654.9 L202.1 652.9 M202.1 652.9 L204.6 655.3 M202.1 652.9 L205.5 652.1 M227.4 654.9 L222.2 653.8 M222.2 653.8 L224.2 655.4 M222.2 653.8 L224.6 653.1 M245.5 654.9 L240.4 655.9 M240.4 655.9 L242.8 656.6 M240.4 655.9 L242.3 654.3 M263.7 654.9 L259.1 657.6 M259.1 657.6 L261.7 657.5 M259.1 657.6 L260.4 655.4 M281.9 654.9 L275.6 660.0 M275.6 660.0 L279.4 659.2 M275.6 660.0 L277.1 656.4 M300.1 654.9 L293.8 660.0 M293.8 660.0 L297.6 659.2 M293.8 660.0 L295.3 656.4 M318.2 654.9 L312.1 659.8 M312.1 659.8 L315.8 659.1 M312.1 659.8 L313.6 656.3 M336.4 654.9 L331.8 660.6 M331.8 660.6 L335.0 659.2 M331.8 660.6 L332.4 657.1 M354.6 654.9 L350.7 661.6 M350.7 661.6 L353.8 659.6 M350.7 661.6 L350.8 657.9 M372.8 654.9 L369.0 664.2 M369.0 664.2 L372.7 661.1 M369.0 664.2 L368.5 659.4 M390.9 654.9 L388.0 666.9 M388.0 666.9 L392.0 662.5 M388.0 666.9 L386.5 661.1 M409.1 654.9 L406.3 666.1 M406.3 666.1 L410.0 661.9 M406.3 666.1 L405.0 660.7 M427.3 654.9 L424.3 666.8 M424.3 666.8 L428.3 662.4 M424.3 666.8 L422.9 661.1 M445.5 654.9 L442.1 667.6 M442.1 667.6 L446.4 662.9 M442.1 667.6 L440.7 661.4 M463.6 654.9 L460.0 667.9 M460.0 667.9 L464.5 663.2 M460.0 667.9 L458.6 661.6 M481.8 654.9 L477.9 668.3 M477.9 668.3 L482.6 663.5 M477.9 668.3 L476.5 661.7 M500.0 654.9 L496.1 668.6 M496.1 668.6 L500.8 663.7 M496.1 668.6 L494.6 661.9 M518.2 654.9 L514.4 668.9 M514.4 668.9 L519.2 663.8 M514.4 668.9 L512.8 662.1 M536.3 654.9 L532.8 669.3 M532.8 669.3 L537.6 664.0 M532.8 669.3 L531.0 662.4 M554.5 654.9 L551.0 669.7 M551.0 669.7 L555.8 664.2 M551.0 669.7 L549.1 662.6 M572.7 654.9 L568.9 669.9 M568.9 669.9 L573.9 664.4 M568.9 669.9 L567.1 662.7 M590.9 654.9 L586.4 670.0 M586.4 670.0 L591.7 664.6 M586.4 670.0 L584.9 662.5 M609.0 654.9 L604.2 670.4 M604.2 670.4 L609.7 664.9 M604.2 670.4 L602.7 662.7 M627.2 654.9 L622.0 670.9 M622.0 670.9 L627.8 665.2 M622.0 670.9 L620.6 662.9 M645.4 654.9 L640.1 670.9 M640.1 670.9 L645.9 665.3 M640.1 670.9 L638.7 662.9 M663.6 654.9 L658.1 671.0 M658.1 671.0 L664.0 665.4 M658.1 671.0 L656.8 662.9 M681.7 654.9 L676.3 670.6 M676.3 670.6 L682.1 665.2 M676.3 670.6 L675.0 662.7 M699.9 654.9 L694.5 670.2 M694.5 670.2 L700.2 664.9 M694.5 670.2 L693.3 662.5 M718.1 654.9 L712.9 669.4 M712.9 669.4 L718.4 664.4 M712.9 669.4 L711.8 662.1 M736.2 654.9 L731.5 668.6 M731.5 668.6 L736.6 663.9 M731.5 668.6 L730.4 661.7 M754.4 654.9 L749.8 668.4 M749.8 668.4 L754.8 663.7 M749.8 668.4 L748.7 661.6 M772.6 654.9 L768.2 668.1 M768.2 668.1 L773.0 663.5 M768.2 668.1 L767.1 661.5 M790.8 654.9 L786.4 668.2 M786.4 668.2 L791.3 663.5 M786.4 668.2 L785.3 661.6 M9.2 673.0 L1.9 673.0 M1.9 673.0 L5.0 674.7 M1.9 673.0 L5.0 671.4 M27.4 673.0 L20.1 671.9 M20.1 671.9 L23.0 674.0 M20.1 671.9 L23.5 670.7 M45.6 673.0 L38.6 670.7 M38.6 670.7 L41.0 673.3 M38.6 670.7 L42.1 670.1 M63.8 673.0 L57.2 669.7 M57.2 669.7 L59.2 672.6 M57.2 669.7 L60.7 669.6 M82.0 673.0 L76.0 668.7 M76.0 668.7 L77.5 671.9 M76.0 668.7 L79.5 669.2 M100.1 673.0 L94.9 667.8 M94.9 667.8 L95.9 671.2 M94.9 667.8 L98.3 668.8 M118.3 673.0 L112.6 668.3 M112.6 668.3 L114.0 671.6 M112.6 668.3 L116.1 669.0 M136.5 673.0 L130.9 669.3 M130.9 669.3 L132.4 672.1 M130.9 669.3 L134.1 669.6 M154.7 673.0 L148.4 670.5 M148.4 670.5 L150.5 673.0 M148.4 670.5 L151.6 670.2 M172.8 673.0 L166.4 671.3 M166.4 671.3 L168.7 673.5 M166.4 671.3 L169.5 670.6 M191.0 673.0 L184.4 672.1 M184.4 672.1 L187.0 674.0 M184.4 672.1 L187.4 671.0 M209.2 673.0 L205.1 673.7 M205.1 673.7 L207.0 674.4 M205.1 673.7 L206.7 672.5 M227.4 673.0 L225.0 675.5 M225.0 675.5 L226.5 675.0 M225.0 675.5 L225.4 673.9 M245.5 673.0 L242.5 676.6 M242.5 676.6 L244.6 675.8 M242.5 676.6 L243.0 674.4 M263.7 673.0 L261.2 677.6 M261.2 677.6 L263.3 676.2 M261.2 677.6 L261.2 675.1 M281.9 673.0 L277.1 678.7 M277.1 678.7 L280.4 677.4 M277.1 678.7 L277.9 675.2 M300.1 673.0 L294.6 678.9 M294.6 678.9 L298.2 677.7 M294.6 678.9 L295.6 675.2 M318.2 673.0 L312.8 679.9 M312.8 679.9 L316.7 678.2 M312.8 679.9 L313.6 675.8 M336.4 673.0 L332.6 679.9 M332.6 679.9 L335.8 677.8 M332.6 679.9 L332.7 676.1 M354.6 673.0 L352.4 681.5 M352.4 681.5 L355.2 678.4 M352.4 681.5 L351.4 677.4 M372.8 673.0 L370.9 683.5 M370.9 683.5 L374.1 679.5 M370.9 683.5 L369.3 678.7 M390.9 673.0 L388.8 685.4 M388.8 685.4 L392.5 680.6 M388.8 685.4 L386.9 679.7 M409.1 673.0 L406.9 684.1 M406.9 684.1 L410.4 679.9 M406.9 684.1 L405.3 678.9 M427.3 673.0 L425.0 684.6 M425.0 684.6 L428.6 680.2 M425.0 684.6 L423.4 679.2 M445.5 673.0 L442.8 685.4 M442.8 685.4 L446.7 680.7 M442.8 685.4 L441.1 679.5 M463.6 673.0 L460.5 686.0 M460.5 686.0 L464.8 681.2 M460.5 686.0 L458.9 679.8 M481.8 673.0 L478.0 686.3 M478.0 686.3 L482.6 681.5 M478.0 686.3 L476.6 679.8 M500.0 673.0 L495.9 686.7 M495.9 686.7 L500.7 681.8 M495.9 686.7 L494.5 680.0 M518.2 673.0 L514.2 687.0 M514.2 687.0 L519.0 682.0 M514.2 687.0 L512.7 680.2 M536.3 673.0 L533.1 687.6 M533.1 687.6 L537.7 682.1 M533.1 687.6 L531.2 680.7 M554.5 673.0 L551.3 688.1 M551.3 688.1 L556.1 682.4 M551.3 688.1 L549.3 681.0 M572.7 673.0 L568.6 688.2 M568.6 688.2 L573.8 682.7 M568.6 688.2 L566.9 680.8 M590.9 673.0 L586.5 688.6 M586.5 688.6 L591.8 683.0 M586.5 688.6 L584.8 681.0 M609.0 673.0 L604.3 688.8 M604.3 688.8 L609.9 683.1 M604.3 688.8 L602.8 681.0 M627.2 673.0 L622.2 689.2 M622.2 689.2 L628.0 683.5 M622.2 689.2 L620.7 681.2 M645.4 673.0 L640.2 689.3 M640.2 689.3 L646.0 683.6 M640.2 689.3 L638.7 681.2 M663.6 673.0 L658.2 689.3 M658.2 689.3 L664.2 683.6 M658.2 689.3 L656.8 681.2 M681.7 673.0 L676.4 689.1 M676.4 689.1 L682.3 683.5 M676.4 689.1 L675.0 681.1 M699.9 673.0 L694.5 688.7 M694.5 688.7 L700.3 683.3 M694.5 688.7 L693.3 680.8 M718.1 673.0 L712.9 688.0 M712.9 688.0 L718.4 682.8 M712.9 688.0 L711.7 680.5 M736.2 673.0 L731.3 687.2 M731.3 687.2 L736.6 682.3 M731.3 687.2 L730.2 680.1 M754.4 673.0 L749.7 686.9 M749.7 686.9 L754.8 682.1 M749.7 686.9 L748.6 680.0 M772.6 673.0 L768.1 686.5 M768.1 686.5 L773.1 681.8 M768.1 686.5 L767.0 679.8 M790.8 673.0 L786.4 686.3 M786.4 686.3 L791.3 681.7 M786.4 686.3 L785.3 679.7 M9.2 691.2 L5.6 694.9 M5.6 694.9 L8.0 694.2 M5.6 694.9 L6.3 692.5 M27.4 691.2 L23.0 694.0 M23.0 694.0 L25.5 693.8 M23.0 694.0 L24.2 691.8 M45.6 691.2 L40.7 692.9 M40.7 692.9 L43.1 693.3 M40.7 692.9 L42.4 691.1 M63.8 691.2 L58.6 691.7 M58.6 691.7 L60.9 692.7 M58.6 691.7 L60.7 690.3 M82.0 691.2 L76.8 690.6 M76.8 690.6 L78.8 692.0 M76.8 690.6 L79.1 689.7 M100.1 691.2 L96.9 690.0 M96.9 690.0 L98.0 691.3 M96.9 690.0 L98.5 689.8 M118.3 691.2 L115.0 690.3 M115.0 690.3 L116.2 691.4 M115.0 690.3 L116.6 689.9 M136.5 691.2 L133.1 690.6 M133.1 690.6 L134.4 691.6 M133.1 690.6 L134.7 690.1 M154.7 691.2 L151.2 691.8 M151.2 691.8 L152.8 692.3 M151.2 691.8 L152.6 690.8 M172.8 691.2 L169.5 693.0 M169.5 693.0 L171.3 693.0 M169.5 693.0 L170.5 691.5 M191.0 691.2 L187.7 693.1 M187.7 693.1 L189.5 693.0 M187.7 693.1 L188.7 691.6 M209.2 691.2 L208.6 694.6 M208.6 694.6 L209.6 693.3 M208.6 694.6 L208.1 693.0 M227.4 691.2 L224.4 694.1 M224.4 694.1 L226.3 693.6 M224.4 694.1 L225.0 692.2 M245.5 691.2 L244.3 695.9 M244.3 695.9 L245.9 694.2 M244.3 695.9 L243.8 693.7 M263.7 691.2 L261.5 696.1 M261.5 696.1 L263.5 694.5 M261.5 696.1 L261.3 693.5 M281.9 691.2 L278.2 697.6 M278.2 697.6 L281.2 695.7 M278.2 697.6 L278.3 694.1 M300.1 691.2 L295.5 698.7 M295.5 698.7 L299.1 696.5 M295.5 698.7 L295.8 694.5 M318.2 691.2 L313.8 700.3 M313.8 700.3 L317.7 697.4 M313.8 700.3 L313.6 695.4 M336.4 691.2 L333.6 700.9 M333.6 700.9 L337.0 697.4 M333.6 700.9 L332.6 696.2 M354.6 691.2 L352.9 701.7 M352.9 701.7 L356.0 697.7 M352.9 701.7 L351.2 696.9 M372.8 691.2 L370.9 702.7 M370.9 702.7 L374.3 698.3 M370.9 702.7 L369.1 697.4 M390.9 691.2 L389.8 703.7 M389.8 703.7 L393.1 698.7 M389.8 703.7 L387.5 698.2 M409.1 691.2 L407.7 702.2 M407.7 702.2 L410.8 697.9 M407.7 702.2 L405.8 697.3 M427.3 691.2 L425.7 702.7 M425.7 702.7 L429.0 698.2 M425.7 702.7 L423.8 697.5 M445.5 691.2 L443.6 703.2 M443.6 703.2 L447.1 698.5 M443.6 703.2 L441.7 697.7 M463.6 691.2 L461.4 703.9 M461.4 703.9 L465.2 699.0 M461.4 703.9 L459.5 698.0 M481.8 691.2 L479.4 704.6 M479.4 704.6 L483.5 699.4 M479.4 704.6 L477.4 698.4 M500.0 691.2 L496.9 704.9 M496.9 704.9 L501.3 699.8 M496.9 704.9 L495.1 698.4 M518.2 691.2 L515.1 705.4 M515.1 705.4 L519.6 700.1 M515.1 705.4 L513.2 698.7 M536.3 691.2 L533.2 706.0 M533.2 706.0 L537.8 700.4 M533.2 706.0 L531.2 699.0 M554.5 691.2 L551.4 706.5 M551.4 706.5 L556.2 700.7 M551.4 706.5 L549.3 699.3 M572.7 691.2 L568.5 706.8 M568.5 706.8 L573.8 701.1 M568.5 706.8 L566.8 699.2 M590.9 691.2 L586.6 707.3 M586.6 707.3 L592.0 701.5 M586.6 707.3 L584.8 699.5 M609.0 691.2 L604.8 707.5 M604.8 707.5 L610.3 701.6 M604.8 707.5 L602.9 699.7 M627.2 691.2 L622.2 707.5 M622.2 707.5 L628.0 701.7 M622.2 707.5 L620.6 699.5 M645.4 691.2 L640.2 707.5 M640.2 707.5 L646.1 701.8 M640.2 707.5 L638.7 699.5 M663.6 691.2 L658.3 707.6 M658.3 707.6 L664.2 701.8 M658.3 707.6 L656.8 699.5 M681.7 691.2 L676.5 707.4 M676.5 707.4 L682.4 701.7 M676.5 707.4 L675.1 699.3 M699.9 691.2 L694.6 707.2 M694.6 707.2 L700.5 701.6 M694.6 707.2 L693.3 699.2 M718.1 691.2 L712.9 706.4 M712.9 706.4 L718.5 701.1 M712.9 706.4 L711.7 698.8 M736.2 691.2 L731.2 705.7 M731.2 705.7 L736.6 700.7 M731.2 705.7 L730.1 698.4 M754.4 691.2 L749.6 705.3 M749.6 705.3 L754.8 700.4 M749.6 705.3 L748.5 698.2 M772.6 691.2 L768.0 704.9 M768.0 704.9 L773.1 700.1 M768.0 704.9 L766.9 698.1 M790.8 691.2 L786.3 704.9 M786.3 704.9 L791.3 700.1 M786.3 704.9 L785.1 698.1 M9.2 709.4 L6.1 719.0 M6.1 719.0 L9.6 715.6 M6.1 719.0 L5.3 714.2 M27.4 709.4 L23.0 715.3 M23.0 715.3 L26.2 713.8 M23.0 715.3 L23.6 711.8 M45.6 709.4 L40.0 714.2 M40.0 714.2 L43.4 713.4 M40.0 714.2 L41.3 710.9 M63.8 709.4 L57.2 712.8 M57.2 712.8 L60.8 712.8 M57.2 712.8 L59.2 709.9 M82.0 709.4 L75.3 712.7 M75.3 712.7 L78.9 712.8 M75.3 712.7 L77.4 709.8 M100.1 709.4 L98.2 713.1 M98.2 713.1 L99.9 711.9 M98.2 713.1 L98.2 711.1 M118.3 709.4 L115.9 710.8 M115.9 710.8 L117.3 710.7 M115.9 710.8 L116.6 709.7 M136.5 709.4 L134.1 710.7 M134.1 710.7 L135.4 710.7 M134.1 710.7 L134.8 709.6 M154.7 709.4 L152.2 710.5 M152.2 710.5 L153.5 710.6 M152.2 710.5 L153.0 709.5 M172.8 709.4 L170.8 712.1 M170.8 712.1 L172.3 711.4 M170.8 712.1 L171.0 710.5 M191.0 709.4 L190.4 712.8 M190.4 712.8 L191.4 711.5 M190.4 712.8 L189.9 711.2 M209.2 709.4 L209.3 713.2 M209.3 713.2 L210.1 711.5 M209.3 713.2 L208.4 711.6 M227.4 709.4 L227.4 713.7 M227.4 713.7 L228.3 711.9 M227.4 713.7 L226.4 711.9 M245.5 709.4 L245.5 714.6 M245.5 714.6 L246.7 712.4 M245.5 714.6 L244.3 712.4 M263.7 709.4 L263.2 715.5 M263.2 715.5 L264.8 713.0 M263.2 715.5 L262.0 712.8 M281.9 709.4 L279.9 717.2 M279.9 717.2 L282.5 714.3 M279.9 717.2 L279.0 713.4 M300.1 709.4 L297.3 718.4 M297.3 718.4 L300.5 715.2 M297.3 718.4 L296.4 713.9 M318.2 709.4 L316.6 719.9 M316.6 719.9 L319.6 715.8 M316.6 719.9 L314.9 715.1 M336.4 709.4 L335.5 720.0 M335.5 720.0 L338.3 715.7 M335.5 720.0 L333.5 715.3 M354.6 709.4 L354.3 720.5 M354.3 720.5 L356.9 715.8 M354.3 720.5 L351.9 715.7 M372.8 709.4 L372.5 721.4 M372.5 721.4 L375.3 716.3 M372.5 721.4 L369.9 716.2 M390.9 709.4 L390.7 722.2 M390.7 722.2 L393.7 716.8 M390.7 722.2 L387.9 716.7 M409.1 709.4 L408.3 721.5 M408.3 721.5 L411.3 716.5 M408.3 721.5 L405.9 716.2 M427.3 709.4 L426.4 722.0 M426.4 722.0 L429.6 716.8 M426.4 722.0 L423.9 716.4 M445.5 709.4 L444.3 722.0 M444.3 722.0 L447.6 716.9 M444.3 722.0 L441.9 716.4 M463.6 709.4 L462.1 722.6 M462.1 722.6 L465.7 717.4 M462.1 722.6 L459.7 716.7 M481.8 709.4 L480.2 722.9 M480.2 722.9 L484.0 717.5 M480.2 722.9 L477.8 716.8 M500.0 709.4 L497.6 723.3 M497.6 723.3 L501.7 718.0 M497.6 723.3 L495.5 716.9 M518.2 709.4 L514.9 723.8 M514.9 723.8 L519.5 718.4 M514.9 723.8 L513.0 716.9 M536.3 709.4 L533.1 724.5 M533.1 724.5 L537.9 718.8 M533.1 724.5 L531.1 717.3 M554.5 709.4 L551.3 725.0 M551.3 725.0 L556.2 719.1 M551.3 725.0 L549.1 717.7 M572.7 709.4 L569.2 725.3 M569.2 725.3 L574.3 719.4 M569.2 725.3 L567.1 717.8 M590.9 709.4 L587.0 725.8 M587.0 725.8 L592.3 719.7 M587.0 725.8 L584.9 718.0 M609.0 709.4 L604.9 725.9 M604.9 725.9 L610.4 719.9 M604.9 725.9 L602.9 718.0 M627.2 709.4 L622.2 725.7 M622.2 725.7 L628.0 719.9 M622.2 725.7 L620.6 717.7 M645.4 709.4 L640.2 725.9 M640.2 725.9 L646.1 720.0 M640.2 725.9 L638.7 717.7 M663.6 709.4 L658.3 725.9 M658.3 725.9 L664.3 720.1 M658.3 725.9 L656.8 717.7 M681.7 709.4 L676.5 725.8 M676.5 725.8 L682.4 720.0 M676.5 725.8 L675.0 717.6 M699.9 709.4 L694.7 725.6 M694.7 725.6 L700.6 719.9 M694.7 725.6 L693.3 717.5 M718.1 709.4 L713.0 724.8 M713.0 724.8 L718.6 719.4 M713.0 724.8 L711.7 717.1 M736.2 709.4 L731.0 724.9 M731.0 724.9 L736.8 719.5 M731.0 724.9 L729.7 717.2 M754.4 709.4 L749.1 725.2 M749.1 725.2 L754.9 719.7 M749.1 725.2 L747.8 717.3 M772.6 709.4 L767.5 724.8 M767.5 724.8 L773.1 719.4 M767.5 724.8 L766.2 717.1 M790.8 709.4 L786.3 723.1 M786.3 723.1 L791.3 718.3 M786.3 723.1 L785.1 716.3 M9.2 727.5 L7.7 731.4 M7.7 731.4 L9.2 730.1 M7.7 731.4 L7.5 729.4 M27.4 727.5 L25.2 735.8 M25.2 735.8 L28.0 732.8 M25.2 735.8 L24.3 731.8 M45.6 727.5 L43.3 735.7 M43.3 735.7 L46.1 732.8 M43.3 735.7 L42.4 731.7 M63.8 727.5 L61.3 735.7 M61.3 735.7 L64.2 732.8 M61.3 735.7 L60.5 731.7 M82.0 727.5 L79.3 735.6 M79.3 735.6 L82.3 732.8 M79.3 735.6 L78.6 731.6 M100.1 727.5 L98.5 732.7 M98.5 732.7 L100.3 730.9 M98.5 732.7 L98.0 730.1 M118.3 727.5 L117.1 730.6 M117.1 730.6 L118.3 729.6 M117.1 730.6 L116.9 729.0 M136.5 727.5 L135.1 730.5 M135.1 730.5 L136.4 729.6 M135.1 730.5 L135.0 729.0 M154.7 727.5 L153.2 730.5 M153.2 730.5 L154.5 729.6 M153.2 730.5 L153.1 728.9 M172.8 727.5 L170.9 730.8 M170.9 730.8 L172.5 729.9 M170.9 730.8 L171.0 729.0 M191.0 727.5 L191.0 731.4 M191.0 731.4 L191.9 729.7 M191.0 731.4 L190.1 729.7 M209.2 727.5 L210.4 732.1 M210.4 732.1 L210.9 729.9 M210.4 732.1 L208.9 730.4 M227.4 727.5 L229.6 731.8 M229.6 731.8 L229.6 729.5 M229.6 731.8 L227.7 730.5 M245.5 727.5 L247.7 732.5 M247.7 732.5 L247.9 729.9 M247.7 732.5 L245.7 730.9 M263.7 727.5 L265.3 734.1 M265.3 734.1 L266.1 730.9 M265.3 734.1 L263.2 731.7 M281.9 727.5 L282.2 736.3 M282.2 736.3 L284.0 732.5 M282.2 736.3 L280.1 732.7 M300.1 727.5 L298.7 737.6 M298.7 737.6 L301.5 733.6 M298.7 737.6 L297.0 733.0 M318.2 727.5 L318.0 738.4 M318.0 738.4 L320.5 733.8 M318.0 738.4 L315.6 733.7 M336.4 727.5 L336.3 738.7 M336.3 738.7 L338.9 734.0 M336.3 738.7 L333.9 733.9 M354.6 727.5 L354.4 739.1 M354.4 739.1 L357.1 734.2 M354.4 739.1 L351.9 734.2 M372.8 727.5 L372.6 739.7 M372.6 739.7 L375.4 734.6 M372.6 739.7 L369.9 734.5 M390.9 727.5 L390.9 740.7 M390.9 740.7 L393.9 735.1 M390.9 740.7 L388.0 735.1 M409.1 727.5 L408.7 740.7 M408.7 740.7 L411.8 735.2 M408.7 740.7 L405.9 735.0 M427.3 727.5 L426.6 740.7 M426.6 740.7 L429.8 735.3 M426.6 740.7 L423.9 734.9 M445.5 727.5 L444.4 740.7 M444.4 740.7 L447.8 735.3 M444.4 740.7 L441.9 734.9 M463.6 727.5 L462.3 740.9 M462.3 740.9 L465.9 735.6 M462.3 740.9 L459.8 734.9 M481.8 727.5 L480.4 741.2 M480.4 741.2 L484.1 735.7 M480.4 741.2 L477.9 735.1 M500.0 727.5 L498.5 741.8 M498.5 741.8 L502.3 736.1 M498.5 741.8 L495.9 735.4 M518.2 727.5 L515.9 742.3 M515.9 742.3 L520.2 736.6 M515.9 742.3 L513.5 735.6 M536.3 727.5 L533.9 743.0 M533.9 743.0 L538.4 737.0 M533.9 743.0 L531.5 735.9 M554.5 727.5 L551.5 743.6 M551.5 743.6 L556.4 737.4 M551.5 743.6 L549.2 736.1 M572.7 727.5 L568.6 743.7 M568.6 743.7 L574.0 737.8 M568.6 743.7 L566.7 736.0 M590.9 727.5 L586.6 744.1 M586.6 744.1 L592.1 738.0 M586.6 744.1 L584.7 736.1 M609.0 727.5 L604.7 744.1 M604.7 744.1 L610.3 738.0 M604.7 744.1 L602.8 736.1 M627.2 727.5 L622.2 743.9 M622.2 743.9 L628.0 738.1 M622.2 743.9 L620.6 735.8 M645.4 727.5 L640.3 744.1 M640.3 744.1 L646.2 738.2 M640.3 744.1 L638.7 735.9 M663.6 727.5 L658.4 744.2 M658.4 744.2 L664.3 738.3 M658.4 744.2 L656.8 736.0 M681.7 727.5 L676.5 744.1 M676.5 744.1 L682.5 738.3 M676.5 744.1 L675.0 735.9 M699.9 727.5 L694.7 744.0 M694.7 744.0 L700.6 738.2 M694.7 744.0 L693.2 735.8 M718.1 727.5 L712.8 744.1 M712.8 744.1 L718.7 738.3 M712.8 744.1 L711.3 735.9 M736.2 727.5 L730.9 744.2 M730.9 744.2 L736.9 738.3 M730.9 744.2 L729.4 735.9 M754.4 727.5 L748.8 744.4 M748.8 744.4 L755.0 738.5 M748.8 744.4 L747.4 736.0 M772.6 727.5 L766.9 744.6 M766.9 744.6 L773.2 738.7 M766.9 744.6 L765.5 736.1 M790.8 727.5 L785.2 744.7 M785.2 744.7 L791.4 738.7 M785.2 744.7 L783.7 736.2 M9.2 745.7 L7.7 754.3 M7.7 754.3 L10.3 751.0 M7.7 754.3 L6.4 750.3 M27.4 745.7 L31.3 738.9 M31.3 738.9 L28.2 740.9 M31.3 738.9 L31.2 742.7 M45.6 745.7 L40.5 739.2 M40.5 739.2 L41.2 743.1 M40.5 739.2 L44.1 740.8 M63.8 745.7 L55.6 748.2 M55.6 748.2 L59.6 749.0 M55.6 748.2 L58.5 745.3 M82.0 745.7 L81.2 754.4 M81.2 754.4 L83.5 750.9 M81.2 754.4 L79.5 750.6 M100.1 745.7 L99.5 751.9 M99.5 751.9 L101.1 749.4 M99.5 751.9 L98.4 749.1 M118.3 745.7 L118.0 750.6 M118.0 750.6 L119.2 748.6 M118.0 750.6 L117.0 748.5 M136.5 745.7 L136.4 750.1 M136.4 750.1 L137.4 748.3 M136.4 750.1 L135.4 748.2 M154.7 745.7 L154.7 750.1 M154.7 750.1 L155.7 748.2 M154.7 750.1 L153.7 748.2 M172.8 745.7 L173.1 750.4 M173.1 750.4 L174.0 748.4 M173.1 750.4 L171.9 748.5 M191.0 745.7 L191.5 751.6 M191.5 751.6 L192.6 749.0 M191.5 751.6 L190.0 749.2 M209.2 745.7 L211.9 753.3 M211.9 753.3 L212.5 749.5 M211.9 753.3 L209.1 750.7 M227.4 745.7 L231.3 753.5 M231.3 753.5 L231.4 749.3 M231.3 753.5 L227.9 751.1 M245.5 745.7 L250.0 754.8 M250.0 754.8 L250.2 749.9 M250.0 754.8 L246.1 751.9 M263.7 745.7 L268.6 755.7 M268.6 755.7 L268.8 750.4 M268.6 755.7 L264.3 752.6 M281.9 745.7 L285.4 756.7 M285.4 756.7 L286.4 751.2 M285.4 756.7 L281.5 752.9 M300.1 745.7 L300.5 757.4 M300.5 757.4 L302.9 752.4 M300.5 757.4 L297.7 752.6 M318.2 745.7 L318.4 757.4 M318.4 757.4 L321.0 752.4 M318.4 757.4 L315.7 752.5 M336.4 745.7 L336.5 757.7 M336.5 757.7 L339.2 752.6 M336.5 757.7 L333.8 752.6 M354.6 745.7 L354.6 758.1 M354.6 758.1 L357.4 752.9 M354.6 758.1 L351.8 752.9 M372.8 745.7 L372.7 759.3 M372.7 759.3 L375.8 753.6 M372.7 759.3 L369.6 753.5 M390.9 745.7 L390.9 759.9 M390.9 759.9 L394.1 753.9 M390.9 759.9 L387.7 753.9 M409.1 745.7 L408.9 759.6 M408.9 759.6 L412.1 753.8 M408.9 759.6 L405.9 753.7 M427.3 745.7 L426.7 759.6 M426.7 759.6 L430.1 753.8 M426.7 759.6 L423.8 753.6 M445.5 745.7 L444.6 759.9 M444.6 759.9 L448.1 754.1 M444.6 759.9 L441.8 753.7 M463.6 745.7 L462.4 759.8 M462.4 759.8 L466.1 754.1 M462.4 759.8 L459.8 753.5 M481.8 745.7 L480.5 760.0 M480.5 760.0 L484.3 754.3 M480.5 760.0 L477.9 753.7 M500.0 745.7 L499.2 760.7 M499.2 760.7 L502.9 754.5 M499.2 760.7 L496.2 754.2 M518.2 745.7 L516.7 760.8 M516.7 760.8 L520.7 754.7 M516.7 760.8 L513.9 754.1 M536.3 745.7 L533.9 761.2 M533.9 761.2 L538.4 755.2 M533.9 761.2 L531.4 754.1 M554.5 745.7 L551.4 761.8 M551.4 761.8 L556.3 755.7 M551.4 761.8 L549.1 754.3 M572.7 745.7 L568.4 761.9 M568.4 761.9 L573.9 756.0 M568.4 761.9 L566.6 754.1 M590.9 745.7 L585.8 762.1 M585.8 762.1 L591.6 756.3 M585.8 762.1 L584.2 754.0 M609.0 745.7 L603.3 761.8 M603.3 761.8 L609.3 756.3 M603.3 761.8 L602.1 753.7 M627.2 745.7 L621.9 762.0 M621.9 762.0 L627.8 756.3 M621.9 762.0 L620.5 753.9 M645.4 745.7 L640.1 762.2 M640.1 762.2 L646.0 756.4 M640.1 762.2 L638.6 754.0 M663.6 745.7 L658.3 762.2 M658.3 762.2 L664.2 756.4 M658.3 762.2 L656.8 754.0 M681.7 745.7 L676.5 762.1 M676.5 762.1 L682.4 756.3 M676.5 762.1 L675.0 754.0 M699.9 745.7 L694.7 762.3 M694.7 762.3 L700.6 756.4 M694.7 762.3 L693.2 754.1 M718.1 745.7 L712.7 762.6 M712.7 762.6 L718.8 756.6 M712.7 762.6 L711.2 754.2 M736.2 745.7 L730.8 762.7 M730.8 762.7 L736.9 756.7 M730.8 762.7 L729.3 754.3 M754.4 745.7 L748.9 762.9 M748.9 762.9 L755.1 756.9 M748.9 762.9 L747.3 754.4 M772.6 745.7 L766.8 763.3 M766.8 763.3 L773.2 757.1 M766.8 763.3 L765.3 754.5 M790.8 745.7 L785.2 762.8 M785.2 762.8 L791.4 756.8 M785.2 762.8 L783.7 754.3 M9.2 763.9 L7.5 773.8 M7.5 773.8 L10.5 770.0 M7.5 773.8 L6.0 769.2 M27.4 763.9 L32.1 755.7 M32.1 755.7 L28.3 758.1 M32.1 755.7 L32.0 760.3 M45.6 763.9 L39.7 756.9 M39.7 756.9 L40.6 761.2 M39.7 756.9 L43.8 758.5 M63.8 763.9 L55.3 767.0 M55.3 767.0 L59.6 767.6 M55.3 767.0 L58.2 763.8 M82.0 763.9 L82.0 772.6 M82.0 772.6 L83.9 768.9 M82.0 772.6 L80.0 768.9 M100.1 763.9 L100.8 771.7 M100.8 771.7 L102.3 768.2 M100.8 771.7 L98.8 768.6 M118.3 763.9 L119.3 771.7 M119.3 771.7 L120.6 768.2 M119.3 771.7 L117.1 768.6 M136.5 763.9 L137.7 771.6 M137.7 771.6 L138.9 768.1 M137.7 771.6 L135.4 768.6 M154.7 763.9 L156.1 771.6 M156.1 771.6 L157.2 768.0 M156.1 771.6 L153.8 768.7 M172.8 763.9 L174.6 771.5 M174.6 771.5 L175.6 767.9 M174.6 771.5 L172.1 768.7 M191.0 763.9 L193.0 771.5 M193.0 771.5 L193.9 767.8 M193.0 771.5 L190.5 768.7 M209.2 763.9 L212.8 773.9 M212.8 773.9 L213.5 768.9 M212.8 773.9 L209.0 770.5 M227.4 763.9 L231.3 774.0 M231.3 774.0 L231.9 768.8 M231.3 774.0 L227.4 770.6 M245.5 763.9 L250.2 774.6 M250.2 774.6 L250.6 769.0 M250.2 774.6 L245.8 771.1 M263.7 763.9 L269.4 776.2 M269.4 776.2 L269.8 769.7 M269.4 776.2 L264.2 772.3 M281.9 763.9 L285.1 777.2 M285.1 777.2 L286.7 770.9 M285.1 777.2 L280.7 772.3 M300.1 763.9 L300.5 777.5 M300.5 777.5 L303.4 771.6 M300.5 777.5 L297.3 771.8 M318.2 763.9 L318.6 776.3 M318.6 776.3 L321.2 771.0 M318.6 776.3 L315.6 771.1 M336.4 763.9 L336.7 776.3 M336.7 776.3 L339.3 771.0 M336.7 776.3 L333.8 771.1 M354.6 763.9 L354.8 777.0 M354.8 777.0 L357.6 771.4 M354.8 777.0 L351.7 771.5 M372.8 763.9 L372.8 777.9 M372.8 777.9 L376.0 772.0 M372.8 777.9 L369.6 772.0 M390.9 763.9 L390.9 778.5 M390.9 778.5 L394.2 772.3 M390.9 778.5 L387.6 772.3 M409.1 763.9 L409.1 778.5 M409.1 778.5 L412.4 772.3 M409.1 778.5 L405.8 772.3 M427.3 763.9 L426.9 778.7 M426.9 778.7 L430.4 772.5 M426.9 778.7 L423.7 772.4 M445.5 763.9 L444.7 779.0 M444.7 779.0 L448.4 772.7 M444.7 779.0 L441.6 772.4 M463.6 763.9 L462.6 778.9 M462.6 778.9 L466.4 772.8 M462.6 778.9 L459.6 772.3 M481.8 763.9 L481.0 778.8 M481.0 778.8 L484.7 772.7 M481.0 778.8 L478.0 772.3 M500.0 763.9 L499.4 779.0 M499.4 779.0 L503.1 772.7 M499.4 779.0 L496.3 772.5 M518.2 763.9 L516.8 779.2 M516.8 779.2 L520.8 773.0 M516.8 779.2 L513.9 772.4 M536.3 763.9 L534.3 779.6 M534.3 779.6 L538.7 773.4 M534.3 779.6 L531.6 772.5 M554.5 763.9 L551.6 780.1 M551.6 780.1 L556.5 773.9 M551.6 780.1 L549.2 772.6 M572.7 763.9 L569.0 780.3 M569.0 780.3 L574.3 774.2 M569.0 780.3 L566.9 772.5 M590.9 763.9 L586.4 780.5 M586.4 780.5 L592.0 774.5 M586.4 780.5 L584.5 772.5 M609.0 763.9 L604.2 780.3 M604.2 780.3 L609.9 774.5 M604.2 780.3 L602.5 772.3 M627.2 763.9 L621.9 780.1 M621.9 780.1 L627.8 774.4 M621.9 780.1 L620.5 772.1 M645.4 763.9 L640.1 780.2 M640.1 780.2 L646.0 774.5 M640.1 780.2 L638.6 772.1 M663.6 763.9 L658.2 780.3 M658.2 780.3 L664.2 774.5 M658.2 780.3 L656.8 772.1 M681.7 763.9 L676.4 780.4 M676.4 780.4 L682.4 774.6 M676.4 780.4 L674.9 772.2 M699.9 763.9 L694.5 780.5 M694.5 780.5 L700.5 774.7 M694.5 780.5 L693.0 772.3 M718.1 763.9 L712.6 780.8 M712.6 780.8 L718.7 774.9 M712.6 780.8 L711.1 772.4 M736.2 763.9 L730.6 781.2 M730.6 781.2 L736.9 775.1 M730.6 781.2 L729.1 772.6 M754.4 763.9 L748.7 781.6 M748.7 781.6 L755.1 775.4 M748.7 781.6 L747.1 772.8 M772.6 763.9 L766.7 781.9 M766.7 781.9 L773.3 775.6 M766.7 781.9 L765.2 773.0 M790.8 763.9 L784.9 781.9 M784.9 781.9 L791.5 775.6 M784.9 781.9 L783.3 773.0" fill="none" stroke="#fff" stroke-width="1" stroke-linecap="butt" shape-rendering="crispEdges"/>
<path d="M1.5 28 v4 M1.5 773 v-5 M9.5 28 v17 M9.5 773 v-17 M16.5 28 v4 M16.5 773 v-5 M23.5 28 v4 M23.5 773 v-5 M31.5 28 v4 M31.5 773 v-5 M38.5 28 v4 M38.5 773 v-5 M45.5 28 v8 M45.5 773 v-9 M52.5 28 v4 M52.5 773 v-5 M60.5 28 v4 M60.5 773 v-5 M67.5 28 v4 M67.5 773 v-5 M74.5 28 v4 M74.5 773 v-5 M81.5 28 v17 M81.5 773 v-17 M89.5 28 v4 M89.5 773 v-5 M96.5 28 v4 M96.5 773 v-5 M103.5 28 v4 M103.5 773 v-5 M111.5 28 v4 M111.5 773 v-5 M118.5 28 v8 M118.5 773 v-9 M125.5 28 v4 M125.5 773 v-5 M132.5 28 v4 M132.5 773 v-5 M140.5 28 v4 M140.5 773 v-5 M147.5 28 v4 M147.5 773 v-5 M154.5 28 v17 M154.5 773 v-17 M161.5 28 v4 M161.5 773 v-5 M169.5 28 v4 M169.5 773 v-5 M176.5 28 v4 M176.5 773 v-5 M183.5 28 v4 M183.5 773 v-5 M191.5 28 v8 M191.5 773 v-9 M198.5 28 v4 M198.5 773 v-5 M205.5 28 v4 M205.5 773 v-5 M212.5 28 v4 M212.5 773 v-5 M220.5 28 v4 M220.5 773 v-5 M227.5 28 v17 M227.5 773 v-17 M234.5 28 v4 M234.5 773 v-5 M241.5 28 v4 M241.5 773 v-5 M249.5 28 v4 M249.5 773 v-5 M256.5 28 v4 M256.5 773 v-5 M263.5 28 v8 M263.5 773 v-9 M270.5 28 v4 M270.5 773 v-5 M278.5 28 v4 M278.5 773 v-5 M285.5 28 v4 M285.5 773 v-5 M292.5 28 v4 M292.5 773 v-5 M300.5 28 v17 M300.5 773 v-17 M307.5 28 v4 M307.5 773 v-5 M314.5 28 v4 M314.5 773 v-5 M321.5 28 v4 M321.5 773 v-5 M329.5 28 v4 M329.5 773 v-5 M336.5 28 v8 M336.5 773 v-9 M343.5 28 v4 M343.5 773 v-5 M350.5 28 v4 M350.5 773 v-5 M358.5 28 v4 M358.5 773 v-5 M365.5 28 v4 M365.5 773 v-5 M372.5 28 v17 M372.5 773 v-17 M380.5 28 v4 M380.5 773 v-5 M387.5 28 v4 M387.5 773 v-5 M394.5 28 v4 M394.5 773 v-5 M401.5 28 v4 M401.5 773 v-5 M409.5 28 v8 M409.5 773 v-9 M416.5 28 v4 M416.5 773 v-5 M423.5 28 v4 M423.5 773 v-5 M430.5 28 v4 M430.5 773 v-5 M438.5 28 v4 M438.5 773 v-5 M445.5 28 v17 M445.5 773 v-17 M452.5 28 v4 M452.5 773 v-5 M459.5 28 v4 M459.5 773 v-5 M467.5 28 v4 M467.5 773 v-5 M474.5 28 v4 M474.5 773 v-5 M481.5 28 v8 M481.5 773 v-9 M489.5 28 v4 M489.5 773 v-5 M496.5 28 v4 M496.5 773 v-5 M503.5 28 v4 M503.5 773 v-5 M510.5 28 v4 M510.5 773 v-5 M518.5 28 v17 M518.5 773 v-17 M525.5 28 v4 M525.5 773 v-5 M532.5 28 v4 M532.5 773 v-5 M539.5 28 v4 M539.5 773 v-5 M547.5 28 v4 M547.5 773 v-5 M554.5 28 v8 M554.5 773 v-9 M561.5 28 v4 M561.5 773 v-5 M569.5 28 v4 M569.5 773 v-5 M576.5 28 v4 M576.5 773 v-5 M583.5 28 v4 M583.5 773 v-5 M590.5 28 v17 M590.5 773 v-17 M598.5 28 v4 M598.5 773 v-5 M605.5 28 v4 M605.5 773 v-5 M612.5 28 v4 M612.5 773 v-5 M619.5 28 v4 M619.5 773 v-5 M627.5 28 v8 M627.5 773 v-9 M634.5 28 v4 M634.5 773 v-5 M641.5 28 v4 M641.5 773 v-5 M649.5 28 v4 M649.5 773 v-5 M656.5 28 v4 M656.5 773 v-5 M663.5 28 v17 M663.5 773 v-17 M670.5 28 v4 M670.5 773 v-5 M678.5 28 v4 M678.5 773 v-5 M685.5 28 v4 M685.5 773 v-5 M692.5 28 v4 M692.5 773 v-5 M699.5 28 v8 M699.5 773 v-9 M707.5 28 v4 M707.5 773 v-5 M714.5 28 v4 M714.5 773 v-5 M721.5 28 v4 M721.5 773 v-5 M728.5 28 v4 M728.5 773 v-5 M736.5 28 v17 M736.5 773 v-17 M743.5 28 v4 M743.5 773 v-5 M750.5 28 v4 M750.5 773 v-5 M758.5 28 v4 M758.5 773 v-5 M765.5 28 v4 M765.5 773 v-5 M772.5 28 v8 M772.5 773 v-9 M779.5 28 v4 M779.5 773 v-5 M787.5 28 v4 M787.5 773 v-5 M794.5 28 v4 M794.5 773 v-5 M1 29.5 h3 M800 29.5 h-5 M1 36.5 h17 M800 36.5 h-18 M1 43.5 h3 M800 43.5 h-5 M1 51.5 h3 M800 51.5 h-5 M1 58.5 h3 M800 58.5 h-5 M1 65.5 h3 M800 65.5 h-5 M1 72.5 h8 M800 72.5 h-9 M1 80.5 h3 M800 80.5 h-5 M1 87.5 h3 M800 87.5 h-5 M1 94.5 h3 M800 94.5 h-5 M1 101.5 h3 M800 101.5 h-5 M1 109.5 h17 M800 109.5 h-18 M1 116.5 h3 M800 116.5 h-5 M1 123.5 h3 M800 123.5 h-5 M1 131.5 h3 M800 131.5 h-5 M1 138.5 h3 M800 138.5 h-5 M1 145.5 h8 M800 145.5 h-9 M1 152.5 h3 M800 152.5 h-5 M1 160.5 h3 M800 160.5 h-5 M1 167.5 h3 M800 167.5 h-5 M1 174.5 h3 M800 174.5 h-5 M1 181.5 h17 M800 181.5 h-18 M1 189.5 h3 M800 189.5 h-5 M1 196.5 h3 M800 196.5 h-5 M1 203.5 h3 M800 203.5 h-5 M1 210.5 h3 M800 210.5 h-5 M1 218.5 h8 M800 218.5 h-9 M1 225.5 h3 M800 225.5 h-5 M1 232.5 h3 M800 232.5 h-5 M1 240.5 h3 M800 240.5 h-5 M1 247.5 h3 M800 247.5 h-5 M1 254.5 h17 M800 254.5 h-18 M1 261.5 h3 M800 261.5 h-5 M1 269.5 h3 M800 269.5 h-5 M1 276.5 h3 M800 276.5 h-5 M1 283.5 h3 M800 283.5 h-5 M1 290.5 h8 M800 290.5 h-9 M1 298.5 h3 M800 298.5 h-5 M1 305.5 h3 M800 305.5 h-5 M1 312.5 h3 M800 312.5 h-5 M1 320.5 h3 M800 320.5 h-5 M1 327.5 h17 M800 327.5 h-18 M1 334.5 h3 M800 334.5 h-5 M1 341.5 h3 M800 341.5 h-5 M1 349.5 h3 M800 349.5 h-5 M1 356.5 h3 M800 356.5 h-5 M1 363.5 h8 M800 363.5 h-9 M1 370.5 h3 M800 370.5 h-5 M1 378.5 h3 M800 378.5 h-5 M1 385.5 h3 M800 385.5 h-5 M1 392.5 h3 M800 392.5 h-5 M1 400.5 h17 M800 400.5 h-18 M1 407.5 h3 M800 407.5 h-5 M1 414.5 h3 M800 414.5 h-5 M1 421.5 h3 M800 421.5 h-5 M1 429.5 h3 M800 429.5 h-5 M1 436.5 h8 M800 436.5 h-9 M1 443.5 h3 M800 443.5 h-5 M1 450.5 h3 M800 450.5 h-5 M1 458.5 h3 M800 458.5 h-5 M1 465.5 h3 M800 465.5 h-5 M1 472.5 h17 M800 472.5 h-18 M1 479.5 h3 M800 479.5 h-5 M1 487.5 h3 M800 487.5 h-5 M1 494.5 h3 M800 494.5 h-5 M1 501.5 h3 M800 501.5 h-5 M1 509.5 h8 M800 509.5 h-9 M1 516.5 h3 M800 516.5 h-5 M1 523.5 h3 M800 523.5 h-5 M1 530.5 h3 M800 530.5 h-5 M1 538.5 h3 M800 538.5 h-5 M1 545.5 h17 M800 545.5 h-18 M1 552.5 h3 M800 552.5 h-5 M1 559.5 h3 M800 559.5 h-5 M1 567.5 h3 M800 567.5 h-5 M1 574.5 h3 M800 574.5 h-5 M1 581.5 h8 M800 581.5 h-9 M1 589.5 h3 M800 589.5 h-5 M1 596.5 h3 M800 596.5 h-5 M1 603.5 h3 M800 603.5 h-5 M1 610.5 h3 M800 610.5 h-5 M1 618.5 h17 M800 618.5 h-18 M1 625.5 h3 M800 625.5 h-5 M1 632.5 h3 M800 632.5 h-5 M1 639.5 h3 M800 639.5 h-5 M1 647.5 h3 M800 647.5 h-5 M1 654.5 h8 M800 654.5 h-9 M1 661.5 h3 M800 661.5 h-5 M1 668.5 h3 M800 668.5 h-5 M1 676.5 h3 M800 676.5 h-5 M1 683.5 h3 M800 683.5 h-5 M1 690.5 h17 M800 690.5 h-18 M1 698.5 h3 M800 698.5 h-5 M1 705.5 h3 M800 705.5 h-5 M1 712.5 h3 M800 712.5 h-5 M1 719.5 h3 M800 719.5 h-5 M1 727.5 h8 M800 727.5 h-9 M1 734.5 h3 M800 734.5 h-5 M1 741.5 h3 M800 741.5 h-5 M1 748.5 h3 M800 748.5 h-5 M1 756.5 h3 M800 756.5 h-5 M1 763.5 h17 M800 763.5 h-18 M1 770.5 h3 M800 770.5 h-5" stroke="#000" stroke-width="1" fill="none" shape-rendering="crispEdges"/>
<path d="M0.5 27 V773 M0 27.5 H800" stroke="#000" stroke-width="1" fill="none" shape-rendering="crispEdges"/>
<g font-family="'DejaVu Sans','Liberation Sans',sans-serif" font-weight="bold" font-size="23.6" fill="#808080" xml:space="preserve">
<text x="5.5" y="48.6" textLength="385" lengthAdjust="spacingAndGlyphs">modelo GEFS-WAVE (NCEP)</text>
<text x="5" y="72" textLength="495" lengthAdjust="spacingAndGlyphs">forecast date: 2025-12-14 18:00:00</text>
<text x="42" y="94.7" textLength="447" lengthAdjust="spacingAndGlyphs">valid date: 2025-12-20 21:00:00</text>
</g>
<g clip-path="url(#fr)" fill="none" stroke="#000" stroke-width="1" stroke-linejoin="round" shape-rendering="crispEdges">
<polyline points="234.4,27.5 239.0,30.6 234.4,32.8 232.8,40.6 234.4,51.6 229.7,61.0 227.5,75.0 228.0,90.6 223.4,95.3 214.0,98.4 212.5,101.6 216.6,107.8 214.0,118.8 220.3,129.7 215.6,137.5 211.6,143.8"/>
<polyline points="211.6,143.8 217.0,156.0 219.4,168.8 223.4,173.4 221.9,184.4 215.6,189.0 201.6,190.0 201.0,200.0 196.9,206.2 200.0,214.0 195.3,220.3 196.2,237.5 197.0,242.5 197.5,250.0 200.0,252.0 207.5,256.0 212.5,263.8 225.0,272.5 236.0,283.8 238.8,288.8 243.8,288.8 252.5,286.0 260.0,287.0 267.5,285.0 275.0,285.5 285.0,287.0 291.0,288.8 300.0,295.5 310.0,303.8 320.0,306.0 335.0,310.0 343.8,310.5 345.5,313.8 342.5,316.0 350.0,319.5 356.0,318.8 360.0,322.0 365.0,320.0 372.5,316.0 380.0,312.5 390.0,310.5 400.0,310.5 417.5,312.0 423.8,316.0 430.0,319.5 437.5,318.0 446.0,320.0 450.0,325.0 475.0,315.0 492.5,307.5 496.0,303.8 493.8,300.0 497.5,298.8 495.0,295.0 498.8,296.0 500.0,303.8 507.5,301.0 517.5,292.5 526.0,286.0 535.0,282.0 533.8,280.0 536.0,273.8 545.0,265.0 552.5,256.0 556.0,245.0 562.5,236.0 580.0,223.8 592.5,212.5 605.0,202.5 617.5,190.0 625.0,177.5 631.0,165.0 636.0,147.5 642.8,135.0 646.9,127.5 653.8,122.7 657.2,119.9 662.0,115.8 667.5,111.0 673.0,106.2 681.3,101.3 695.0,92.4 708.8,82.1 722.5,72.5 736.3,62.1 750.0,45.6 765.0,28.0"/>
<polyline points="211.6,143.8 211.0,156.2 214.0,168.8 217.2,178.0 215.6,187.5 200.0,187.5 196.2,189.0 196.2,200.0 190.6,209.4 187.5,225.0 188.0,237.5 189.0,238.0 193.8,245.6 197.0,253.4 198.4,264.4 192.0,273.8 186.0,274.7 185.3,275.3 193.8,278.4 190.6,284.7 193.8,289.4 201.5,295.6 207.5,301.0 215.0,307.5 225.0,310.5 237.5,313.8 250.0,320.0 260.0,326.0 270.0,332.5 280.0,342.5 287.5,352.5 290.0,360.0 285.0,367.5 277.5,375.0 272.5,385.0 272.0,395.0 275.0,405.0 282.5,415.0 292.5,422.5 303.8,426.0 310.0,424.5 317.0,423.0 320.8,426.0 322.5,440.0 324.5,453.8 323.8,465.0 310.0,482.5 300.0,496.0 287.5,510.0 275.0,520.0 265.5,530.0 261.0,537.5 261.0,550.0 258.8,555.0 240.0,565.0 228.0,570.0 218.0,575.0 200.0,581.0 186.0,585.6 166.0,590.4 148.0,595.6 128.0,599.0 112.0,601.6 98.0,605.6 81.0,607.6"/>
<polyline points="32.0,613.5 20.0,615.5 8.0,616.0 5.0,617.0 0.0,618.0"/>
<polyline points="407.5,28.0 418.8,37.5 422.5,46.0 427.5,53.8 437.5,60.0 442.5,55.5 450.0,62.5 457.5,67.5 466.0,68.0 480.0,75.0 490.0,87.5 507.5,102.0 511.0,100.0 517.5,103.8 523.8,104.5 528.8,110.0 536.0,112.5 538.8,122.5 543.0,127.5 543.8,135.0 550.0,142.5 560.0,150.0 572.5,153.8 583.8,162.0 571.0,172.5 567.5,179.5 557.5,183.8 552.0,192.5 551.8,200.0 550.8,225.0 553.8,231.0 560.0,232.5 562.5,236.0"/>
<polyline points="700.5,28.0 701.2,32.0 702.6,38.8 704.0,41.5 700.5,43.0 692.3,45.6 690.2,47.7 689.5,54.6 681.3,55.5 674.4,57.3 668.9,59.4 665.4,62.8 664.0,65.6 662.5,70.0 660.5,75.5 658.0,76.6 656.8,78.5 658.5,80.5 661.0,79.5 661.0,77.0 662.0,82.0 660.6,85.5 655.1,87.6 648.2,89.6 647.6,96.5 645.5,97.9 646.9,100.0 653.0,102.0 653.8,104.0 646.2,106.8 644.8,113.0 648.2,115.0 653.0,113.0 654.4,111.0 656.5,111.7 655.8,115.8 657.2,119.9"/>
<polyline points="658.6,118.5 660.0,112.0 663.0,106.0 660.0,101.0 657.9,95.8 659.2,99.3 667.5,98.6 673.0,99.3 676.4,96.5 675.8,94.5 679.9,93.8 685.4,93.1 692.3,86.9 697.8,82.1 702.6,78.6 701.9,81.4 704.0,73.1 706.0,71.8 705.3,73.8 711.5,73.8 717.0,71.0 721.1,66.2 723.9,60.8 725.3,52.5 723.9,45.6 726.0,41.5 730.8,42.2 734.9,40.1 736.3,45.6 738.3,45.6 740.4,42.2 739.0,40.8 737.0,41.5 737.0,28.0"/>
<polyline points="737.8,28.0 737.8,45.0"/>
<polyline points="743.5,28.0 742.5,30.0"/>
<polyline points="398.5,28.5 397.0,31.5 391.0,32.5 386.0,37.0 381.0,40.5 376.0,42.5 372.0,42.7"/>
</g>
<g font-family="'DejaVu Sans','Liberation Sans',sans-serif" font-size="11" font-weight="200" fill="#808080" stroke="#808080" stroke-width="0.3">
<text x="771.5" y="32.2" textLength="20.5" lengthAdjust="spacingAndGlyphs" clip-path="url(#fr)">31S</text>
<text x="771.5" y="104.9" textLength="20.5" lengthAdjust="spacingAndGlyphs">32S</text>
<text x="771.5" y="177.6" textLength="20.5" lengthAdjust="spacingAndGlyphs">33S</text>
<text x="771.5" y="250.3" textLength="20.5" lengthAdjust="spacingAndGlyphs">34S</text>
<text x="771.5" y="323.0" textLength="20.5" lengthAdjust="spacingAndGlyphs">35S</text>
<text x="771.5" y="395.7" textLength="20.5" lengthAdjust="spacingAndGlyphs">36S</text>
<text x="771.5" y="468.4" textLength="20.5" lengthAdjust="spacingAndGlyphs">37S</text>
<text x="771.5" y="541.1" textLength="20.5" lengthAdjust="spacingAndGlyphs">38S</text>
<text x="771.5" y="613.8" textLength="20.5" lengthAdjust="spacingAndGlyphs">39S</text>
<text x="771.5" y="686.5" textLength="20.5" lengthAdjust="spacingAndGlyphs">40S</text>
<text x="771.5" y="759.2" textLength="20.5" lengthAdjust="spacingAndGlyphs">41S</text>
<text transform="translate(13.0,744.5) rotate(90)" textLength="20.5" lengthAdjust="spacingAndGlyphs">61W</text>
<text transform="translate(85.7,744.5) rotate(90)" textLength="20.5" lengthAdjust="spacingAndGlyphs">60W</text>
<text transform="translate(158.4,744.5) rotate(90)" textLength="20.5" lengthAdjust="spacingAndGlyphs">59W</text>
<text transform="translate(231.1,744.5) rotate(90)" textLength="20.5" lengthAdjust="spacingAndGlyphs">58W</text>
<text transform="translate(303.8,744.5) rotate(90)" textLength="20.5" lengthAdjust="spacingAndGlyphs">57W</text>
<text transform="translate(376.5,744.5) rotate(90)" textLength="20.5" lengthAdjust="spacingAndGlyphs">56W</text>
<text transform="translate(449.2,744.5) rotate(90)" textLength="20.5" lengthAdjust="spacingAndGlyphs">55W</text>
<text transform="translate(521.9,744.5) rotate(90)" textLength="20.5" lengthAdjust="spacingAndGlyphs">54W</text>
<text transform="translate(594.6,744.5) rotate(90)" textLength="20.5" lengthAdjust="spacingAndGlyphs">53W</text>
<text transform="translate(667.3,744.5) rotate(90)" textLength="20.5" lengthAdjust="spacingAndGlyphs">52W</text>
<text transform="translate(740.0,744.5) rotate(90)" textLength="20.5" lengthAdjust="spacingAndGlyphs">51W</text>
</g>
<g shape-rendering="crispEdges"><rect x="32" y="159" width="50" height="610" fill="#fff"/>
<rect x="33" y="160" width="48" height="608" fill="#000"/>
<rect x="34" y="161" width="46" height="606" fill="#fff"/>
<rect x="35" y="162" width="44" height="604" fill="url(#cb)"/></g>
<g font-family="'DejaVu Sans','Liberation Sans',sans-serif" font-weight="200" font-size="14" fill="#000" stroke="#000" stroke-width="0.3">
<text x="86.3" y="773.3">0</text>
<text x="86.3" y="621.3">8</text>
<text x="86.3" y="469.3">15</text>
<text x="86.3" y="317.3">22</text>
<text x="86.3" y="165.3">30</text>
<text x="34.5" y="148" font-size="16.5" textLength="43" lengthAdjust="spacingAndGlyphs">[m/s]</text>
</g>
</svg></body></html>
